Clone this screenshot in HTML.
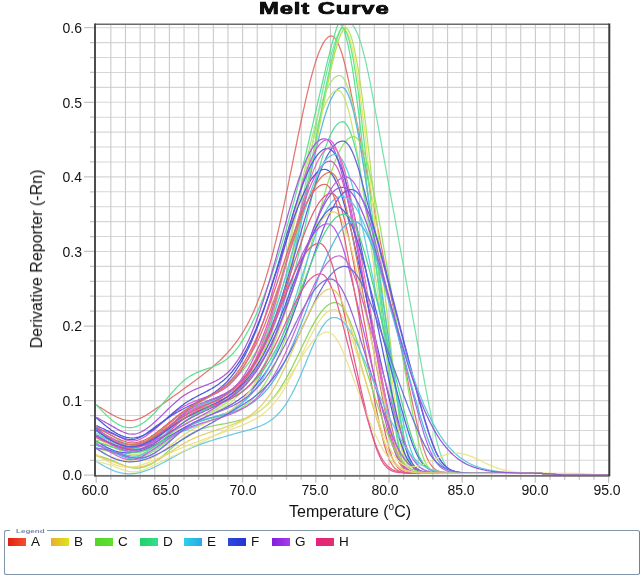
<!DOCTYPE html>
<html><head><meta charset="utf-8"><style>
html,body{margin:0;padding:0;background:#fff;}
body{width:644px;height:578px;position:relative;overflow:hidden;-webkit-font-smoothing:antialiased;font-family:"Liberation Sans",sans-serif;color:#111;}
.title{will-change:transform;position:absolute;left:259.2px;top:-0.6px;font-size:16.5px;font-weight:bold;letter-spacing:0.6px;-webkit-text-stroke:0.7px #000;transform:scaleX(1.445);transform-origin:0 0;white-space:nowrap;}
.ylab{will-change:transform;position:absolute;left:37.2px;top:259px;font-size:16px;white-space:nowrap;transform:translate(-50%,-50%) rotate(-90deg);}
.yl{will-change:transform;position:absolute;left:40px;width:42px;text-align:right;font-size:14px;line-height:17px;}
.xl{will-change:transform;position:absolute;top:482px;width:60px;text-align:center;font-size:14px;line-height:17px;}
.xlab{will-change:transform;position:absolute;left:288.6px;top:503px;font-size:16px;white-space:nowrap;}
.xlab sup{font-size:10px;vertical-align:0;position:relative;top:-7px;}
.legend{position:absolute;left:4.2px;top:530.1px;width:633.4px;height:42.6px;border:1.8px solid #8194a9;border-right-color:#6f8398;border-radius:2.5px;}
.legt{position:absolute;left:10px;top:526px;width:37px;height:9px;background:#fff;}
.legt span{will-change:transform;position:absolute;left:6px;top:0.6px;font-size:6.2px;font-weight:bold;line-height:7px;color:#7489a8;transform:scaleX(1.3);transform-origin:0 0;white-space:nowrap;}
.sw{position:absolute;top:538px;width:18px;height:8px;}
.lt{will-change:transform;position:absolute;top:534px;font-size:13.5px;line-height:15px;}
</style></head><body>
<svg width="644" height="578" viewBox="0 0 644 578" style="position:absolute;left:0;top:0"><defs><filter id="bl" x="-5%" y="-5%" width="110%" height="110%"><feGaussianBlur stdDeviation="0.0"/></filter><clipPath id="pc"><rect x="95.0" y="25.1" width="514.3" height="450.09999999999997"/></clipPath></defs><path d="M95.0,475.20H609.3 M95.0,460.28H609.3 M95.0,445.37H609.3 M95.0,430.45H609.3 M95.0,415.54H609.3 M95.0,400.62H609.3 M95.0,385.70H609.3 M95.0,370.79H609.3 M95.0,355.87H609.3 M95.0,340.96H609.3 M95.0,326.04H609.3 M95.0,311.12H609.3 M95.0,296.21H609.3 M95.0,281.29H609.3 M95.0,266.38H609.3 M95.0,251.46H609.3 M95.0,236.54H609.3 M95.0,221.63H609.3 M95.0,206.71H609.3 M95.0,191.80H609.3 M95.0,176.88H609.3 M95.0,161.96H609.3 M95.0,147.05H609.3 M95.0,132.13H609.3 M95.0,117.22H609.3 M95.0,102.30H609.3 M95.0,87.38H609.3 M95.0,72.47H609.3 M95.0,57.55H609.3 M95.0,42.64H609.3 M95.0,27.72H609.3" stroke="#d6d6d6" stroke-width="1.05" fill="none"/><path d="M110.84,24.3V475.2 M125.48,24.3V475.2 M140.12,24.3V475.2 M154.76,24.3V475.2 M169.40,24.3V475.2 M184.04,24.3V475.2 M198.68,24.3V475.2 M213.32,24.3V475.2 M227.96,24.3V475.2 M242.60,24.3V475.2 M257.24,24.3V475.2 M271.88,24.3V475.2 M286.52,24.3V475.2 M301.16,24.3V475.2 M315.80,24.3V475.2 M330.44,24.3V475.2 M345.08,24.3V475.2 M359.72,24.3V475.2 M374.36,24.3V475.2 M389.00,24.3V475.2 M403.64,24.3V475.2 M418.28,24.3V475.2 M432.92,24.3V475.2 M447.56,24.3V475.2 M462.20,24.3V475.2 M476.84,24.3V475.2 M491.48,24.3V475.2 M506.12,24.3V475.2 M520.76,24.3V475.2 M535.40,24.3V475.2 M550.04,24.3V475.2 M564.68,24.3V475.2 M579.32,24.3V475.2 M593.96,24.3V475.2" stroke="#cacaca" stroke-width="1.1" fill="none"/><path d="M96.20,476.2v6.5 M110.84,476.2v3.5 M125.48,476.2v3.5 M140.12,476.2v3.5 M154.76,476.2v3.5 M169.40,476.2v6.5 M184.04,476.2v3.5 M198.68,476.2v3.5 M213.32,476.2v3.5 M227.96,476.2v3.5 M242.60,476.2v6.5 M257.24,476.2v3.5 M271.88,476.2v3.5 M286.52,476.2v3.5 M301.16,476.2v3.5 M315.80,476.2v6.5 M330.44,476.2v3.5 M345.08,476.2v3.5 M359.72,476.2v3.5 M374.36,476.2v3.5 M389.00,476.2v6.5 M403.64,476.2v3.5 M418.28,476.2v3.5 M432.92,476.2v3.5 M447.56,476.2v3.5 M462.20,476.2v6.5 M476.84,476.2v3.5 M491.48,476.2v3.5 M506.12,476.2v3.5 M520.76,476.2v3.5 M535.40,476.2v6.5 M550.04,476.2v3.5 M564.68,476.2v3.5 M579.32,476.2v3.5 M593.96,476.2v3.5 M608.60,476.2v6.5 M95.0,475.20h-11 M95.0,460.28h-5 M95.0,445.37h-5 M95.0,430.45h-5 M95.0,415.54h-5 M95.0,400.62h-11 M95.0,385.70h-5 M95.0,370.79h-5 M95.0,355.87h-5 M95.0,340.96h-5 M95.0,326.04h-11 M95.0,311.12h-5 M95.0,296.21h-5 M95.0,281.29h-5 M95.0,266.38h-5 M95.0,251.46h-11 M95.0,236.54h-5 M95.0,221.63h-5 M95.0,206.71h-5 M95.0,191.80h-5 M95.0,176.88h-11 M95.0,161.96h-5 M95.0,147.05h-5 M95.0,132.13h-5 M95.0,117.22h-5 M95.0,102.30h-11 M95.0,87.38h-5 M95.0,72.47h-5 M95.0,57.55h-5 M95.0,42.64h-5 M95.0,27.72h-11" stroke="#c4c4c4" stroke-width="1.3" fill="none"/></svg><svg width="644" height="578" viewBox="0 0 644 578" style="position:absolute;left:0;top:0"><defs><clipPath id="pc2"><rect x="95.0" y="25.1" width="514.3" height="450.09999999999997"/></clipPath></defs><g clip-path="url(#pc2)"><g fill="none" stroke-width="1.25" stroke-linejoin="round" opacity="0.85"><path d="M96.2,404.7 L97.7,405.7 L99.1,406.7 L100.6,407.6 L102.1,408.6 L103.5,409.5 L105.0,410.4 L106.4,411.4 L107.9,412.2 L109.4,413.1 L110.8,413.9 L112.3,414.8 L113.8,415.5 L115.2,416.3 L116.7,417.0 L118.2,417.6 L119.6,418.2 L121.1,418.8 L122.6,419.3 L124.0,419.7 L125.5,420.0 L126.9,420.3 L128.4,420.4 L129.9,420.5 L131.3,420.5 L132.8,420.4 L134.3,420.2 L135.7,419.8 L137.2,419.4 L138.7,418.9 L140.1,418.3 L141.6,417.7 L143.0,416.9 L144.5,416.2 L146.0,415.3 L147.4,414.4 L148.9,413.5 L150.4,412.6 L151.8,411.6 L153.3,410.6 L154.8,409.6 L156.2,408.6 L157.7,407.5 L159.2,406.5 L160.6,405.5 L162.1,404.5 L163.5,403.4 L165.0,402.4 L166.5,401.3 L167.9,400.3 L169.4,399.2 L170.9,398.2 L172.3,397.1 L173.8,396.1 L175.3,395.0 L176.7,394.0 L178.2,392.9 L179.6,391.9 L181.1,390.8 L182.6,389.7 L184.0,388.7 L185.5,387.6 L187.0,386.6 L188.4,385.5 L189.9,384.4 L191.4,383.3 L192.8,382.3 L194.3,381.2 L195.8,380.1 L197.2,379.0 L198.7,377.9 L200.1,376.8 L201.6,375.7 L203.1,374.6 L204.5,373.4 L206.0,372.3 L207.5,371.1 L208.9,370.0 L210.4,368.8 L211.9,367.6 L213.3,366.3 L214.8,365.1 L216.2,363.8 L217.7,362.5 L219.2,361.1 L220.6,359.7 L222.1,358.3 L223.6,356.8 L225.0,355.3 L226.5,353.8 L228.0,352.1 L229.4,350.5 L230.9,348.8 L232.4,347.0 L233.8,345.2 L235.3,343.3 L236.7,341.3 L238.2,339.3 L239.7,337.2 L241.1,335.0 L242.6,332.7 L244.1,330.3 L245.5,327.8 L247.0,325.2 L248.5,322.4 L249.9,319.5 L251.4,316.5 L252.8,313.4 L254.3,310.0 L255.8,306.6 L257.2,302.9 L258.7,299.1 L260.2,295.2 L261.6,291.0 L263.1,286.7 L264.6,282.1 L266.0,277.4 L267.5,272.5 L269.0,267.5 L270.4,262.2 L271.9,256.7 L273.3,251.1 L274.8,245.2 L276.3,239.2 L277.7,233.0 L279.2,226.7 L280.7,220.2 L282.1,213.6 L283.6,206.8 L285.1,199.9 L286.5,192.9 L288.0,185.8 L289.4,178.6 L290.9,171.4 L292.4,164.1 L293.8,156.9 L295.3,149.6 L296.8,142.3 L298.2,135.1 L299.7,128.0 L301.2,121.0 L302.6,114.1 L304.1,107.3 L305.6,100.7 L307.0,94.3 L308.5,88.1 L309.9,82.2 L311.4,76.5 L312.9,71.2 L314.3,66.1 L315.8,61.4 L317.3,57.0 L318.7,53.0 L320.2,49.4 L321.7,46.2 L323.1,43.4 L324.6,41.0 L326.0,39.1 L327.5,37.6 L329.0,36.6 L330.4,36.0 L331.9,36.0 L333.4,36.8 L334.8,38.1 L336.3,40.2 L337.8,42.8 L339.2,46.1 L340.7,50.0 L342.2,54.5 L343.6,59.5 L345.1,65.1 L346.5,71.2 L348.0,77.9 L349.5,84.9 L350.9,92.3 L352.4,99.7 L353.9,107.2 L355.3,114.6 L356.8,122.0 L358.3,129.4 L359.7,136.8 L361.2,144.2 L362.6,151.7 L364.1,159.1 L365.6,166.5 L367.0,173.9 L368.5,181.4 L370.0,188.8 L371.4,196.2 L372.9,203.7 L374.4,211.1 L375.8,218.5 L377.3,226.0 L378.8,233.4 L380.2,240.9 L381.7,248.3 L383.1,255.7 L384.6,263.2 L386.1,270.6 L387.5,278.1 L389.0,285.5 L390.5,293.0 L391.9,300.4 L393.4,307.8 L394.9,315.3 L396.3,322.7 L397.8,330.1 L399.2,337.5 L400.7,344.9 L402.2,352.3 L403.6,359.7 L405.1,367.0 L406.6,374.3 L408.0,381.6 L409.5,388.8 L411.0,395.9 L412.4,402.9 L413.9,409.8 L415.4,416.5 L416.8,423.0 L418.3,429.2 L419.7,435.1 L421.2,440.6 L422.7,445.7 L424.1,450.3 L425.6,454.4 L427.1,458.0 L428.5,461.0 L430.0,463.6 L431.5,465.7 L432.9,467.4 L434.4,468.7 L435.8,469.8 L437.3,470.6 L438.8,471.2 L440.2,471.7 L441.7,472.1 L443.2,472.4 L444.6,472.6 L446.1,472.8 L447.6,472.9 L449.0,473.0 L450.5,473.1 L452.0,473.1 L453.4,473.1 L454.9,473.2 L456.3,473.2 L457.8,473.2 L459.3,473.2 L460.7,473.2 L462.2,473.2 L463.7,473.2 L465.1,473.3 L466.6,473.3 L468.1,473.3 L469.5,473.3 L471.0,473.3 L472.4,473.3 L473.9,473.3 L475.4,473.3 L476.8,473.3 L478.3,473.3 L479.8,473.3 L481.2,473.3 L482.7,473.3 L484.2,473.3 L485.6,473.3 L487.1,473.3 L488.6,473.3 L490.0,473.3 L491.5,473.3 L492.9,473.3 L494.4,473.3 L495.9,473.3 L497.3,473.3 L498.8,473.3 L500.3,473.3 L501.7,473.3 L503.2,473.3 L504.7,473.3 L506.1,473.3 L507.6,473.3 L509.0,473.3 L510.5,473.3 L512.0,473.3 L513.4,473.3 L514.9,473.3 L516.4,473.3 L517.8,473.3 L519.3,473.3 L520.8,473.3 L522.2,473.3 L523.7,473.3 L525.2,473.3 L526.6,473.3 L528.1,473.3 L529.5,473.3 L531.0,473.3 L532.5,473.3 L533.9,473.3 L535.4,473.3 L536.9,473.4 L538.3,473.4 L539.8,473.4 L541.3,473.4 L542.7,473.5 L544.2,473.5 L545.6,473.6 L547.1,473.7 L548.6,473.8 L550.0,473.9 L551.5,474.0 L553.0,474.1 L554.4,474.2 L555.9,474.4 L557.4,474.5 L558.8,474.6 L560.3,474.7 L561.8,474.8 L563.2,474.8 L564.7,474.9 L566.1,475.0 L567.6,475.0 L569.1,475.1 L570.5,475.1 L572.0,475.1 L573.5,475.1 L574.9,475.1 L576.4,475.2 L577.9,475.2 L579.3,475.2 L580.8,475.2 L582.2,475.2 L583.7,475.2 L585.2,475.2 L586.6,475.2 L588.1,475.2 L589.6,475.2 L591.0,475.2 L592.5,475.2 L594.0,475.2 L595.4,475.2 L596.9,475.2 L598.4,475.2 L599.8,475.2 L601.3,475.2 L602.7,475.2 L604.2,475.2 L605.7,475.2 L607.1,475.2 L608.6,475.2" stroke="#e05e58"/><path d="M96.2,404.7 L97.7,406.3 L99.1,407.8 L100.6,409.4 L102.1,410.9 L103.5,412.4 L105.0,413.8 L106.4,415.3 L107.9,416.6 L109.4,417.9 L110.8,419.2 L112.3,420.4 L113.8,421.5 L115.2,422.5 L116.7,423.5 L118.2,424.4 L119.6,425.1 L121.1,425.8 L122.6,426.4 L124.0,426.9 L125.5,427.2 L126.9,427.5 L128.4,427.7 L129.9,427.7 L131.3,427.7 L132.8,427.5 L134.3,427.2 L135.7,426.7 L137.2,426.2 L138.7,425.5 L140.1,424.8 L141.6,423.9 L143.0,423.0 L144.5,421.9 L146.0,420.8 L147.4,419.6 L148.9,418.3 L150.4,417.0 L151.8,415.6 L153.3,414.1 L154.8,412.6 L156.2,411.0 L157.7,409.4 L159.2,407.7 L160.6,406.0 L162.1,404.3 L163.5,402.6 L165.0,400.8 L166.5,399.1 L167.9,397.4 L169.4,395.6 L170.9,393.9 L172.3,392.2 L173.8,390.6 L175.3,389.0 L176.7,387.4 L178.2,385.9 L179.6,384.4 L181.1,383.1 L182.6,381.7 L184.0,380.5 L185.5,379.3 L187.0,378.2 L188.4,377.2 L189.9,376.3 L191.4,375.4 L192.8,374.6 L194.3,373.8 L195.8,373.1 L197.2,372.4 L198.7,371.8 L200.1,371.2 L201.6,370.7 L203.1,370.1 L204.5,369.6 L206.0,369.1 L207.5,368.6 L208.9,368.1 L210.4,367.6 L211.9,367.0 L213.3,366.5 L214.8,365.9 L216.2,365.3 L217.7,364.6 L219.2,363.9 L220.6,363.1 L222.1,362.3 L223.6,361.4 L225.0,360.4 L226.5,359.3 L228.0,358.1 L229.4,356.8 L230.9,355.4 L232.4,354.0 L233.8,352.3 L235.3,350.6 L236.7,348.8 L238.2,346.9 L239.7,344.8 L241.1,342.7 L242.6,340.4 L244.1,338.0 L245.5,335.5 L247.0,332.9 L248.5,330.3 L249.9,327.5 L251.4,324.6 L252.8,321.6 L254.3,318.5 L255.8,315.3 L257.2,312.1 L258.7,308.7 L260.2,305.3 L261.6,301.7 L263.1,298.1 L264.6,294.4 L266.0,290.6 L267.5,286.7 L269.0,282.7 L270.4,278.7 L271.9,274.5 L273.3,270.3 L274.8,266.0 L276.3,261.6 L277.7,257.1 L279.2,252.5 L280.7,247.8 L282.1,243.1 L283.6,238.2 L285.1,233.3 L286.5,228.2 L288.0,223.1 L289.4,217.9 L290.9,212.6 L292.4,207.2 L293.8,201.8 L295.3,196.2 L296.8,190.6 L298.2,184.8 L299.7,179.0 L301.2,173.2 L302.6,167.2 L304.1,161.2 L305.6,155.1 L307.0,148.9 L308.5,142.7 L309.9,136.5 L311.4,130.2 L312.9,123.9 L314.3,117.5 L315.8,111.1 L317.3,104.8 L318.7,98.4 L320.2,92.1 L321.7,85.8 L323.1,79.5 L324.6,73.3 L326.0,67.2 L327.5,61.2 L329.0,55.3 L330.4,49.6 L331.9,44.1 L333.4,38.8 L334.8,33.8 L336.3,29.1 L337.8,25.0 L339.2,23.3 L340.7,24.3 L342.2,26.3 L343.6,29.4 L345.1,33.5 L346.5,38.6 L348.0,44.7 L349.5,51.7 L350.9,59.6 L352.4,68.4 L353.9,77.8 L355.3,88.0 L356.8,98.8 L358.3,110.2 L359.7,122.1 L361.2,134.4 L362.6,147.0 L364.1,159.8 L365.6,172.5 L367.0,185.3 L368.5,198.1 L370.0,210.9 L371.4,223.6 L372.9,236.4 L374.4,249.2 L375.8,262.0 L377.3,274.7 L378.8,287.5 L380.2,300.3 L381.7,313.1 L383.1,325.8 L384.6,338.6 L386.1,351.3 L387.5,363.9 L389.0,376.4 L390.5,388.8 L391.9,401.0 L393.4,412.8 L394.9,424.0 L396.3,434.4 L397.8,443.7 L399.2,451.7 L400.7,458.1 L402.2,463.0 L403.6,466.6 L405.1,469.0 L406.6,470.6 L408.0,471.6 L409.5,472.3 L411.0,472.7 L412.4,472.9 L413.9,473.1 L415.4,473.2 L416.8,473.2 L418.3,473.3 L419.7,473.3 L421.2,473.3 L422.7,473.3 L424.1,473.3 L425.6,473.3 L427.1,473.3 L428.5,473.3 L430.0,473.3 L431.5,473.3 L432.9,473.3 L434.4,473.3 L435.8,473.3 L437.3,473.3 L438.8,473.3 L440.2,473.3 L441.7,473.3 L443.2,473.3 L444.6,473.3 L446.1,473.3 L447.6,473.3 L449.0,473.3 L450.5,473.3 L452.0,473.3 L453.4,473.3 L454.9,473.3 L456.3,473.3 L457.8,473.3 L459.3,473.3 L460.7,473.3 L462.2,473.3 L463.7,473.3 L465.1,473.3 L466.6,473.3 L468.1,473.3 L469.5,473.3 L471.0,473.3 L472.4,473.3 L473.9,473.3 L475.4,473.3 L476.8,473.3 L478.3,473.3 L479.8,473.3 L481.2,473.3 L482.7,473.3 L484.2,473.3 L485.6,473.3 L487.1,473.3 L488.6,473.3 L490.0,473.3 L491.5,473.3 L492.9,473.3 L494.4,473.3 L495.9,473.3 L497.3,473.3 L498.8,473.3 L500.3,473.3 L501.7,473.3 L503.2,473.3 L504.7,473.3 L506.1,473.3 L507.6,473.3 L509.0,473.3 L510.5,473.3 L512.0,473.3 L513.4,473.3 L514.9,473.3 L516.4,473.3 L517.8,473.3 L519.3,473.3 L520.8,473.3 L522.2,473.3 L523.7,473.3 L525.2,473.3 L526.6,473.3 L528.1,473.3 L529.5,473.3 L531.0,473.3 L532.5,473.3 L533.9,473.3 L535.4,473.3 L536.9,473.4 L538.3,473.4 L539.8,473.4 L541.3,473.4 L542.7,473.5 L544.2,473.5 L545.6,473.6 L547.1,473.7 L548.6,473.8 L550.0,473.9 L551.5,474.0 L553.0,474.1 L554.4,474.2 L555.9,474.4 L557.4,474.5 L558.8,474.6 L560.3,474.7 L561.8,474.8 L563.2,474.8 L564.7,474.9 L566.1,475.0 L567.6,475.0 L569.1,475.1 L570.5,475.1 L572.0,475.1 L573.5,475.1 L574.9,475.1 L576.4,475.2 L577.9,475.2 L579.3,475.2 L580.8,475.2 L582.2,475.2 L583.7,475.2 L585.2,475.2 L586.6,475.2 L588.1,475.2 L589.6,475.2 L591.0,475.2 L592.5,475.2 L594.0,475.2 L595.4,475.2 L596.9,475.2 L598.4,475.2 L599.8,475.2 L601.3,475.2 L602.7,475.2 L604.2,475.2 L605.7,475.2 L607.1,475.2 L608.6,475.2" stroke="#3ede80"/><path d="M96.2,432.8 L97.7,433.7 L99.1,434.5 L100.6,435.4 L102.1,436.2 L103.5,437.0 L105.0,437.9 L106.4,438.6 L107.9,439.4 L109.4,440.1 L110.8,440.8 L112.3,441.5 L113.8,442.1 L115.2,442.7 L116.7,443.2 L118.2,443.7 L119.6,444.1 L121.1,444.5 L122.6,444.8 L124.0,445.1 L125.5,445.4 L126.9,445.6 L128.4,445.8 L129.9,445.9 L131.3,446.0 L132.8,446.0 L134.3,446.0 L135.7,446.0 L137.2,445.9 L138.7,445.7 L140.1,445.5 L141.6,445.2 L143.0,444.9 L144.5,444.5 L146.0,444.1 L147.4,443.6 L148.9,443.0 L150.4,442.4 L151.8,441.7 L153.3,440.9 L154.8,440.0 L156.2,439.1 L157.7,438.1 L159.2,437.0 L160.6,435.8 L162.1,434.6 L163.5,433.4 L165.0,432.1 L166.5,430.8 L167.9,429.5 L169.4,428.1 L170.9,426.8 L172.3,425.4 L173.8,424.0 L175.3,422.6 L176.7,421.3 L178.2,420.0 L179.6,418.7 L181.1,417.4 L182.6,416.2 L184.0,415.0 L185.5,413.8 L187.0,412.8 L188.4,411.7 L189.9,410.7 L191.4,409.8 L192.8,408.9 L194.3,408.0 L195.8,407.2 L197.2,406.4 L198.7,405.7 L200.1,405.0 L201.6,404.3 L203.1,403.6 L204.5,403.0 L206.0,402.3 L207.5,401.7 L208.9,401.1 L210.4,400.6 L211.9,400.0 L213.3,399.4 L214.8,398.9 L216.2,398.3 L217.7,397.8 L219.2,397.2 L220.6,396.6 L222.1,396.0 L223.6,395.4 L225.0,394.7 L226.5,394.0 L228.0,393.3 L229.4,392.6 L230.9,391.8 L232.4,390.9 L233.8,390.1 L235.3,389.1 L236.7,388.2 L238.2,387.1 L239.7,386.0 L241.1,384.8 L242.6,383.6 L244.1,382.3 L245.5,380.8 L247.0,379.3 L248.5,377.7 L249.9,376.0 L251.4,374.2 L252.8,372.2 L254.3,370.1 L255.8,367.9 L257.2,365.6 L258.7,363.1 L260.2,360.4 L261.6,357.6 L263.1,354.6 L264.6,351.5 L266.0,348.2 L267.5,344.6 L269.0,340.9 L270.4,337.0 L271.9,332.9 L273.3,328.6 L274.8,324.1 L276.3,319.3 L277.7,314.4 L279.2,309.2 L280.7,303.8 L282.1,298.2 L283.6,292.4 L285.1,286.3 L286.5,280.1 L288.0,273.6 L289.4,267.0 L290.9,260.1 L292.4,253.1 L293.8,245.9 L295.3,238.5 L296.8,231.0 L298.2,223.3 L299.7,215.5 L301.2,207.6 L302.6,199.5 L304.1,191.4 L305.6,183.3 L307.0,175.1 L308.5,166.9 L309.9,158.6 L311.4,150.5 L312.9,142.3 L314.3,134.2 L315.8,126.3 L317.3,118.4 L318.7,110.7 L320.2,103.2 L321.7,95.8 L323.1,88.7 L324.6,81.9 L326.0,75.3 L327.5,69.0 L329.0,63.0 L330.4,57.3 L331.9,52.0 L333.4,47.1 L334.8,42.6 L336.3,38.6 L337.8,34.9 L339.2,31.7 L340.7,29.0 L342.2,26.7 L343.6,24.9 L345.1,23.6 L346.5,22.8 L348.0,22.5 L349.5,22.7 L350.9,23.4 L352.4,24.7 L353.9,26.6 L355.3,29.1 L356.8,32.1 L358.3,35.7 L359.7,39.8 L361.2,44.4 L362.6,49.5 L364.1,55.1 L365.6,61.2 L367.0,67.6 L368.5,74.5 L370.0,81.8 L371.4,89.4 L372.9,97.4 L374.4,105.4 L375.8,113.5 L377.3,121.6 L378.8,129.6 L380.2,137.7 L381.7,145.8 L383.1,153.9 L384.6,161.9 L386.1,170.0 L387.5,178.1 L389.0,186.2 L390.5,194.3 L391.9,202.4 L393.4,210.4 L394.9,218.5 L396.3,226.6 L397.8,234.7 L399.2,242.8 L400.7,250.9 L402.2,259.0 L403.6,267.1 L405.1,275.1 L406.6,283.2 L408.0,291.3 L409.5,299.4 L411.0,307.5 L412.4,315.6 L413.9,323.6 L415.4,331.7 L416.8,339.8 L418.3,347.8 L419.7,355.8 L421.2,363.8 L422.7,371.8 L424.1,379.7 L425.6,387.5 L427.1,395.3 L428.5,402.9 L430.0,410.4 L431.5,417.6 L432.9,424.6 L434.4,431.3 L435.8,437.5 L437.3,443.3 L438.8,448.6 L440.2,453.2 L441.7,457.3 L443.2,460.7 L444.6,463.5 L446.1,465.8 L447.6,467.6 L449.0,469.0 L450.5,470.1 L452.0,470.9 L453.4,471.5 L454.9,472.0 L456.3,472.3 L457.8,472.6 L459.3,472.7 L460.7,472.9 L462.2,473.0 L463.7,473.1 L465.1,473.1 L466.6,473.2 L468.1,473.2 L469.5,473.2 L471.0,473.2 L472.4,473.2 L473.9,473.2 L475.4,473.2 L476.8,473.3 L478.3,473.3 L479.8,473.3 L481.2,473.3 L482.7,473.3 L484.2,473.3 L485.6,473.3 L487.1,473.3 L488.6,473.3 L490.0,473.3 L491.5,473.3 L492.9,473.3 L494.4,473.3 L495.9,473.3 L497.3,473.3 L498.8,473.3 L500.3,473.3 L501.7,473.3 L503.2,473.3 L504.7,473.3 L506.1,473.3 L507.6,473.3 L509.0,473.3 L510.5,473.3 L512.0,473.3 L513.4,473.3 L514.9,473.3 L516.4,473.3 L517.8,473.3 L519.3,473.3 L520.8,473.3 L522.2,473.3 L523.7,473.3 L525.2,473.3 L526.6,473.3 L528.1,473.3 L529.5,473.3 L531.0,473.3 L532.5,473.3 L533.9,473.3 L535.4,473.3 L536.9,473.4 L538.3,473.4 L539.8,473.4 L541.3,473.4 L542.7,473.5 L544.2,473.5 L545.6,473.6 L547.1,473.7 L548.6,473.8 L550.0,473.9 L551.5,474.0 L553.0,474.1 L554.4,474.2 L555.9,474.4 L557.4,474.5 L558.8,474.6 L560.3,474.7 L561.8,474.8 L563.2,474.8 L564.7,474.9 L566.1,475.0 L567.6,475.0 L569.1,475.1 L570.5,475.1 L572.0,475.1 L573.5,475.1 L574.9,475.1 L576.4,475.2 L577.9,475.2 L579.3,475.2 L580.8,475.2 L582.2,475.2 L583.7,475.2 L585.2,475.2 L586.6,475.2 L588.1,475.2 L589.6,475.2 L591.0,475.2 L592.5,475.2 L594.0,475.2 L595.4,475.2 L596.9,475.2 L598.4,475.2 L599.8,475.2 L601.3,475.2 L602.7,475.2 L604.2,475.2 L605.7,475.2 L607.1,475.2 L608.6,475.2" stroke="#5ede9e"/><path d="M96.2,437.3 L97.7,438.3 L99.1,439.3 L100.6,440.2 L102.1,441.2 L103.5,442.1 L105.0,443.0 L106.4,443.9 L107.9,444.8 L109.4,445.6 L110.8,446.4 L112.3,447.1 L113.8,447.8 L115.2,448.5 L116.7,449.0 L118.2,449.6 L119.6,450.1 L121.1,450.5 L122.6,450.9 L124.0,451.2 L125.5,451.5 L126.9,451.7 L128.4,451.8 L129.9,451.9 L131.3,452.0 L132.8,452.0 L134.3,451.9 L135.7,451.8 L137.2,451.6 L138.7,451.4 L140.1,451.1 L141.6,450.8 L143.0,450.4 L144.5,449.9 L146.0,449.4 L147.4,448.9 L148.9,448.3 L150.4,447.6 L151.8,446.9 L153.3,446.2 L154.8,445.4 L156.2,444.6 L157.7,443.7 L159.2,442.7 L160.6,441.8 L162.1,440.8 L163.5,439.7 L165.0,438.7 L166.5,437.6 L167.9,436.5 L169.4,435.4 L170.9,434.3 L172.3,433.2 L173.8,432.1 L175.3,431.1 L176.7,430.0 L178.2,428.9 L179.6,427.9 L181.1,426.8 L182.6,425.8 L184.0,424.9 L185.5,423.9 L187.0,423.0 L188.4,422.1 L189.9,421.3 L191.4,420.5 L192.8,419.7 L194.3,418.9 L195.8,418.1 L197.2,417.4 L198.7,416.7 L200.1,415.9 L201.6,415.2 L203.1,414.5 L204.5,413.9 L206.0,413.2 L207.5,412.5 L208.9,411.8 L210.4,411.1 L211.9,410.3 L213.3,409.6 L214.8,408.9 L216.2,408.1 L217.7,407.3 L219.2,406.5 L220.6,405.7 L222.1,404.8 L223.6,403.9 L225.0,402.9 L226.5,401.9 L228.0,400.8 L229.4,399.7 L230.9,398.6 L232.4,397.4 L233.8,396.1 L235.3,394.8 L236.7,393.4 L238.2,392.0 L239.7,390.4 L241.1,388.8 L242.6,387.2 L244.1,385.4 L245.5,383.6 L247.0,381.6 L248.5,379.6 L249.9,377.5 L251.4,375.3 L252.8,373.0 L254.3,370.6 L255.8,368.0 L257.2,365.4 L258.7,362.6 L260.2,359.7 L261.6,356.7 L263.1,353.5 L264.6,350.3 L266.0,346.8 L267.5,343.3 L269.0,339.6 L270.4,335.7 L271.9,331.7 L273.3,327.6 L274.8,323.3 L276.3,318.8 L277.7,314.2 L279.2,309.4 L280.7,304.4 L282.1,299.3 L283.6,294.1 L285.1,288.6 L286.5,283.0 L288.0,277.2 L289.4,271.3 L290.9,265.2 L292.4,259.0 L293.8,252.6 L295.3,246.0 L296.8,239.3 L298.2,232.5 L299.7,225.5 L301.2,218.4 L302.6,211.2 L304.1,203.8 L305.6,196.4 L307.0,188.9 L308.5,181.3 L309.9,173.6 L311.4,165.9 L312.9,158.1 L314.3,150.3 L315.8,142.6 L317.3,134.8 L318.7,127.1 L320.2,119.4 L321.7,111.8 L323.1,104.3 L324.6,96.9 L326.0,89.7 L327.5,82.7 L329.0,75.9 L330.4,69.4 L331.9,63.1 L333.4,57.2 L334.8,51.7 L336.3,46.6 L337.8,41.9 L339.2,37.9 L340.7,34.4 L342.2,31.8 L343.6,30.1 L345.1,30.2 L346.5,31.4 L348.0,33.9 L349.5,37.5 L350.9,42.2 L352.4,48.0 L353.9,54.8 L355.3,62.6 L356.8,71.3 L358.3,80.8 L359.7,91.2 L361.2,102.3 L362.6,113.9 L364.1,126.2 L365.6,138.9 L367.0,152.0 L368.5,165.2 L370.0,178.4 L371.4,191.6 L372.9,204.9 L374.4,218.1 L375.8,231.3 L377.3,244.5 L378.8,257.8 L380.2,271.0 L381.7,284.2 L383.1,297.5 L384.6,310.7 L386.1,323.9 L387.5,337.1 L389.0,350.3 L390.5,363.3 L391.9,376.3 L393.4,389.2 L394.9,401.8 L396.3,413.9 L397.8,425.5 L399.2,436.1 L400.7,445.5 L402.2,453.4 L403.6,459.7 L405.1,464.3 L406.6,467.5 L408.0,469.7 L409.5,471.1 L411.0,472.0 L412.4,472.5 L413.9,472.8 L415.4,473.0 L416.8,473.1 L418.3,473.2 L419.7,473.3 L421.2,473.3 L422.7,473.3 L424.1,473.3 L425.6,473.3 L427.1,473.3 L428.5,473.3 L430.0,473.3 L431.5,473.3 L432.9,473.3 L434.4,473.3 L435.8,473.3 L437.3,473.3 L438.8,473.3 L440.2,473.3 L441.7,473.3 L443.2,473.3 L444.6,473.3 L446.1,473.3 L447.6,473.3 L449.0,473.3 L450.5,473.3 L452.0,473.3 L453.4,473.3 L454.9,473.3 L456.3,473.3 L457.8,473.3 L459.3,473.3 L460.7,473.3 L462.2,473.3 L463.7,473.3 L465.1,473.3 L466.6,473.3 L468.1,473.3 L469.5,473.3 L471.0,473.3 L472.4,473.3 L473.9,473.3 L475.4,473.3 L476.8,473.3 L478.3,473.3 L479.8,473.3 L481.2,473.3 L482.7,473.3 L484.2,473.3 L485.6,473.3 L487.1,473.3 L488.6,473.3 L490.0,473.3 L491.5,473.3 L492.9,473.3 L494.4,473.3 L495.9,473.3 L497.3,473.3 L498.8,473.3 L500.3,473.3 L501.7,473.3 L503.2,473.3 L504.7,473.3 L506.1,473.3 L507.6,473.3 L509.0,473.3 L510.5,473.3 L512.0,473.3 L513.4,473.3 L514.9,473.3 L516.4,473.3 L517.8,473.3 L519.3,473.3 L520.8,473.3 L522.2,473.3 L523.7,473.3 L525.2,473.3 L526.6,473.3 L528.1,473.3 L529.5,473.3 L531.0,473.3 L532.5,473.3 L533.9,473.3 L535.4,473.3 L536.9,473.4 L538.3,473.4 L539.8,473.4 L541.3,473.4 L542.7,473.5 L544.2,473.5 L545.6,473.6 L547.1,473.7 L548.6,473.8 L550.0,473.9 L551.5,474.0 L553.0,474.1 L554.4,474.2 L555.9,474.4 L557.4,474.5 L558.8,474.6 L560.3,474.7 L561.8,474.8 L563.2,474.8 L564.7,474.9 L566.1,475.0 L567.6,475.0 L569.1,475.1 L570.5,475.1 L572.0,475.1 L573.5,475.1 L574.9,475.1 L576.4,475.2 L577.9,475.2 L579.3,475.2 L580.8,475.2 L582.2,475.2 L583.7,475.2 L585.2,475.2 L586.6,475.2 L588.1,475.2 L589.6,475.2 L591.0,475.2 L592.5,475.2 L594.0,475.2 L595.4,475.2 L596.9,475.2 L598.4,475.2 L599.8,475.2 L601.3,475.2 L602.7,475.2 L604.2,475.2 L605.7,475.2 L607.1,475.2 L608.6,475.2" stroke="#ece064"/><path d="M96.2,436.8 L97.7,437.4 L99.1,438.1 L100.6,438.7 L102.1,439.4 L103.5,440.0 L105.0,440.7 L106.4,441.3 L107.9,441.9 L109.4,442.5 L110.8,443.2 L112.3,443.8 L113.8,444.4 L115.2,445.0 L116.7,445.5 L118.2,446.1 L119.6,446.6 L121.1,447.1 L122.6,447.6 L124.0,447.9 L125.5,448.3 L126.9,448.5 L128.4,448.7 L129.9,448.8 L131.3,448.7 L132.8,448.6 L134.3,448.4 L135.7,448.1 L137.2,447.6 L138.7,447.1 L140.1,446.5 L141.6,445.8 L143.0,445.1 L144.5,444.3 L146.0,443.4 L147.4,442.5 L148.9,441.5 L150.4,440.6 L151.8,439.5 L153.3,438.5 L154.8,437.5 L156.2,436.4 L157.7,435.4 L159.2,434.3 L160.6,433.3 L162.1,432.2 L163.5,431.2 L165.0,430.1 L166.5,429.1 L167.9,428.1 L169.4,427.1 L170.9,426.1 L172.3,425.1 L173.8,424.1 L175.3,423.2 L176.7,422.3 L178.2,421.3 L179.6,420.5 L181.1,419.6 L182.6,418.8 L184.0,417.9 L185.5,417.2 L187.0,416.4 L188.4,415.7 L189.9,415.0 L191.4,414.3 L192.8,413.6 L194.3,412.9 L195.8,412.3 L197.2,411.7 L198.7,411.1 L200.1,410.5 L201.6,409.9 L203.1,409.3 L204.5,408.7 L206.0,408.1 L207.5,407.5 L208.9,406.9 L210.4,406.2 L211.9,405.6 L213.3,405.0 L214.8,404.3 L216.2,403.6 L217.7,402.9 L219.2,402.2 L220.6,401.4 L222.1,400.6 L223.6,399.8 L225.0,398.9 L226.5,398.0 L228.0,397.1 L229.4,396.1 L230.9,395.0 L232.4,393.9 L233.8,392.7 L235.3,391.5 L236.7,390.2 L238.2,388.8 L239.7,387.4 L241.1,385.9 L242.6,384.3 L244.1,382.7 L245.5,381.0 L247.0,379.1 L248.5,377.2 L249.9,375.2 L251.4,373.1 L252.8,370.9 L254.3,368.6 L255.8,366.2 L257.2,363.7 L258.7,361.0 L260.2,358.3 L261.6,355.4 L263.1,352.3 L264.6,349.2 L266.0,345.9 L267.5,342.5 L269.0,338.9 L270.4,335.2 L271.9,331.3 L273.3,327.3 L274.8,323.2 L276.3,318.8 L277.7,314.3 L279.2,309.7 L280.7,304.9 L282.1,299.9 L283.6,294.8 L285.1,289.5 L286.5,284.0 L288.0,278.4 L289.4,272.6 L290.9,266.6 L292.4,260.5 L293.8,254.2 L295.3,247.8 L296.8,241.2 L298.2,234.5 L299.7,227.7 L301.2,220.7 L302.6,213.5 L304.1,206.3 L305.6,199.0 L307.0,191.5 L308.5,184.0 L309.9,176.4 L311.4,168.7 L312.9,161.0 L314.3,153.2 L315.8,145.5 L317.3,137.7 L318.7,130.0 L320.2,122.3 L321.7,114.6 L323.1,107.1 L324.6,99.7 L326.0,92.4 L327.5,85.2 L329.0,78.3 L330.4,71.6 L331.9,65.1 L333.4,59.0 L334.8,53.2 L336.3,47.8 L337.8,42.8 L339.2,38.4 L340.7,34.5 L342.2,31.3 L343.6,28.9 L345.1,27.7 L346.5,28.2 L348.0,29.7 L349.5,32.4 L350.9,36.1 L352.4,40.9 L353.9,46.8 L355.3,53.6 L356.8,61.3 L358.3,69.9 L359.7,79.4 L361.2,89.5 L362.6,100.4 L364.1,111.8 L365.6,123.8 L367.0,136.2 L368.5,149.0 L370.0,161.9 L371.4,174.9 L372.9,187.9 L374.4,200.8 L375.8,213.8 L377.3,226.8 L378.8,239.7 L380.2,252.7 L381.7,265.7 L383.1,278.6 L384.6,291.6 L386.1,304.6 L387.5,317.5 L389.0,330.4 L390.5,343.4 L391.9,356.2 L393.4,369.0 L394.9,381.7 L396.3,394.2 L397.8,406.4 L399.2,418.1 L400.7,429.1 L402.2,439.2 L403.6,448.0 L405.1,455.3 L406.6,461.0 L408.0,465.2 L409.5,468.1 L411.0,470.0 L412.4,471.3 L413.9,472.1 L415.4,472.6 L416.8,472.9 L418.3,473.0 L419.7,473.1 L421.2,473.2 L422.7,473.3 L424.1,473.3 L425.6,473.3 L427.1,473.3 L428.5,473.3 L430.0,473.3 L431.5,473.3 L432.9,473.3 L434.4,473.3 L435.8,473.3 L437.3,473.3 L438.8,473.3 L440.2,473.3 L441.7,473.3 L443.2,473.3 L444.6,473.3 L446.1,473.3 L447.6,473.3 L449.0,473.3 L450.5,473.3 L452.0,473.3 L453.4,473.3 L454.9,473.3 L456.3,473.3 L457.8,473.3 L459.3,473.3 L460.7,473.3 L462.2,473.3 L463.7,473.3 L465.1,473.3 L466.6,473.3 L468.1,473.3 L469.5,473.3 L471.0,473.3 L472.4,473.3 L473.9,473.3 L475.4,473.3 L476.8,473.3 L478.3,473.3 L479.8,473.3 L481.2,473.3 L482.7,473.3 L484.2,473.3 L485.6,473.3 L487.1,473.3 L488.6,473.3 L490.0,473.3 L491.5,473.3 L492.9,473.3 L494.4,473.3 L495.9,473.3 L497.3,473.3 L498.8,473.3 L500.3,473.3 L501.7,473.3 L503.2,473.3 L504.7,473.3 L506.1,473.3 L507.6,473.3 L509.0,473.3 L510.5,473.3 L512.0,473.3 L513.4,473.3 L514.9,473.3 L516.4,473.3 L517.8,473.3 L519.3,473.3 L520.8,473.3 L522.2,473.3 L523.7,473.3 L525.2,473.3 L526.6,473.3 L528.1,473.3 L529.5,473.3 L531.0,473.3 L532.5,473.3 L533.9,473.3 L535.4,473.3 L536.9,473.4 L538.3,473.4 L539.8,473.4 L541.3,473.4 L542.7,473.5 L544.2,473.5 L545.6,473.6 L547.1,473.7 L548.6,473.8 L550.0,473.9 L551.5,474.0 L553.0,474.1 L554.4,474.2 L555.9,474.4 L557.4,474.5 L558.8,474.6 L560.3,474.7 L561.8,474.8 L563.2,474.8 L564.7,474.9 L566.1,475.0 L567.6,475.0 L569.1,475.1 L570.5,475.1 L572.0,475.1 L573.5,475.1 L574.9,475.1 L576.4,475.2 L577.9,475.2 L579.3,475.2 L580.8,475.2 L582.2,475.2 L583.7,475.2 L585.2,475.2 L586.6,475.2 L588.1,475.2 L589.6,475.2 L591.0,475.2 L592.5,475.2 L594.0,475.2 L595.4,475.2 L596.9,475.2 L598.4,475.2 L599.8,475.2 L601.3,475.2 L602.7,475.2 L604.2,475.2 L605.7,475.2 L607.1,475.2 L608.6,475.2" stroke="#a8e040"/><path d="M96.2,440.1 L97.7,440.3 L99.1,440.5 L100.6,440.7 L102.1,440.9 L103.5,441.2 L105.0,441.4 L106.4,441.8 L107.9,442.1 L109.4,442.5 L110.8,443.0 L112.3,443.5 L113.8,444.1 L115.2,444.8 L116.7,445.5 L118.2,446.3 L119.6,447.1 L121.1,447.9 L122.6,448.7 L124.0,449.4 L125.5,450.1 L126.9,450.8 L128.4,451.4 L129.9,451.9 L131.3,452.3 L132.8,452.6 L134.3,452.8 L135.7,452.8 L137.2,452.7 L138.7,452.5 L140.1,452.2 L141.6,451.8 L143.0,451.3 L144.5,450.7 L146.0,450.1 L147.4,449.3 L148.9,448.6 L150.4,447.7 L151.8,446.8 L153.3,445.9 L154.8,445.0 L156.2,444.0 L157.7,443.0 L159.2,441.9 L160.6,440.9 L162.1,439.9 L163.5,438.8 L165.0,437.7 L166.5,436.7 L167.9,435.6 L169.4,434.5 L170.9,433.5 L172.3,432.4 L173.8,431.4 L175.3,430.3 L176.7,429.3 L178.2,428.4 L179.6,427.4 L181.1,426.4 L182.6,425.5 L184.0,424.7 L185.5,423.8 L187.0,423.0 L188.4,422.2 L189.9,421.4 L191.4,420.7 L192.8,420.0 L194.3,419.3 L195.8,418.6 L197.2,418.0 L198.7,417.3 L200.1,416.7 L201.6,416.0 L203.1,415.4 L204.5,414.8 L206.0,414.2 L207.5,413.5 L208.9,412.9 L210.4,412.2 L211.9,411.6 L213.3,410.9 L214.8,410.2 L216.2,409.4 L217.7,408.6 L219.2,407.8 L220.6,407.0 L222.1,406.1 L223.6,405.1 L225.0,404.1 L226.5,403.0 L228.0,401.9 L229.4,400.7 L230.9,399.4 L232.4,398.0 L233.8,396.6 L235.3,395.0 L236.7,393.4 L238.2,391.7 L239.7,389.8 L241.1,387.9 L242.6,385.8 L244.1,383.6 L245.5,381.3 L247.0,378.9 L248.5,376.4 L249.9,373.7 L251.4,370.8 L252.8,367.8 L254.3,364.7 L255.8,361.4 L257.2,357.9 L258.7,354.3 L260.2,350.5 L261.6,346.6 L263.1,342.4 L264.6,338.2 L266.0,333.7 L267.5,329.1 L269.0,324.3 L270.4,319.3 L271.9,314.1 L273.3,308.8 L274.8,303.4 L276.3,297.7 L277.7,291.9 L279.2,286.0 L280.7,279.9 L282.1,273.7 L283.6,267.4 L285.1,261.0 L286.5,254.4 L288.0,247.8 L289.4,241.0 L290.9,234.2 L292.4,227.4 L293.8,220.4 L295.3,213.5 L296.8,206.6 L298.2,199.6 L299.7,192.7 L301.2,185.8 L302.6,178.9 L304.1,172.2 L305.6,165.5 L307.0,158.9 L308.5,152.4 L309.9,146.1 L311.4,140.0 L312.9,134.0 L314.3,128.3 L315.8,122.7 L317.3,117.4 L318.7,112.4 L320.2,107.6 L321.7,103.1 L323.1,98.8 L324.6,94.9 L326.0,91.4 L327.5,88.1 L329.0,85.2 L330.4,82.7 L331.9,80.6 L333.4,78.8 L334.8,77.4 L336.3,76.3 L337.8,75.7 L339.2,75.5 L340.7,75.7 L342.2,76.7 L343.6,78.5 L345.1,81.0 L346.5,84.2 L348.0,88.2 L349.5,92.8 L350.9,98.1 L352.4,104.0 L353.9,110.6 L355.3,117.6 L356.8,125.3 L358.3,133.3 L359.7,141.9 L361.2,150.8 L362.6,160.1 L364.1,169.7 L365.6,179.5 L367.0,189.6 L368.5,199.6 L370.0,209.7 L371.4,219.8 L372.9,229.8 L374.4,239.9 L375.8,250.0 L377.3,260.1 L378.8,270.1 L380.2,280.2 L381.7,290.3 L383.1,300.3 L384.6,310.4 L386.1,320.5 L387.5,330.5 L389.0,340.5 L390.5,350.5 L391.9,360.5 L393.4,370.4 L394.9,380.3 L396.3,390.0 L397.8,399.6 L399.2,409.0 L400.7,418.0 L402.2,426.7 L403.6,434.8 L405.1,442.2 L406.6,448.8 L408.0,454.5 L409.5,459.2 L411.0,462.9 L412.4,465.8 L413.9,468.0 L415.4,469.6 L416.8,470.7 L418.3,471.5 L419.7,472.1 L421.2,472.5 L422.7,472.7 L424.1,472.9 L425.6,473.0 L427.1,473.1 L428.5,473.2 L430.0,473.2 L431.5,473.2 L432.9,473.2 L434.4,473.3 L435.8,473.3 L437.3,473.3 L438.8,473.3 L440.2,473.3 L441.7,473.3 L443.2,473.3 L444.6,473.3 L446.1,473.3 L447.6,473.3 L449.0,473.3 L450.5,473.3 L452.0,473.3 L453.4,473.3 L454.9,473.3 L456.3,473.3 L457.8,473.3 L459.3,473.3 L460.7,473.3 L462.2,473.3 L463.7,473.3 L465.1,473.3 L466.6,473.3 L468.1,473.3 L469.5,473.3 L471.0,473.3 L472.4,473.3 L473.9,473.3 L475.4,473.3 L476.8,473.3 L478.3,473.3 L479.8,473.3 L481.2,473.3 L482.7,473.3 L484.2,473.3 L485.6,473.3 L487.1,473.3 L488.6,473.3 L490.0,473.3 L491.5,473.3 L492.9,473.3 L494.4,473.3 L495.9,473.3 L497.3,473.3 L498.8,473.3 L500.3,473.3 L501.7,473.3 L503.2,473.3 L504.7,473.3 L506.1,473.3 L507.6,473.3 L509.0,473.3 L510.5,473.3 L512.0,473.3 L513.4,473.3 L514.9,473.3 L516.4,473.3 L517.8,473.3 L519.3,473.3 L520.8,473.3 L522.2,473.3 L523.7,473.3 L525.2,473.3 L526.6,473.3 L528.1,473.3 L529.5,473.3 L531.0,473.3 L532.5,473.3 L533.9,473.3 L535.4,473.3 L536.9,473.4 L538.3,473.4 L539.8,473.4 L541.3,473.4 L542.7,473.5 L544.2,473.5 L545.6,473.6 L547.1,473.7 L548.6,473.8 L550.0,473.9 L551.5,474.0 L553.0,474.1 L554.4,474.2 L555.9,474.4 L557.4,474.5 L558.8,474.6 L560.3,474.7 L561.8,474.8 L563.2,474.8 L564.7,474.9 L566.1,475.0 L567.6,475.0 L569.1,475.1 L570.5,475.1 L572.0,475.1 L573.5,475.1 L574.9,475.1 L576.4,475.2 L577.9,475.2 L579.3,475.2 L580.8,475.2 L582.2,475.2 L583.7,475.2 L585.2,475.2 L586.6,475.2 L588.1,475.2 L589.6,475.2 L591.0,475.2 L592.5,475.2 L594.0,475.2 L595.4,475.2 L596.9,475.2 L598.4,475.2 L599.8,475.2 L601.3,475.2 L602.7,475.2 L604.2,475.2 L605.7,475.2 L607.1,475.2 L608.6,475.2" stroke="#a0e070"/><path d="M96.2,444.8 L97.7,445.3 L99.1,445.7 L100.6,446.2 L102.1,446.7 L103.5,447.1 L105.0,447.6 L106.4,448.1 L107.9,448.5 L109.4,449.0 L110.8,449.5 L112.3,450.1 L113.8,450.6 L115.2,451.1 L116.7,451.7 L118.2,452.2 L119.6,452.8 L121.1,453.3 L122.6,453.8 L124.0,454.3 L125.5,454.7 L126.9,455.1 L128.4,455.4 L129.9,455.7 L131.3,455.9 L132.8,456.0 L134.3,456.0 L135.7,456.0 L137.2,455.8 L138.7,455.6 L140.1,455.3 L141.6,455.0 L143.0,454.6 L144.5,454.1 L146.0,453.5 L147.4,452.9 L148.9,452.2 L150.4,451.5 L151.8,450.7 L153.3,449.8 L154.8,449.0 L156.2,448.0 L157.7,447.1 L159.2,446.1 L160.6,445.0 L162.1,444.0 L163.5,442.9 L165.0,441.8 L166.5,440.6 L167.9,439.5 L169.4,438.4 L170.9,437.3 L172.3,436.2 L173.8,435.1 L175.3,434.0 L176.7,432.9 L178.2,431.8 L179.6,430.8 L181.1,429.8 L182.6,428.9 L184.0,428.0 L185.5,427.2 L187.0,426.3 L188.4,425.6 L189.9,424.9 L191.4,424.2 L192.8,423.5 L194.3,422.9 L195.8,422.3 L197.2,421.8 L198.7,421.3 L200.1,420.8 L201.6,420.3 L203.1,419.9 L204.5,419.4 L206.0,419.0 L207.5,418.6 L208.9,418.2 L210.4,417.8 L211.9,417.4 L213.3,417.0 L214.8,416.6 L216.2,416.2 L217.7,415.8 L219.2,415.4 L220.6,414.9 L222.1,414.4 L223.6,413.9 L225.0,413.4 L226.5,412.8 L228.0,412.1 L229.4,411.5 L230.9,410.7 L232.4,409.9 L233.8,409.0 L235.3,408.1 L236.7,407.1 L238.2,406.0 L239.7,404.9 L241.1,403.6 L242.6,402.3 L244.1,400.8 L245.5,399.3 L247.0,397.6 L248.5,395.8 L249.9,393.9 L251.4,391.9 L252.8,389.7 L254.3,387.4 L255.8,384.9 L257.2,382.3 L258.7,379.5 L260.2,376.6 L261.6,373.5 L263.1,370.2 L264.6,366.7 L266.0,363.0 L267.5,359.2 L269.0,355.1 L270.4,350.9 L271.9,346.5 L273.3,341.8 L274.8,337.0 L276.3,332.0 L277.7,326.7 L279.2,321.3 L280.7,315.7 L282.1,309.9 L283.6,303.9 L285.1,297.8 L286.5,291.5 L288.0,285.0 L289.4,278.3 L290.9,271.6 L292.4,264.7 L293.8,257.7 L295.3,250.6 L296.8,243.4 L298.2,236.1 L299.7,228.8 L301.2,221.5 L302.6,214.1 L304.1,206.8 L305.6,199.5 L307.0,192.2 L308.5,185.0 L309.9,177.9 L311.4,170.9 L312.9,164.0 L314.3,157.3 L315.8,150.8 L317.3,144.5 L318.7,138.5 L320.2,132.6 L321.7,127.1 L323.1,121.8 L324.6,116.9 L326.0,112.3 L327.5,108.0 L329.0,104.1 L330.4,100.6 L331.9,97.4 L333.4,94.7 L334.8,92.4 L336.3,90.5 L337.8,89.1 L339.2,88.1 L340.7,87.5 L342.2,87.4 L343.6,87.9 L345.1,89.2 L346.5,91.3 L348.0,94.2 L349.5,97.9 L350.9,102.3 L352.4,107.4 L353.9,113.2 L355.3,119.6 L356.8,126.7 L358.3,134.3 L359.7,142.4 L361.2,151.0 L362.6,160.0 L364.1,169.5 L365.6,179.2 L367.0,189.2 L368.5,199.4 L370.0,209.6 L371.4,219.8 L372.9,230.0 L374.4,240.2 L375.8,250.4 L377.3,260.6 L378.8,270.8 L380.2,281.1 L381.7,291.3 L383.1,301.5 L384.6,311.7 L386.1,321.9 L387.5,332.1 L389.0,342.2 L390.5,352.4 L391.9,362.5 L393.4,372.5 L394.9,382.5 L396.3,392.4 L397.8,402.0 L399.2,411.5 L400.7,420.5 L402.2,429.2 L403.6,437.2 L405.1,444.5 L406.6,450.9 L408.0,456.3 L409.5,460.7 L411.0,464.2 L412.4,466.8 L413.9,468.7 L415.4,470.1 L416.8,471.1 L418.3,471.8 L419.7,472.3 L421.2,472.6 L422.7,472.8 L424.1,473.0 L425.6,473.1 L427.1,473.2 L428.5,473.2 L430.0,473.2 L431.5,473.2 L432.9,473.3 L434.4,473.3 L435.8,473.3 L437.3,473.3 L438.8,473.3 L440.2,473.3 L441.7,473.3 L443.2,473.3 L444.6,473.3 L446.1,473.3 L447.6,473.3 L449.0,473.3 L450.5,473.3 L452.0,473.3 L453.4,473.3 L454.9,473.3 L456.3,473.3 L457.8,473.3 L459.3,473.3 L460.7,473.3 L462.2,473.3 L463.7,473.3 L465.1,473.3 L466.6,473.3 L468.1,473.3 L469.5,473.3 L471.0,473.3 L472.4,473.3 L473.9,473.3 L475.4,473.3 L476.8,473.3 L478.3,473.3 L479.8,473.3 L481.2,473.3 L482.7,473.3 L484.2,473.3 L485.6,473.3 L487.1,473.3 L488.6,473.3 L490.0,473.3 L491.5,473.3 L492.9,473.3 L494.4,473.3 L495.9,473.3 L497.3,473.3 L498.8,473.3 L500.3,473.3 L501.7,473.3 L503.2,473.3 L504.7,473.3 L506.1,473.3 L507.6,473.3 L509.0,473.3 L510.5,473.3 L512.0,473.3 L513.4,473.3 L514.9,473.3 L516.4,473.3 L517.8,473.3 L519.3,473.3 L520.8,473.3 L522.2,473.3 L523.7,473.3 L525.2,473.3 L526.6,473.3 L528.1,473.3 L529.5,473.3 L531.0,473.3 L532.5,473.3 L533.9,473.3 L535.4,473.3 L536.9,473.4 L538.3,473.4 L539.8,473.4 L541.3,473.4 L542.7,473.5 L544.2,473.5 L545.6,473.6 L547.1,473.7 L548.6,473.8 L550.0,473.9 L551.5,474.0 L553.0,474.1 L554.4,474.2 L555.9,474.4 L557.4,474.5 L558.8,474.6 L560.3,474.7 L561.8,474.8 L563.2,474.8 L564.7,474.9 L566.1,475.0 L567.6,475.0 L569.1,475.1 L570.5,475.1 L572.0,475.1 L573.5,475.1 L574.9,475.1 L576.4,475.2 L577.9,475.2 L579.3,475.2 L580.8,475.2 L582.2,475.2 L583.7,475.2 L585.2,475.2 L586.6,475.2 L588.1,475.2 L589.6,475.2 L591.0,475.2 L592.5,475.2 L594.0,475.2 L595.4,475.2 L596.9,475.2 L598.4,475.2 L599.8,475.2 L601.3,475.2 L602.7,475.2 L604.2,475.2 L605.7,475.2 L607.1,475.2 L608.6,475.2" stroke="#3cace0"/><path d="M96.2,441.9 L97.7,442.3 L99.1,442.7 L100.6,443.1 L102.1,443.5 L103.5,444.0 L105.0,444.4 L106.4,444.9 L107.9,445.3 L109.4,445.8 L110.8,446.4 L112.3,446.9 L113.8,447.5 L115.2,448.2 L116.7,448.8 L118.2,449.5 L119.6,450.2 L121.1,450.8 L122.6,451.5 L124.0,452.1 L125.5,452.7 L126.9,453.2 L128.4,453.6 L129.9,454.0 L131.3,454.3 L132.8,454.5 L134.3,454.6 L135.7,454.5 L137.2,454.4 L138.7,454.2 L140.1,453.9 L141.6,453.5 L143.0,453.0 L144.5,452.4 L146.0,451.8 L147.4,451.0 L148.9,450.3 L150.4,449.4 L151.8,448.5 L153.3,447.6 L154.8,446.6 L156.2,445.6 L157.7,444.5 L159.2,443.4 L160.6,442.3 L162.1,441.2 L163.5,440.0 L165.0,438.8 L166.5,437.7 L167.9,436.5 L169.4,435.3 L170.9,434.1 L172.3,432.9 L173.8,431.8 L175.3,430.6 L176.7,429.5 L178.2,428.4 L179.6,427.4 L181.1,426.4 L182.6,425.4 L184.0,424.4 L185.5,423.6 L187.0,422.7 L188.4,421.9 L189.9,421.2 L191.4,420.5 L192.8,419.8 L194.3,419.1 L195.8,418.5 L197.2,417.9 L198.7,417.4 L200.1,416.8 L201.6,416.3 L203.1,415.7 L204.5,415.2 L206.0,414.7 L207.5,414.2 L208.9,413.7 L210.4,413.2 L211.9,412.7 L213.3,412.1 L214.8,411.6 L216.2,411.0 L217.7,410.3 L219.2,409.7 L220.6,409.0 L222.1,408.2 L223.6,407.4 L225.0,406.5 L226.5,405.6 L228.0,404.6 L229.4,403.5 L230.9,402.4 L232.4,401.1 L233.8,399.8 L235.3,398.4 L236.7,396.8 L238.2,395.2 L239.7,393.4 L241.1,391.6 L242.6,389.6 L244.1,387.5 L245.5,385.2 L247.0,382.8 L248.5,380.3 L249.9,377.7 L251.4,374.8 L252.8,371.9 L254.3,368.7 L255.8,365.5 L257.2,362.0 L258.7,358.4 L260.2,354.6 L261.6,350.7 L263.1,346.5 L264.6,342.2 L266.0,337.8 L267.5,333.1 L269.0,328.3 L270.4,323.4 L271.9,318.2 L273.3,312.9 L274.8,307.4 L276.3,301.8 L277.7,296.0 L279.2,290.1 L280.7,284.1 L282.1,277.9 L283.6,271.6 L285.1,265.2 L286.5,258.7 L288.0,252.1 L289.4,245.5 L290.9,238.8 L292.4,232.0 L293.8,225.2 L295.3,218.4 L296.8,211.6 L298.2,204.8 L299.7,198.1 L301.2,191.4 L302.6,184.8 L304.1,178.2 L305.6,171.8 L307.0,165.4 L308.5,159.3 L309.9,153.2 L311.4,147.4 L312.9,141.8 L314.3,136.3 L315.8,131.1 L317.3,126.2 L318.7,121.5 L320.2,117.1 L321.7,113.0 L323.1,109.2 L324.6,105.7 L326.0,102.5 L327.5,99.7 L329.0,97.3 L330.4,95.2 L331.9,93.5 L333.4,92.1 L334.8,91.1 L336.3,90.6 L337.8,90.4 L339.2,90.6 L340.7,91.7 L342.2,93.6 L343.6,96.2 L345.1,99.6 L346.5,103.8 L348.0,108.6 L349.5,114.2 L350.9,120.4 L352.4,127.2 L353.9,134.6 L355.3,142.5 L356.8,150.9 L358.3,159.7 L359.7,169.0 L361.2,178.5 L362.6,188.4 L364.1,198.5 L365.6,208.6 L367.0,218.7 L368.5,228.8 L370.0,239.0 L371.4,249.1 L372.9,259.2 L374.4,269.4 L375.8,279.5 L377.3,289.6 L378.8,299.8 L380.2,309.9 L381.7,320.0 L383.1,330.1 L384.6,340.2 L386.1,350.3 L387.5,360.3 L389.0,370.3 L390.5,380.2 L391.9,390.0 L393.4,399.7 L394.9,409.1 L396.3,418.2 L397.8,426.9 L399.2,435.0 L400.7,442.5 L402.2,449.1 L403.6,454.8 L405.1,459.4 L406.6,463.2 L408.0,466.0 L409.5,468.2 L411.0,469.7 L412.4,470.8 L413.9,471.6 L415.4,472.1 L416.8,472.5 L418.3,472.8 L419.7,472.9 L421.2,473.1 L422.7,473.1 L424.1,473.2 L425.6,473.2 L427.1,473.2 L428.5,473.3 L430.0,473.3 L431.5,473.3 L432.9,473.3 L434.4,473.3 L435.8,473.3 L437.3,473.3 L438.8,473.3 L440.2,473.3 L441.7,473.3 L443.2,473.3 L444.6,473.3 L446.1,473.3 L447.6,473.3 L449.0,473.3 L450.5,473.3 L452.0,473.3 L453.4,473.3 L454.9,473.3 L456.3,473.3 L457.8,473.3 L459.3,473.3 L460.7,473.3 L462.2,473.3 L463.7,473.3 L465.1,473.3 L466.6,473.3 L468.1,473.3 L469.5,473.3 L471.0,473.3 L472.4,473.3 L473.9,473.3 L475.4,473.3 L476.8,473.3 L478.3,473.3 L479.8,473.3 L481.2,473.3 L482.7,473.3 L484.2,473.3 L485.6,473.3 L487.1,473.3 L488.6,473.3 L490.0,473.3 L491.5,473.3 L492.9,473.3 L494.4,473.3 L495.9,473.3 L497.3,473.3 L498.8,473.3 L500.3,473.3 L501.7,473.3 L503.2,473.3 L504.7,473.3 L506.1,473.3 L507.6,473.3 L509.0,473.3 L510.5,473.3 L512.0,473.3 L513.4,473.3 L514.9,473.3 L516.4,473.3 L517.8,473.3 L519.3,473.3 L520.8,473.3 L522.2,473.3 L523.7,473.3 L525.2,473.3 L526.6,473.3 L528.1,473.3 L529.5,473.3 L531.0,473.3 L532.5,473.3 L533.9,473.3 L535.4,473.3 L536.9,473.4 L538.3,473.4 L539.8,473.4 L541.3,473.4 L542.7,473.5 L544.2,473.5 L545.6,473.6 L547.1,473.7 L548.6,473.8 L550.0,473.9 L551.5,474.0 L553.0,474.1 L554.4,474.2 L555.9,474.4 L557.4,474.5 L558.8,474.6 L560.3,474.7 L561.8,474.8 L563.2,474.8 L564.7,474.9 L566.1,475.0 L567.6,475.0 L569.1,475.1 L570.5,475.1 L572.0,475.1 L573.5,475.1 L574.9,475.1 L576.4,475.2 L577.9,475.2 L579.3,475.2 L580.8,475.2 L582.2,475.2 L583.7,475.2 L585.2,475.2 L586.6,475.2 L588.1,475.2 L589.6,475.2 L591.0,475.2 L592.5,475.2 L594.0,475.2 L595.4,475.2 L596.9,475.2 L598.4,475.2 L599.8,475.2 L601.3,475.2 L602.7,475.2 L604.2,475.2 L605.7,475.2 L607.1,475.2 L608.6,475.2" stroke="#c0e060"/><path d="M96.2,427.2 L97.7,428.0 L99.1,428.8 L100.6,429.6 L102.1,430.4 L103.5,431.2 L105.0,432.0 L106.4,432.8 L107.9,433.6 L109.4,434.4 L110.8,435.3 L112.3,436.1 L113.8,437.0 L115.2,437.9 L116.7,438.8 L118.2,439.7 L119.6,440.6 L121.1,441.4 L122.6,442.2 L124.0,442.9 L125.5,443.6 L126.9,444.1 L128.4,444.6 L129.9,445.0 L131.3,445.2 L132.8,445.3 L134.3,445.3 L135.7,445.1 L137.2,444.8 L138.7,444.4 L140.1,443.8 L141.6,443.2 L143.0,442.4 L144.5,441.6 L146.0,440.7 L147.4,439.8 L148.9,438.8 L150.4,437.7 L151.8,436.6 L153.3,435.5 L154.8,434.3 L156.2,433.2 L157.7,432.0 L159.2,430.8 L160.6,429.7 L162.1,428.5 L163.5,427.3 L165.0,426.1 L166.5,425.0 L167.9,423.8 L169.4,422.6 L170.9,421.5 L172.3,420.3 L173.8,419.2 L175.3,418.1 L176.7,417.0 L178.2,415.9 L179.6,414.8 L181.1,413.8 L182.6,412.8 L184.0,411.8 L185.5,410.8 L187.0,409.8 L188.4,408.9 L189.9,408.0 L191.4,407.1 L192.8,406.3 L194.3,405.4 L195.8,404.5 L197.2,403.7 L198.7,402.9 L200.1,402.1 L201.6,401.3 L203.1,400.5 L204.5,399.6 L206.0,398.8 L207.5,398.0 L208.9,397.2 L210.4,396.4 L211.9,395.5 L213.3,394.7 L214.8,393.8 L216.2,392.9 L217.7,392.0 L219.2,391.1 L220.6,390.1 L222.1,389.1 L223.6,388.1 L225.0,387.0 L226.5,385.9 L228.0,384.7 L229.4,383.5 L230.9,382.3 L232.4,381.0 L233.8,379.7 L235.3,378.3 L236.7,376.9 L238.2,375.4 L239.7,373.9 L241.1,372.3 L242.6,370.6 L244.1,368.8 L245.5,367.0 L247.0,365.1 L248.5,363.2 L249.9,361.1 L251.4,359.0 L252.8,356.8 L254.3,354.5 L255.8,352.1 L257.2,349.6 L258.7,347.0 L260.2,344.2 L261.6,341.4 L263.1,338.5 L264.6,335.4 L266.0,332.2 L267.5,328.9 L269.0,325.5 L270.4,321.9 L271.9,318.2 L273.3,314.4 L274.8,310.4 L276.3,306.3 L277.7,302.0 L279.2,297.6 L280.7,293.0 L282.1,288.3 L283.6,283.4 L285.1,278.4 L286.5,273.1 L288.0,267.8 L289.4,262.3 L290.9,256.6 L292.4,250.8 L293.8,244.8 L295.3,238.6 L296.8,232.3 L298.2,225.9 L299.7,219.3 L301.2,212.6 L302.6,205.7 L304.1,198.7 L305.6,191.6 L307.0,184.4 L308.5,177.0 L309.9,169.6 L311.4,162.1 L312.9,154.5 L314.3,146.9 L315.8,139.3 L317.3,131.6 L318.7,123.9 L320.2,116.2 L321.7,108.6 L323.1,101.0 L324.6,93.6 L326.0,86.2 L327.5,79.0 L329.0,72.0 L330.4,65.3 L331.9,58.8 L333.4,52.6 L334.8,46.9 L336.3,41.5 L337.8,36.8 L339.2,32.7 L340.7,29.5 L342.2,27.7 L343.6,28.2 L345.1,29.8 L346.5,32.6 L348.0,36.6 L349.5,41.6 L350.9,47.8 L352.4,54.9 L353.9,63.0 L355.3,72.1 L356.8,81.9 L358.3,92.5 L359.7,103.8 L361.2,115.8 L362.6,128.2 L364.1,141.1 L365.6,154.3 L367.0,167.6 L368.5,180.9 L370.0,194.2 L371.4,207.5 L372.9,220.8 L374.4,234.1 L375.8,247.4 L377.3,260.7 L378.8,274.0 L380.2,287.3 L381.7,300.6 L383.1,313.9 L384.6,327.1 L386.1,340.4 L387.5,353.6 L389.0,366.7 L390.5,379.8 L391.9,392.6 L393.4,405.1 L394.9,417.2 L396.3,428.6 L397.8,439.0 L399.2,448.0 L400.7,455.5 L402.2,461.2 L403.6,465.4 L405.1,468.3 L406.6,470.2 L408.0,471.4 L409.5,472.2 L411.0,472.6 L412.4,472.9 L413.9,473.1 L415.4,473.2 L416.8,473.2 L418.3,473.3 L419.7,473.3 L421.2,473.3 L422.7,473.3 L424.1,473.3 L425.6,473.3 L427.1,473.3 L428.5,473.3 L430.0,473.3 L431.5,473.3 L432.9,473.3 L434.4,473.3 L435.8,473.3 L437.3,473.3 L438.8,473.3 L440.2,473.3 L441.7,473.3 L443.2,473.3 L444.6,473.3 L446.1,473.3 L447.6,473.3 L449.0,473.3 L450.5,473.3 L452.0,473.3 L453.4,473.3 L454.9,473.3 L456.3,473.3 L457.8,473.3 L459.3,473.3 L460.7,473.3 L462.2,473.3 L463.7,473.3 L465.1,473.3 L466.6,473.3 L468.1,473.3 L469.5,473.3 L471.0,473.3 L472.4,473.3 L473.9,473.3 L475.4,473.3 L476.8,473.3 L478.3,473.3 L479.8,473.3 L481.2,473.3 L482.7,473.3 L484.2,473.3 L485.6,473.3 L487.1,473.3 L488.6,473.3 L490.0,473.3 L491.5,473.3 L492.9,473.3 L494.4,473.3 L495.9,473.3 L497.3,473.3 L498.8,473.3 L500.3,473.3 L501.7,473.3 L503.2,473.3 L504.7,473.3 L506.1,473.3 L507.6,473.3 L509.0,473.3 L510.5,473.3 L512.0,473.3 L513.4,473.3 L514.9,473.3 L516.4,473.3 L517.8,473.3 L519.3,473.3 L520.8,473.3 L522.2,473.3 L523.7,473.3 L525.2,473.3 L526.6,473.3 L528.1,473.3 L529.5,473.3 L531.0,473.3 L532.5,473.3 L533.9,473.3 L535.4,473.3 L536.9,473.4 L538.3,473.4 L539.8,473.4 L541.3,473.4 L542.7,473.5 L544.2,473.5 L545.6,473.6 L547.1,473.7 L548.6,473.8 L550.0,473.9 L551.5,474.0 L553.0,474.1 L554.4,474.2 L555.9,474.4 L557.4,474.5 L558.8,474.6 L560.3,474.7 L561.8,474.8 L563.2,474.8 L564.7,474.9 L566.1,475.0 L567.6,475.0 L569.1,475.1 L570.5,475.1 L572.0,475.1 L573.5,475.1 L574.9,475.1 L576.4,475.2 L577.9,475.2 L579.3,475.2 L580.8,475.2 L582.2,475.2 L583.7,475.2 L585.2,475.2 L586.6,475.2 L588.1,475.2 L589.6,475.2 L591.0,475.2 L592.5,475.2 L594.0,475.2 L595.4,475.2 L596.9,475.2 L598.4,475.2 L599.8,475.2 L601.3,475.2 L602.7,475.2 L604.2,475.2 L605.7,475.2 L607.1,475.2 L608.6,475.2" stroke="#50e070"/><path d="M96.2,435.8 L97.7,436.1 L99.1,436.4 L100.6,436.6 L102.1,436.9 L103.5,437.3 L105.0,437.6 L106.4,438.1 L107.9,438.5 L109.4,439.0 L110.8,439.6 L112.3,440.3 L113.8,441.0 L115.2,441.8 L116.7,442.7 L118.2,443.6 L119.6,444.5 L121.1,445.5 L122.6,446.4 L124.0,447.3 L125.5,448.1 L126.9,448.9 L128.4,449.6 L129.9,450.2 L131.3,450.6 L132.8,450.9 L134.3,451.0 L135.7,451.0 L137.2,450.8 L138.7,450.5 L140.1,450.1 L141.6,449.5 L143.0,448.8 L144.5,448.0 L146.0,447.2 L147.4,446.2 L148.9,445.2 L150.4,444.1 L151.8,443.0 L153.3,441.8 L154.8,440.6 L156.2,439.4 L157.7,438.2 L159.2,436.9 L160.6,435.6 L162.1,434.4 L163.5,433.1 L165.0,431.8 L166.5,430.5 L167.9,429.3 L169.4,428.0 L170.9,426.7 L172.3,425.5 L173.8,424.3 L175.3,423.1 L176.7,421.9 L178.2,420.8 L179.6,419.7 L181.1,418.6 L182.6,417.6 L184.0,416.6 L185.5,415.7 L187.0,414.8 L188.4,413.9 L189.9,413.1 L191.4,412.3 L192.8,411.6 L194.3,410.9 L195.8,410.2 L197.2,409.6 L198.7,409.0 L200.1,408.4 L201.6,407.9 L203.1,407.3 L204.5,406.8 L206.0,406.3 L207.5,405.9 L208.9,405.4 L210.4,404.9 L211.9,404.5 L213.3,404.1 L214.8,403.6 L216.2,403.2 L217.7,402.7 L219.2,402.3 L220.6,401.8 L222.1,401.4 L223.6,400.9 L225.0,400.4 L226.5,399.8 L228.0,399.3 L229.4,398.7 L230.9,398.0 L232.4,397.3 L233.8,396.6 L235.3,395.9 L236.7,395.1 L238.2,394.2 L239.7,393.3 L241.1,392.3 L242.6,391.3 L244.1,390.1 L245.5,388.9 L247.0,387.7 L248.5,386.3 L249.9,384.8 L251.4,383.3 L252.8,381.6 L254.3,379.8 L255.8,377.9 L257.2,375.9 L258.7,373.8 L260.2,371.5 L261.6,369.1 L263.1,366.5 L264.6,363.8 L266.0,360.9 L267.5,357.9 L269.0,354.7 L270.4,351.3 L271.9,347.8 L273.3,344.1 L274.8,340.2 L276.3,336.2 L277.7,331.9 L279.2,327.5 L280.7,323.0 L282.1,318.2 L283.6,313.3 L285.1,308.2 L286.5,302.9 L288.0,297.5 L289.4,292.0 L290.9,286.3 L292.4,280.5 L293.8,274.5 L295.3,268.5 L296.8,262.3 L298.2,256.1 L299.7,249.8 L301.2,243.5 L302.6,237.1 L304.1,230.7 L305.6,224.3 L307.0,217.9 L308.5,211.5 L309.9,205.3 L311.4,199.0 L312.9,192.9 L314.3,187.0 L315.8,181.1 L317.3,175.4 L318.7,169.9 L320.2,164.6 L321.7,159.6 L323.1,154.8 L324.6,150.2 L326.0,145.9 L327.5,142.0 L329.0,138.3 L330.4,135.0 L331.9,132.0 L333.4,129.4 L334.8,127.1 L336.3,125.3 L337.8,123.8 L339.2,122.7 L340.7,122.0 L342.2,121.7 L343.6,121.9 L345.1,122.8 L346.5,124.4 L348.0,126.8 L349.5,129.8 L350.9,133.5 L352.4,137.9 L353.9,143.0 L355.3,148.6 L356.8,154.8 L358.3,161.5 L359.7,168.7 L361.2,176.4 L362.6,184.5 L364.1,192.9 L365.6,201.7 L367.0,210.7 L368.5,219.9 L370.0,229.2 L371.4,238.5 L372.9,247.8 L374.4,257.1 L375.8,266.4 L377.3,275.7 L378.8,285.1 L380.2,294.4 L381.7,303.7 L383.1,313.0 L384.6,322.2 L386.1,331.5 L387.5,340.8 L389.0,350.0 L390.5,359.3 L391.9,368.4 L393.4,377.6 L394.9,386.6 L396.3,395.5 L397.8,404.3 L399.2,412.8 L400.7,421.1 L402.2,428.9 L403.6,436.3 L405.1,443.0 L406.6,449.1 L408.0,454.3 L409.5,458.7 L411.0,462.3 L412.4,465.2 L413.9,467.4 L415.4,469.0 L416.8,470.2 L418.3,471.1 L419.7,471.8 L421.2,472.2 L422.7,472.5 L424.1,472.8 L425.6,472.9 L427.1,473.0 L428.5,473.1 L430.0,473.2 L431.5,473.2 L432.9,473.2 L434.4,473.2 L435.8,473.3 L437.3,473.3 L438.8,473.3 L440.2,473.3 L441.7,473.3 L443.2,473.3 L444.6,473.3 L446.1,473.3 L447.6,473.3 L449.0,473.3 L450.5,473.3 L452.0,473.3 L453.4,473.3 L454.9,473.3 L456.3,473.3 L457.8,473.3 L459.3,473.3 L460.7,473.3 L462.2,473.3 L463.7,473.3 L465.1,473.3 L466.6,473.3 L468.1,473.3 L469.5,473.3 L471.0,473.3 L472.4,473.3 L473.9,473.3 L475.4,473.3 L476.8,473.3 L478.3,473.3 L479.8,473.3 L481.2,473.3 L482.7,473.3 L484.2,473.3 L485.6,473.3 L487.1,473.3 L488.6,473.3 L490.0,473.3 L491.5,473.3 L492.9,473.3 L494.4,473.3 L495.9,473.3 L497.3,473.3 L498.8,473.3 L500.3,473.3 L501.7,473.3 L503.2,473.3 L504.7,473.3 L506.1,473.3 L507.6,473.3 L509.0,473.3 L510.5,473.3 L512.0,473.3 L513.4,473.3 L514.9,473.3 L516.4,473.3 L517.8,473.3 L519.3,473.3 L520.8,473.3 L522.2,473.3 L523.7,473.3 L525.2,473.3 L526.6,473.3 L528.1,473.3 L529.5,473.3 L531.0,473.3 L532.5,473.3 L533.9,473.3 L535.4,473.3 L536.9,473.4 L538.3,473.4 L539.8,473.4 L541.3,473.4 L542.7,473.5 L544.2,473.5 L545.6,473.6 L547.1,473.7 L548.6,473.8 L550.0,473.9 L551.5,474.0 L553.0,474.1 L554.4,474.2 L555.9,474.4 L557.4,474.5 L558.8,474.6 L560.3,474.7 L561.8,474.8 L563.2,474.8 L564.7,474.9 L566.1,475.0 L567.6,475.0 L569.1,475.1 L570.5,475.1 L572.0,475.1 L573.5,475.1 L574.9,475.1 L576.4,475.2 L577.9,475.2 L579.3,475.2 L580.8,475.2 L582.2,475.2 L583.7,475.2 L585.2,475.2 L586.6,475.2 L588.1,475.2 L589.6,475.2 L591.0,475.2 L592.5,475.2 L594.0,475.2 L595.4,475.2 L596.9,475.2 L598.4,475.2 L599.8,475.2 L601.3,475.2 L602.7,475.2 L604.2,475.2 L605.7,475.2 L607.1,475.2 L608.6,475.2" stroke="#40d890"/><path d="M96.2,448.5 L97.7,448.8 L99.1,449.1 L100.6,449.4 L102.1,449.7 L103.5,450.1 L105.0,450.4 L106.4,450.8 L107.9,451.1 L109.4,451.5 L110.8,451.9 L112.3,452.4 L113.8,452.8 L115.2,453.3 L116.7,453.8 L118.2,454.3 L119.6,454.8 L121.1,455.3 L122.6,455.8 L124.0,456.2 L125.5,456.6 L126.9,457.0 L128.4,457.3 L129.9,457.6 L131.3,457.8 L132.8,457.9 L134.3,457.9 L135.7,457.8 L137.2,457.7 L138.7,457.4 L140.1,457.1 L141.6,456.8 L143.0,456.3 L144.5,455.8 L146.0,455.2 L147.4,454.5 L148.9,453.8 L150.4,453.1 L151.8,452.2 L153.3,451.4 L154.8,450.5 L156.2,449.5 L157.7,448.5 L159.2,447.4 L160.6,446.4 L162.1,445.3 L163.5,444.1 L165.0,443.0 L166.5,441.9 L167.9,440.7 L169.4,439.5 L170.9,438.4 L172.3,437.2 L173.8,436.1 L175.3,435.0 L176.7,433.9 L178.2,432.8 L179.6,431.8 L181.1,430.7 L182.6,429.8 L184.0,428.8 L185.5,428.0 L187.0,427.1 L188.4,426.3 L189.9,425.6 L191.4,424.9 L192.8,424.2 L194.3,423.6 L195.8,423.0 L197.2,422.5 L198.7,421.9 L200.1,421.4 L201.6,421.0 L203.1,420.5 L204.5,420.1 L206.0,419.7 L207.5,419.3 L208.9,418.9 L210.4,418.5 L211.9,418.2 L213.3,417.8 L214.8,417.5 L216.2,417.1 L217.7,416.8 L219.2,416.4 L220.6,416.0 L222.1,415.7 L223.6,415.3 L225.0,414.8 L226.5,414.4 L228.0,413.9 L229.4,413.4 L230.9,412.9 L232.4,412.3 L233.8,411.7 L235.3,411.1 L236.7,410.4 L238.2,409.6 L239.7,408.8 L241.1,408.0 L242.6,407.1 L244.1,406.1 L245.5,405.1 L247.0,404.0 L248.5,402.9 L249.9,401.6 L251.4,400.3 L252.8,398.9 L254.3,397.4 L255.8,395.8 L257.2,394.1 L258.7,392.3 L260.2,390.4 L261.6,388.4 L263.1,386.3 L264.6,384.0 L266.0,381.7 L267.5,379.2 L269.0,376.5 L270.4,373.8 L271.9,370.9 L273.3,367.9 L274.8,364.7 L276.3,361.4 L277.7,358.0 L279.2,354.4 L280.7,350.6 L282.1,346.7 L283.6,342.7 L285.1,338.5 L286.5,334.2 L288.0,329.8 L289.4,325.2 L290.9,320.5 L292.4,315.6 L293.8,310.6 L295.3,305.6 L296.8,300.4 L298.2,295.1 L299.7,289.7 L301.2,284.2 L302.6,278.6 L304.1,273.0 L305.6,267.3 L307.0,261.5 L308.5,255.8 L309.9,250.0 L311.4,244.2 L312.9,238.4 L314.3,232.6 L315.8,226.8 L317.3,221.2 L318.7,215.5 L320.2,210.0 L321.7,204.5 L323.1,199.2 L324.6,193.9 L326.0,188.8 L327.5,183.9 L329.0,179.2 L330.4,174.6 L331.9,170.2 L333.4,166.1 L334.8,162.1 L336.3,158.4 L337.8,155.0 L339.2,151.8 L340.7,149.0 L342.2,146.3 L343.6,144.0 L345.1,142.0 L346.5,140.3 L348.0,138.9 L349.5,137.9 L350.9,137.1 L352.4,136.7 L353.9,136.6 L355.3,137.0 L356.8,138.0 L358.3,139.7 L359.7,142.0 L361.2,144.9 L362.6,148.4 L364.1,152.5 L365.6,157.1 L367.0,162.3 L368.5,167.9 L370.0,174.1 L371.4,180.6 L372.9,187.6 L374.4,194.9 L375.8,202.6 L377.3,210.5 L378.8,218.7 L380.2,227.1 L381.7,235.6 L383.1,244.1 L384.6,252.7 L386.1,261.2 L387.5,269.7 L389.0,278.2 L390.5,286.7 L391.9,295.3 L393.4,303.8 L394.9,312.3 L396.3,320.8 L397.8,329.3 L399.2,337.8 L400.7,346.3 L402.2,354.7 L403.6,363.2 L405.1,371.6 L406.6,379.9 L408.0,388.2 L409.5,396.3 L411.0,404.3 L412.4,412.2 L413.9,419.8 L415.4,427.1 L416.8,433.9 L418.3,440.3 L419.7,446.2 L421.2,451.4 L422.7,455.9 L424.1,459.7 L425.6,462.8 L427.1,465.4 L428.5,467.4 L430.0,468.9 L431.5,470.0 L432.9,470.9 L434.4,471.6 L435.8,472.0 L437.3,472.4 L438.8,472.6 L440.2,472.8 L441.7,472.9 L443.2,473.0 L444.6,473.1 L446.1,473.2 L447.6,473.2 L449.0,473.2 L450.5,473.2 L452.0,473.2 L453.4,473.3 L454.9,473.3 L456.3,473.3 L457.8,473.3 L459.3,473.3 L460.7,473.3 L462.2,473.3 L463.7,473.3 L465.1,473.3 L466.6,473.3 L468.1,473.3 L469.5,473.3 L471.0,473.3 L472.4,473.3 L473.9,473.3 L475.4,473.3 L476.8,473.3 L478.3,473.3 L479.8,473.3 L481.2,473.3 L482.7,473.3 L484.2,473.3 L485.6,473.3 L487.1,473.3 L488.6,473.3 L490.0,473.3 L491.5,473.3 L492.9,473.3 L494.4,473.3 L495.9,473.3 L497.3,473.3 L498.8,473.3 L500.3,473.3 L501.7,473.3 L503.2,473.3 L504.7,473.3 L506.1,473.3 L507.6,473.3 L509.0,473.3 L510.5,473.3 L512.0,473.3 L513.4,473.3 L514.9,473.3 L516.4,473.3 L517.8,473.3 L519.3,473.3 L520.8,473.3 L522.2,473.3 L523.7,473.3 L525.2,473.3 L526.6,473.3 L528.1,473.3 L529.5,473.3 L531.0,473.3 L532.5,473.3 L533.9,473.3 L535.4,473.3 L536.9,473.4 L538.3,473.4 L539.8,473.4 L541.3,473.4 L542.7,473.5 L544.2,473.5 L545.6,473.6 L547.1,473.7 L548.6,473.8 L550.0,473.9 L551.5,474.0 L553.0,474.1 L554.4,474.2 L555.9,474.4 L557.4,474.5 L558.8,474.6 L560.3,474.7 L561.8,474.8 L563.2,474.8 L564.7,474.9 L566.1,475.0 L567.6,475.0 L569.1,475.1 L570.5,475.1 L572.0,475.1 L573.5,475.1 L574.9,475.1 L576.4,475.2 L577.9,475.2 L579.3,475.2 L580.8,475.2 L582.2,475.2 L583.7,475.2 L585.2,475.2 L586.6,475.2 L588.1,475.2 L589.6,475.2 L591.0,475.2 L592.5,475.2 L594.0,475.2 L595.4,475.2 L596.9,475.2 L598.4,475.2 L599.8,475.2 L601.3,475.2 L602.7,475.2 L604.2,475.2 L605.7,475.2 L607.1,475.2 L608.6,475.2" stroke="#80e050"/><path d="M96.2,417.2 L97.7,418.0 L99.1,418.9 L100.6,419.7 L102.1,420.5 L103.5,421.3 L105.0,422.1 L106.4,423.0 L107.9,423.8 L109.4,424.6 L110.8,425.4 L112.3,426.3 L113.8,427.1 L115.2,427.9 L116.7,428.8 L118.2,429.6 L119.6,430.4 L121.1,431.1 L122.6,431.8 L124.0,432.4 L125.5,432.9 L126.9,433.4 L128.4,433.8 L129.9,434.0 L131.3,434.2 L132.8,434.2 L134.3,434.1 L135.7,433.9 L137.2,433.5 L138.7,433.0 L140.1,432.4 L141.6,431.7 L143.0,430.9 L144.5,430.1 L146.0,429.1 L147.4,428.1 L148.9,427.0 L150.4,425.8 L151.8,424.6 L153.3,423.3 L154.8,422.0 L156.2,420.7 L157.7,419.3 L159.2,417.9 L160.6,416.5 L162.1,415.1 L163.5,413.6 L165.0,412.2 L166.5,410.8 L167.9,409.3 L169.4,407.9 L170.9,406.5 L172.3,405.1 L173.8,403.8 L175.3,402.5 L176.7,401.2 L178.2,400.0 L179.6,398.8 L181.1,397.6 L182.6,396.5 L184.0,395.5 L185.5,394.5 L187.0,393.6 L188.4,392.8 L189.9,392.0 L191.4,391.2 L192.8,390.5 L194.3,389.8 L195.8,389.2 L197.2,388.6 L198.7,388.0 L200.1,387.4 L201.6,386.9 L203.1,386.3 L204.5,385.7 L206.0,385.2 L207.5,384.6 L208.9,384.0 L210.4,383.4 L211.9,382.8 L213.3,382.1 L214.8,381.4 L216.2,380.7 L217.7,379.9 L219.2,379.0 L220.6,378.1 L222.1,377.1 L223.6,376.0 L225.0,374.8 L226.5,373.6 L228.0,372.2 L229.4,370.8 L230.9,369.2 L232.4,367.5 L233.8,365.7 L235.3,363.7 L236.7,361.7 L238.2,359.5 L239.7,357.2 L241.1,354.7 L242.6,352.1 L244.1,349.4 L245.5,346.5 L247.0,343.5 L248.5,340.4 L249.9,337.1 L251.4,333.6 L252.8,330.1 L254.3,326.4 L255.8,322.5 L257.2,318.5 L258.7,314.4 L260.2,310.2 L261.6,305.8 L263.1,301.4 L264.6,296.8 L266.0,292.1 L267.5,287.3 L269.0,282.4 L270.4,277.4 L271.9,272.4 L273.3,267.3 L274.8,262.1 L276.3,256.9 L277.7,251.6 L279.2,246.3 L280.7,241.0 L282.1,235.7 L283.6,230.4 L285.1,225.1 L286.5,219.9 L288.0,214.7 L289.4,209.6 L290.9,204.5 L292.4,199.6 L293.8,194.7 L295.3,190.0 L296.8,185.4 L298.2,180.9 L299.7,176.7 L301.2,172.5 L302.6,168.6 L304.1,164.9 L305.6,161.3 L307.0,158.0 L308.5,155.0 L309.9,152.1 L311.4,149.5 L312.9,147.2 L314.3,145.2 L315.8,143.4 L317.3,141.9 L318.7,140.7 L320.2,139.8 L321.7,139.2 L323.1,138.9 L324.6,138.8 L326.0,139.0 L327.5,139.8 L329.0,141.1 L330.4,142.9 L331.9,145.2 L333.4,148.1 L334.8,151.4 L336.3,155.2 L337.8,159.5 L339.2,164.3 L340.7,169.4 L342.2,174.9 L343.6,180.9 L345.1,187.1 L346.5,193.7 L348.0,200.6 L349.5,207.7 L350.9,215.0 L352.4,222.6 L353.9,230.3 L355.3,238.1 L356.8,245.9 L358.3,253.7 L359.7,261.4 L361.2,269.2 L362.6,277.0 L364.1,284.8 L365.6,292.6 L367.0,300.4 L368.5,308.2 L370.0,316.0 L371.4,323.7 L372.9,331.5 L374.4,339.3 L375.8,347.0 L377.3,354.7 L378.8,362.5 L380.2,370.1 L381.7,377.8 L383.1,385.3 L384.6,392.8 L386.1,400.2 L387.5,407.5 L389.0,414.6 L390.5,421.4 L391.9,428.0 L393.4,434.3 L394.9,440.1 L396.3,445.5 L397.8,450.4 L399.2,454.6 L400.7,458.3 L402.2,461.5 L403.6,464.1 L405.1,466.1 L406.6,467.8 L408.0,469.1 L409.5,470.1 L411.0,470.9 L412.4,471.5 L413.9,472.0 L415.4,472.3 L416.8,472.5 L418.3,472.7 L419.7,472.9 L421.2,473.0 L422.7,473.1 L424.1,473.1 L425.6,473.2 L427.1,473.2 L428.5,473.2 L430.0,473.2 L431.5,473.2 L432.9,473.2 L434.4,473.3 L435.8,473.3 L437.3,473.3 L438.8,473.3 L440.2,473.3 L441.7,473.3 L443.2,473.3 L444.6,473.3 L446.1,473.3 L447.6,473.3 L449.0,473.3 L450.5,473.3 L452.0,473.3 L453.4,473.3 L454.9,473.3 L456.3,473.3 L457.8,473.3 L459.3,473.3 L460.7,473.3 L462.2,473.3 L463.7,473.3 L465.1,473.3 L466.6,473.3 L468.1,473.3 L469.5,473.3 L471.0,473.3 L472.4,473.3 L473.9,473.3 L475.4,473.3 L476.8,473.3 L478.3,473.3 L479.8,473.3 L481.2,473.3 L482.7,473.3 L484.2,473.3 L485.6,473.3 L487.1,473.3 L488.6,473.3 L490.0,473.3 L491.5,473.3 L492.9,473.3 L494.4,473.3 L495.9,473.3 L497.3,473.3 L498.8,473.3 L500.3,473.3 L501.7,473.3 L503.2,473.3 L504.7,473.3 L506.1,473.3 L507.6,473.3 L509.0,473.3 L510.5,473.3 L512.0,473.3 L513.4,473.3 L514.9,473.3 L516.4,473.3 L517.8,473.3 L519.3,473.3 L520.8,473.3 L522.2,473.3 L523.7,473.3 L525.2,473.3 L526.6,473.3 L528.1,473.3 L529.5,473.3 L531.0,473.3 L532.5,473.3 L533.9,473.3 L535.4,473.3 L536.9,473.4 L538.3,473.4 L539.8,473.4 L541.3,473.4 L542.7,473.5 L544.2,473.5 L545.6,473.6 L547.1,473.7 L548.6,473.8 L550.0,473.9 L551.5,474.0 L553.0,474.1 L554.4,474.2 L555.9,474.4 L557.4,474.5 L558.8,474.6 L560.3,474.7 L561.8,474.8 L563.2,474.8 L564.7,474.9 L566.1,475.0 L567.6,475.0 L569.1,475.1 L570.5,475.1 L572.0,475.1 L573.5,475.1 L574.9,475.1 L576.4,475.2 L577.9,475.2 L579.3,475.2 L580.8,475.2 L582.2,475.2 L583.7,475.2 L585.2,475.2 L586.6,475.2 L588.1,475.2 L589.6,475.2 L591.0,475.2 L592.5,475.2 L594.0,475.2 L595.4,475.2 L596.9,475.2 L598.4,475.2 L599.8,475.2 L601.3,475.2 L602.7,475.2 L604.2,475.2 L605.7,475.2 L607.1,475.2 L608.6,475.2" stroke="#9c3cd0"/><path d="M96.2,428.8 L97.7,429.2 L99.1,429.6 L100.6,429.9 L102.1,430.4 L103.5,430.8 L105.0,431.2 L106.4,431.7 L107.9,432.2 L109.4,432.7 L110.8,433.2 L112.3,433.8 L113.8,434.4 L115.2,435.1 L116.7,435.7 L118.2,436.4 L119.6,437.1 L121.1,437.8 L122.6,438.5 L124.0,439.1 L125.5,439.6 L126.9,440.1 L128.4,440.5 L129.9,440.8 L131.3,441.0 L132.8,441.0 L134.3,440.9 L135.7,440.7 L137.2,440.3 L138.7,439.8 L140.1,439.2 L141.6,438.5 L143.0,437.7 L144.5,436.9 L146.0,435.9 L147.4,434.9 L148.9,433.8 L150.4,432.7 L151.8,431.6 L153.3,430.4 L154.8,429.2 L156.2,427.9 L157.7,426.7 L159.2,425.4 L160.6,424.2 L162.1,422.9 L163.5,421.7 L165.0,420.4 L166.5,419.2 L167.9,418.0 L169.4,416.8 L170.9,415.6 L172.3,414.4 L173.8,413.3 L175.3,412.2 L176.7,411.1 L178.2,410.0 L179.6,409.0 L181.1,408.1 L182.6,407.1 L184.0,406.3 L185.5,405.5 L187.0,404.7 L188.4,403.9 L189.9,403.2 L191.4,402.6 L192.8,402.0 L194.3,401.4 L195.8,400.8 L197.2,400.3 L198.7,399.7 L200.1,399.2 L201.6,398.7 L203.1,398.2 L204.5,397.7 L206.0,397.2 L207.5,396.7 L208.9,396.2 L210.4,395.7 L211.9,395.1 L213.3,394.5 L214.8,393.9 L216.2,393.3 L217.7,392.6 L219.2,391.8 L220.6,391.0 L222.1,390.2 L223.6,389.2 L225.0,388.2 L226.5,387.2 L228.0,386.0 L229.4,384.7 L230.9,383.4 L232.4,381.9 L233.8,380.4 L235.3,378.7 L236.7,376.9 L238.2,375.0 L239.7,373.0 L241.1,370.8 L242.6,368.5 L244.1,366.1 L245.5,363.6 L247.0,360.9 L248.5,358.1 L249.9,355.1 L251.4,352.0 L252.8,348.8 L254.3,345.4 L255.8,341.8 L257.2,338.2 L258.7,334.3 L260.2,330.4 L261.6,326.3 L263.1,322.0 L264.6,317.6 L266.0,313.1 L267.5,308.5 L269.0,303.7 L270.4,298.8 L271.9,293.8 L273.3,288.8 L274.8,283.6 L276.3,278.3 L277.7,273.0 L279.2,267.6 L280.7,262.1 L282.1,256.6 L283.6,251.1 L285.1,245.5 L286.5,240.0 L288.0,234.4 L289.4,228.9 L290.9,223.4 L292.4,218.0 L293.8,212.6 L295.3,207.3 L296.8,202.1 L298.2,197.0 L299.7,192.1 L301.2,187.3 L302.6,182.6 L304.1,178.1 L305.6,173.8 L307.0,169.7 L308.5,165.8 L309.9,162.2 L311.4,158.8 L312.9,155.6 L314.3,152.7 L315.8,150.0 L317.3,147.7 L318.7,145.6 L320.2,143.8 L321.7,142.4 L323.1,141.2 L324.6,140.3 L326.0,139.8 L327.5,139.6 L329.0,139.7 L330.4,140.3 L331.9,141.6 L333.4,143.5 L334.8,146.0 L336.3,149.1 L337.8,152.8 L339.2,157.1 L340.7,161.9 L342.2,167.2 L343.6,173.0 L345.1,179.3 L346.5,185.9 L348.0,193.0 L349.5,200.4 L350.9,208.1 L352.4,216.1 L353.9,224.3 L355.3,232.7 L356.8,241.1 L358.3,249.5 L359.7,258.0 L361.2,266.4 L362.6,274.9 L364.1,283.3 L365.6,291.8 L367.0,300.2 L368.5,308.6 L370.0,317.1 L371.4,325.5 L372.9,333.9 L374.4,342.4 L375.8,350.8 L377.3,359.1 L378.8,367.5 L380.2,375.8 L381.7,384.0 L383.1,392.1 L384.6,400.2 L386.1,408.0 L387.5,415.7 L389.0,423.1 L390.5,430.1 L391.9,436.8 L393.4,442.9 L394.9,448.4 L396.3,453.3 L397.8,457.5 L399.2,461.0 L400.7,463.9 L402.2,466.2 L403.6,468.0 L405.1,469.3 L406.6,470.4 L408.0,471.2 L409.5,471.7 L411.0,472.2 L412.4,472.5 L413.9,472.7 L415.4,472.9 L416.8,473.0 L418.3,473.1 L419.7,473.1 L421.2,473.2 L422.7,473.2 L424.1,473.2 L425.6,473.2 L427.1,473.2 L428.5,473.3 L430.0,473.3 L431.5,473.3 L432.9,473.3 L434.4,473.3 L435.8,473.3 L437.3,473.3 L438.8,473.3 L440.2,473.3 L441.7,473.3 L443.2,473.3 L444.6,473.3 L446.1,473.3 L447.6,473.3 L449.0,473.3 L450.5,473.3 L452.0,473.3 L453.4,473.3 L454.9,473.3 L456.3,473.3 L457.8,473.3 L459.3,473.3 L460.7,473.3 L462.2,473.3 L463.7,473.3 L465.1,473.3 L466.6,473.3 L468.1,473.3 L469.5,473.3 L471.0,473.3 L472.4,473.3 L473.9,473.3 L475.4,473.3 L476.8,473.3 L478.3,473.3 L479.8,473.3 L481.2,473.3 L482.7,473.3 L484.2,473.3 L485.6,473.3 L487.1,473.3 L488.6,473.3 L490.0,473.3 L491.5,473.3 L492.9,473.3 L494.4,473.3 L495.9,473.3 L497.3,473.3 L498.8,473.3 L500.3,473.3 L501.7,473.3 L503.2,473.3 L504.7,473.3 L506.1,473.3 L507.6,473.3 L509.0,473.3 L510.5,473.3 L512.0,473.3 L513.4,473.3 L514.9,473.3 L516.4,473.3 L517.8,473.3 L519.3,473.3 L520.8,473.3 L522.2,473.3 L523.7,473.3 L525.2,473.3 L526.6,473.3 L528.1,473.3 L529.5,473.3 L531.0,473.3 L532.5,473.3 L533.9,473.3 L535.4,473.3 L536.9,473.4 L538.3,473.4 L539.8,473.4 L541.3,473.4 L542.7,473.5 L544.2,473.5 L545.6,473.6 L547.1,473.7 L548.6,473.8 L550.0,473.9 L551.5,474.0 L553.0,474.1 L554.4,474.2 L555.9,474.4 L557.4,474.5 L558.8,474.6 L560.3,474.7 L561.8,474.8 L563.2,474.8 L564.7,474.9 L566.1,475.0 L567.6,475.0 L569.1,475.1 L570.5,475.1 L572.0,475.1 L573.5,475.1 L574.9,475.1 L576.4,475.2 L577.9,475.2 L579.3,475.2 L580.8,475.2 L582.2,475.2 L583.7,475.2 L585.2,475.2 L586.6,475.2 L588.1,475.2 L589.6,475.2 L591.0,475.2 L592.5,475.2 L594.0,475.2 L595.4,475.2 L596.9,475.2 L598.4,475.2 L599.8,475.2 L601.3,475.2 L602.7,475.2 L604.2,475.2 L605.7,475.2 L607.1,475.2 L608.6,475.2" stroke="#d040d0"/><path d="M96.2,428.0 L97.7,429.1 L99.1,430.2 L100.6,431.3 L102.1,432.4 L103.5,433.5 L105.0,434.6 L106.4,435.6 L107.9,436.6 L109.4,437.5 L110.8,438.4 L112.3,439.3 L113.8,440.0 L115.2,440.8 L116.7,441.4 L118.2,442.0 L119.6,442.5 L121.1,443.0 L122.6,443.4 L124.0,443.7 L125.5,444.0 L126.9,444.2 L128.4,444.3 L129.9,444.4 L131.3,444.4 L132.8,444.3 L134.3,444.2 L135.7,444.1 L137.2,443.8 L138.7,443.6 L140.1,443.2 L141.6,442.8 L143.0,442.4 L144.5,441.8 L146.0,441.3 L147.4,440.7 L148.9,440.0 L150.4,439.3 L151.8,438.5 L153.3,437.6 L154.8,436.8 L156.2,435.8 L157.7,434.9 L159.2,433.8 L160.6,432.8 L162.1,431.7 L163.5,430.6 L165.0,429.5 L166.5,428.3 L167.9,427.2 L169.4,426.0 L170.9,424.8 L172.3,423.6 L173.8,422.5 L175.3,421.3 L176.7,420.2 L178.2,419.0 L179.6,417.9 L181.1,416.9 L182.6,415.8 L184.0,414.8 L185.5,413.8 L187.0,412.9 L188.4,412.0 L189.9,411.2 L191.4,410.3 L192.8,409.5 L194.3,408.8 L195.8,408.0 L197.2,407.3 L198.7,406.6 L200.1,405.9 L201.6,405.2 L203.1,404.6 L204.5,403.9 L206.0,403.3 L207.5,402.6 L208.9,402.0 L210.4,401.3 L211.9,400.7 L213.3,400.0 L214.8,399.3 L216.2,398.6 L217.7,397.9 L219.2,397.2 L220.6,396.4 L222.1,395.6 L223.6,394.8 L225.0,393.9 L226.5,393.0 L228.0,392.0 L229.4,391.0 L230.9,389.9 L232.4,388.8 L233.8,387.6 L235.3,386.4 L236.7,385.1 L238.2,383.7 L239.7,382.2 L241.1,380.7 L242.6,379.1 L244.1,377.4 L245.5,375.6 L247.0,373.8 L248.5,371.8 L249.9,369.7 L251.4,367.6 L252.8,365.3 L254.3,363.0 L255.8,360.5 L257.2,357.9 L258.7,355.2 L260.2,352.4 L261.6,349.5 L263.1,346.4 L264.6,343.2 L266.0,340.0 L267.5,336.6 L269.0,333.0 L270.4,329.4 L271.9,325.6 L273.3,321.7 L274.8,317.7 L276.3,313.6 L277.7,309.4 L279.2,305.1 L280.7,300.6 L282.1,296.1 L283.6,291.5 L285.1,286.8 L286.5,282.0 L288.0,277.2 L289.4,272.2 L290.9,267.3 L292.4,262.2 L293.8,257.2 L295.3,252.1 L296.8,246.9 L298.2,241.8 L299.7,236.7 L301.2,231.6 L302.6,226.5 L304.1,221.4 L305.6,216.4 L307.0,211.4 L308.5,206.6 L309.9,201.8 L311.4,197.1 L312.9,192.5 L314.3,188.0 L315.8,183.7 L317.3,179.5 L318.7,175.5 L320.2,171.7 L321.7,168.0 L323.1,164.5 L324.6,161.3 L326.0,158.2 L327.5,155.4 L329.0,152.8 L330.4,150.5 L331.9,148.4 L333.4,146.5 L334.8,145.0 L336.3,143.6 L337.8,142.6 L339.2,141.8 L340.7,141.3 L342.2,141.1 L343.6,141.2 L345.1,141.7 L346.5,142.8 L348.0,144.4 L349.5,146.4 L350.9,148.9 L352.4,151.9 L353.9,155.4 L355.3,159.2 L356.8,163.5 L358.3,168.2 L359.7,173.2 L361.2,178.7 L362.6,184.3 L364.1,189.9 L365.6,195.5 L367.0,201.1 L368.5,206.8 L370.0,212.4 L371.4,218.0 L372.9,223.7 L374.4,229.3 L375.8,235.0 L377.3,240.6 L378.8,246.2 L380.2,251.9 L381.7,257.5 L383.1,263.2 L384.6,268.8 L386.1,274.5 L387.5,280.1 L389.0,285.8 L390.5,291.4 L391.9,297.1 L393.4,302.7 L394.9,308.4 L396.3,314.0 L397.8,319.7 L399.2,325.3 L400.7,331.0 L402.2,336.6 L403.6,342.2 L405.1,347.8 L406.6,353.5 L408.0,359.1 L409.5,364.6 L411.0,370.2 L412.4,375.7 L413.9,381.3 L415.4,386.7 L416.8,392.2 L418.3,397.6 L419.7,402.9 L421.2,408.1 L422.7,413.3 L424.1,418.3 L425.6,423.2 L427.1,428.0 L428.5,432.6 L430.0,436.9 L431.5,441.1 L432.9,445.0 L434.4,448.6 L435.8,451.9 L437.3,454.9 L438.8,457.6 L440.2,460.0 L441.7,462.1 L443.2,464.0 L444.6,465.5 L446.1,466.9 L447.6,468.0 L449.0,469.0 L450.5,469.7 L452.0,470.4 L453.4,470.9 L454.9,471.4 L456.3,471.7 L457.8,472.0 L459.3,472.3 L460.7,472.5 L462.2,472.6 L463.7,472.7 L465.1,472.8 L466.6,472.9 L468.1,473.0 L469.5,473.0 L471.0,473.1 L472.4,473.1 L473.9,473.1 L475.4,473.2 L476.8,473.2 L478.3,473.2 L479.8,473.2 L481.2,473.2 L482.7,473.2 L484.2,473.2 L485.6,473.2 L487.1,473.2 L488.6,473.3 L490.0,473.3 L491.5,473.3 L492.9,473.3 L494.4,473.3 L495.9,473.3 L497.3,473.3 L498.8,473.3 L500.3,473.3 L501.7,473.3 L503.2,473.3 L504.7,473.3 L506.1,473.3 L507.6,473.3 L509.0,473.3 L510.5,473.3 L512.0,473.3 L513.4,473.3 L514.9,473.3 L516.4,473.3 L517.8,473.3 L519.3,473.3 L520.8,473.3 L522.2,473.3 L523.7,473.3 L525.2,473.3 L526.6,473.3 L528.1,473.3 L529.5,473.3 L531.0,473.3 L532.5,473.3 L533.9,473.3 L535.4,473.3 L536.9,473.4 L538.3,473.4 L539.8,473.4 L541.3,473.4 L542.7,473.5 L544.2,473.5 L545.6,473.6 L547.1,473.7 L548.6,473.8 L550.0,473.9 L551.5,474.0 L553.0,474.1 L554.4,474.2 L555.9,474.4 L557.4,474.5 L558.8,474.6 L560.3,474.7 L561.8,474.8 L563.2,474.8 L564.7,474.9 L566.1,475.0 L567.6,475.0 L569.1,475.1 L570.5,475.1 L572.0,475.1 L573.5,475.1 L574.9,475.1 L576.4,475.2 L577.9,475.2 L579.3,475.2 L580.8,475.2 L582.2,475.2 L583.7,475.2 L585.2,475.2 L586.6,475.2 L588.1,475.2 L589.6,475.2 L591.0,475.2 L592.5,475.2 L594.0,475.2 L595.4,475.2 L596.9,475.2 L598.4,475.2 L599.8,475.2 L601.3,475.2 L602.7,475.2 L604.2,475.2 L605.7,475.2 L607.1,475.2 L608.6,475.2" stroke="#4c4cd0"/><path d="M96.2,425.6 L97.7,426.2 L99.1,426.9 L100.6,427.6 L102.1,428.3 L103.5,428.9 L105.0,429.6 L106.4,430.3 L107.9,431.0 L109.4,431.7 L110.8,432.4 L112.3,433.1 L113.8,433.8 L115.2,434.5 L116.7,435.3 L118.2,436.0 L119.6,436.6 L121.1,437.3 L122.6,437.9 L124.0,438.4 L125.5,438.8 L126.9,439.2 L128.4,439.5 L129.9,439.6 L131.3,439.7 L132.8,439.6 L134.3,439.4 L135.7,439.0 L137.2,438.5 L138.7,438.0 L140.1,437.3 L141.6,436.5 L143.0,435.6 L144.5,434.7 L146.0,433.7 L147.4,432.7 L148.9,431.6 L150.4,430.5 L151.8,429.4 L153.3,428.3 L154.8,427.2 L156.2,426.1 L157.7,425.0 L159.2,424.0 L160.6,422.9 L162.1,421.9 L163.5,420.9 L165.0,419.9 L166.5,418.9 L167.9,417.9 L169.4,417.0 L170.9,416.1 L172.3,415.1 L173.8,414.3 L175.3,413.4 L176.7,412.5 L178.2,411.7 L179.6,410.9 L181.1,410.1 L182.6,409.3 L184.0,408.5 L185.5,407.8 L187.0,407.0 L188.4,406.3 L189.9,405.6 L191.4,404.9 L192.8,404.2 L194.3,403.5 L195.8,402.8 L197.2,402.0 L198.7,401.3 L200.1,400.6 L201.6,399.9 L203.1,399.1 L204.5,398.4 L206.0,397.6 L207.5,396.7 L208.9,395.9 L210.4,395.0 L211.9,394.1 L213.3,393.1 L214.8,392.2 L216.2,391.1 L217.7,390.0 L219.2,388.8 L220.6,387.6 L222.1,386.4 L223.6,385.0 L225.0,383.6 L226.5,382.1 L228.0,380.5 L229.4,378.8 L230.9,377.1 L232.4,375.2 L233.8,373.3 L235.3,371.3 L236.7,369.1 L238.2,366.9 L239.7,364.6 L241.1,362.1 L242.6,359.6 L244.1,356.9 L245.5,354.1 L247.0,351.2 L248.5,348.2 L249.9,345.1 L251.4,341.9 L252.8,338.5 L254.3,335.0 L255.8,331.4 L257.2,327.7 L258.7,323.9 L260.2,320.0 L261.6,315.9 L263.1,311.8 L264.6,307.5 L266.0,303.1 L267.5,298.7 L269.0,294.2 L270.4,289.5 L271.9,284.8 L273.3,280.1 L274.8,275.2 L276.3,270.4 L277.7,265.4 L279.2,260.5 L280.7,255.5 L282.1,250.5 L283.6,245.5 L285.1,240.4 L286.5,235.4 L288.0,230.5 L289.4,225.5 L290.9,220.7 L292.4,215.8 L293.8,211.1 L295.3,206.4 L296.8,201.9 L298.2,197.4 L299.7,193.1 L301.2,188.9 L302.6,184.9 L304.1,181.0 L305.6,177.3 L307.0,173.8 L308.5,170.5 L309.9,167.3 L311.4,164.4 L312.9,161.7 L314.3,159.3 L315.8,157.1 L317.3,155.1 L318.7,153.4 L320.2,151.9 L321.7,150.7 L323.1,149.7 L324.6,149.1 L326.0,148.7 L327.5,148.5 L329.0,148.7 L330.4,149.4 L331.9,150.5 L333.4,152.0 L334.8,154.0 L336.3,156.4 L337.8,159.2 L339.2,162.4 L340.7,166.1 L342.2,170.1 L343.6,174.4 L345.1,179.2 L346.5,184.2 L348.0,189.5 L349.5,195.2 L350.9,201.1 L352.4,207.2 L353.9,213.6 L355.3,220.1 L356.8,226.8 L358.3,233.7 L359.7,240.7 L361.2,247.7 L362.6,254.7 L364.1,261.7 L365.6,268.7 L367.0,275.7 L368.5,282.7 L370.0,289.7 L371.4,296.7 L372.9,303.7 L374.4,310.7 L375.8,317.7 L377.3,324.7 L378.8,331.7 L380.2,338.7 L381.7,345.7 L383.1,352.6 L384.6,359.6 L386.1,366.5 L387.5,373.4 L389.0,380.2 L390.5,387.0 L391.9,393.7 L393.4,400.4 L394.9,406.9 L396.3,413.3 L397.8,419.5 L399.2,425.5 L400.7,431.3 L402.2,436.8 L403.6,441.9 L405.1,446.6 L406.6,450.9 L408.0,454.7 L409.5,458.0 L411.0,460.9 L412.4,463.3 L413.9,465.4 L415.4,467.0 L416.8,468.4 L418.3,469.5 L419.7,470.3 L421.2,471.0 L422.7,471.5 L424.1,471.9 L425.6,472.2 L427.1,472.5 L428.5,472.7 L430.0,472.8 L431.5,472.9 L432.9,473.0 L434.4,473.1 L435.8,473.1 L437.3,473.1 L438.8,473.2 L440.2,473.2 L441.7,473.2 L443.2,473.2 L444.6,473.2 L446.1,473.2 L447.6,473.3 L449.0,473.3 L450.5,473.3 L452.0,473.3 L453.4,473.3 L454.9,473.3 L456.3,473.3 L457.8,473.3 L459.3,473.3 L460.7,473.3 L462.2,473.3 L463.7,473.3 L465.1,473.3 L466.6,473.3 L468.1,473.3 L469.5,473.3 L471.0,473.3 L472.4,473.3 L473.9,473.3 L475.4,473.3 L476.8,473.3 L478.3,473.3 L479.8,473.3 L481.2,473.3 L482.7,473.3 L484.2,473.3 L485.6,473.3 L487.1,473.3 L488.6,473.3 L490.0,473.3 L491.5,473.3 L492.9,473.3 L494.4,473.3 L495.9,473.3 L497.3,473.3 L498.8,473.3 L500.3,473.3 L501.7,473.3 L503.2,473.3 L504.7,473.3 L506.1,473.3 L507.6,473.3 L509.0,473.3 L510.5,473.3 L512.0,473.3 L513.4,473.3 L514.9,473.3 L516.4,473.3 L517.8,473.3 L519.3,473.3 L520.8,473.3 L522.2,473.3 L523.7,473.3 L525.2,473.3 L526.6,473.3 L528.1,473.3 L529.5,473.3 L531.0,473.3 L532.5,473.3 L533.9,473.3 L535.4,473.3 L536.9,473.4 L538.3,473.4 L539.8,473.4 L541.3,473.4 L542.7,473.5 L544.2,473.5 L545.6,473.6 L547.1,473.7 L548.6,473.8 L550.0,473.9 L551.5,474.0 L553.0,474.1 L554.4,474.2 L555.9,474.4 L557.4,474.5 L558.8,474.6 L560.3,474.7 L561.8,474.8 L563.2,474.8 L564.7,474.9 L566.1,475.0 L567.6,475.0 L569.1,475.1 L570.5,475.1 L572.0,475.1 L573.5,475.1 L574.9,475.1 L576.4,475.2 L577.9,475.2 L579.3,475.2 L580.8,475.2 L582.2,475.2 L583.7,475.2 L585.2,475.2 L586.6,475.2 L588.1,475.2 L589.6,475.2 L591.0,475.2 L592.5,475.2 L594.0,475.2 L595.4,475.2 L596.9,475.2 L598.4,475.2 L599.8,475.2 L601.3,475.2 L602.7,475.2 L604.2,475.2 L605.7,475.2 L607.1,475.2 L608.6,475.2" stroke="#3a3ee0"/><path d="M96.2,429.5 L97.7,430.3 L99.1,431.2 L100.6,432.0 L102.1,432.8 L103.5,433.7 L105.0,434.5 L106.4,435.3 L107.9,436.1 L109.4,436.9 L110.8,437.6 L112.3,438.4 L113.8,439.1 L115.2,439.8 L116.7,440.5 L118.2,441.1 L119.6,441.7 L121.1,442.3 L122.6,442.8 L124.0,443.3 L125.5,443.7 L126.9,444.1 L128.4,444.5 L129.9,444.7 L131.3,444.9 L132.8,445.1 L134.3,445.1 L135.7,445.1 L137.2,445.0 L138.7,444.9 L140.1,444.7 L141.6,444.4 L143.0,444.0 L144.5,443.6 L146.0,443.1 L147.4,442.5 L148.9,441.9 L150.4,441.2 L151.8,440.5 L153.3,439.7 L154.8,438.8 L156.2,437.8 L157.7,436.8 L159.2,435.8 L160.6,434.7 L162.1,433.6 L163.5,432.4 L165.0,431.2 L166.5,430.0 L167.9,428.8 L169.4,427.5 L170.9,426.3 L172.3,425.0 L173.8,423.8 L175.3,422.6 L176.7,421.4 L178.2,420.2 L179.6,419.1 L181.1,418.0 L182.6,416.9 L184.0,415.9 L185.5,414.9 L187.0,414.0 L188.4,413.1 L189.9,412.3 L191.4,411.5 L192.8,410.7 L194.3,410.0 L195.8,409.3 L197.2,408.6 L198.7,408.0 L200.1,407.3 L201.6,406.7 L203.1,406.1 L204.5,405.5 L206.0,405.0 L207.5,404.4 L208.9,403.8 L210.4,403.2 L211.9,402.5 L213.3,401.9 L214.8,401.2 L216.2,400.6 L217.7,399.8 L219.2,399.1 L220.6,398.3 L222.1,397.4 L223.6,396.5 L225.0,395.5 L226.5,394.5 L228.0,393.4 L229.4,392.2 L230.9,390.9 L232.4,389.6 L233.8,388.1 L235.3,386.6 L236.7,385.0 L238.2,383.2 L239.7,381.4 L241.1,379.5 L242.6,377.4 L244.1,375.3 L245.5,373.0 L247.0,370.6 L248.5,368.1 L249.9,365.4 L251.4,362.7 L252.8,359.8 L254.3,356.7 L255.8,353.6 L257.2,350.3 L258.7,346.9 L260.2,343.4 L261.6,339.7 L263.1,335.9 L264.6,332.0 L266.0,327.9 L267.5,323.8 L269.0,319.5 L270.4,315.1 L271.9,310.6 L273.3,306.0 L274.8,301.3 L276.3,296.6 L277.7,291.7 L279.2,286.8 L280.7,281.8 L282.1,276.8 L283.6,271.7 L285.1,266.6 L286.5,261.5 L288.0,256.3 L289.4,251.2 L290.9,246.1 L292.4,241.0 L293.8,235.9 L295.3,231.0 L296.8,226.0 L298.2,221.2 L299.7,216.5 L301.2,211.8 L302.6,207.3 L304.1,203.0 L305.6,198.8 L307.0,194.7 L308.5,190.8 L309.9,187.2 L311.4,183.7 L312.9,180.4 L314.3,177.4 L315.8,174.6 L317.3,172.0 L318.7,169.7 L320.2,167.7 L321.7,165.9 L323.1,164.4 L324.6,163.2 L326.0,162.3 L327.5,161.6 L329.0,161.3 L330.4,161.2 L331.9,161.6 L333.4,162.5 L334.8,164.1 L336.3,166.2 L337.8,168.9 L339.2,172.1 L340.7,175.9 L342.2,180.2 L343.6,185.0 L345.1,190.2 L346.5,195.9 L348.0,202.0 L349.5,208.4 L350.9,215.2 L352.4,222.3 L353.9,229.7 L355.3,237.3 L356.8,245.0 L358.3,252.9 L359.7,260.8 L361.2,268.7 L362.6,276.6 L364.1,284.5 L365.6,292.4 L367.0,300.3 L368.5,308.2 L370.0,316.1 L371.4,324.0 L372.9,331.9 L374.4,339.7 L375.8,347.6 L377.3,355.4 L378.8,363.3 L380.2,371.0 L381.7,378.8 L383.1,386.4 L384.6,394.0 L386.1,401.5 L387.5,408.8 L389.0,416.0 L390.5,422.9 L391.9,429.5 L393.4,435.8 L394.9,441.6 L396.3,446.9 L397.8,451.7 L399.2,455.8 L400.7,459.4 L402.2,462.4 L403.6,464.8 L405.1,466.8 L406.6,468.4 L408.0,469.6 L409.5,470.5 L411.0,471.2 L412.4,471.7 L413.9,472.1 L415.4,472.4 L416.8,472.7 L418.3,472.8 L419.7,472.9 L421.2,473.0 L422.7,473.1 L424.1,473.1 L425.6,473.2 L427.1,473.2 L428.5,473.2 L430.0,473.2 L431.5,473.2 L432.9,473.3 L434.4,473.3 L435.8,473.3 L437.3,473.3 L438.8,473.3 L440.2,473.3 L441.7,473.3 L443.2,473.3 L444.6,473.3 L446.1,473.3 L447.6,473.3 L449.0,473.3 L450.5,473.3 L452.0,473.3 L453.4,473.3 L454.9,473.3 L456.3,473.3 L457.8,473.3 L459.3,473.3 L460.7,473.3 L462.2,473.3 L463.7,473.3 L465.1,473.3 L466.6,473.3 L468.1,473.3 L469.5,473.3 L471.0,473.3 L472.4,473.3 L473.9,473.3 L475.4,473.3 L476.8,473.3 L478.3,473.3 L479.8,473.3 L481.2,473.3 L482.7,473.3 L484.2,473.3 L485.6,473.3 L487.1,473.3 L488.6,473.3 L490.0,473.3 L491.5,473.3 L492.9,473.3 L494.4,473.3 L495.9,473.3 L497.3,473.3 L498.8,473.3 L500.3,473.3 L501.7,473.3 L503.2,473.3 L504.7,473.3 L506.1,473.3 L507.6,473.3 L509.0,473.3 L510.5,473.3 L512.0,473.3 L513.4,473.3 L514.9,473.3 L516.4,473.3 L517.8,473.3 L519.3,473.3 L520.8,473.3 L522.2,473.3 L523.7,473.3 L525.2,473.3 L526.6,473.3 L528.1,473.3 L529.5,473.3 L531.0,473.3 L532.5,473.3 L533.9,473.3 L535.4,473.3 L536.9,473.4 L538.3,473.4 L539.8,473.4 L541.3,473.4 L542.7,473.5 L544.2,473.5 L545.6,473.6 L547.1,473.7 L548.6,473.8 L550.0,473.9 L551.5,474.0 L553.0,474.1 L554.4,474.2 L555.9,474.4 L557.4,474.5 L558.8,474.6 L560.3,474.7 L561.8,474.8 L563.2,474.8 L564.7,474.9 L566.1,475.0 L567.6,475.0 L569.1,475.1 L570.5,475.1 L572.0,475.1 L573.5,475.1 L574.9,475.1 L576.4,475.2 L577.9,475.2 L579.3,475.2 L580.8,475.2 L582.2,475.2 L583.7,475.2 L585.2,475.2 L586.6,475.2 L588.1,475.2 L589.6,475.2 L591.0,475.2 L592.5,475.2 L594.0,475.2 L595.4,475.2 L596.9,475.2 L598.4,475.2 L599.8,475.2 L601.3,475.2 L602.7,475.2 L604.2,475.2 L605.7,475.2 L607.1,475.2 L608.6,475.2" stroke="#d040c0"/><path d="M96.2,417.8 L97.7,419.1 L99.1,420.3 L100.6,421.6 L102.1,422.8 L103.5,424.0 L105.0,425.2 L106.4,426.4 L107.9,427.5 L109.4,428.6 L110.8,429.7 L112.3,430.7 L113.8,431.6 L115.2,432.5 L116.7,433.4 L118.2,434.2 L119.6,434.9 L121.1,435.6 L122.6,436.2 L124.0,436.7 L125.5,437.1 L126.9,437.5 L128.4,437.7 L129.9,437.9 L131.3,438.0 L132.8,438.0 L134.3,437.9 L135.7,437.7 L137.2,437.4 L138.7,437.1 L140.1,436.6 L141.6,436.1 L143.0,435.5 L144.5,434.8 L146.0,434.0 L147.4,433.2 L148.9,432.3 L150.4,431.4 L151.8,430.4 L153.3,429.4 L154.8,428.3 L156.2,427.2 L157.7,426.0 L159.2,424.9 L160.6,423.6 L162.1,422.4 L163.5,421.2 L165.0,419.9 L166.5,418.6 L167.9,417.3 L169.4,416.0 L170.9,414.8 L172.3,413.5 L173.8,412.2 L175.3,411.0 L176.7,409.8 L178.2,408.6 L179.6,407.4 L181.1,406.3 L182.6,405.2 L184.0,404.1 L185.5,403.1 L187.0,402.1 L188.4,401.2 L189.9,400.3 L191.4,399.4 L192.8,398.6 L194.3,397.8 L195.8,397.0 L197.2,396.2 L198.7,395.4 L200.1,394.7 L201.6,393.9 L203.1,393.2 L204.5,392.4 L206.0,391.7 L207.5,390.9 L208.9,390.1 L210.4,389.3 L211.9,388.5 L213.3,387.6 L214.8,386.7 L216.2,385.8 L217.7,384.8 L219.2,383.7 L220.6,382.6 L222.1,381.5 L223.6,380.3 L225.0,379.0 L226.5,377.6 L228.0,376.1 L229.4,374.6 L230.9,373.0 L232.4,371.3 L233.8,369.4 L235.3,367.5 L236.7,365.5 L238.2,363.4 L239.7,361.2 L241.1,358.9 L242.6,356.4 L244.1,353.9 L245.5,351.2 L247.0,348.5 L248.5,345.6 L249.9,342.6 L251.4,339.5 L252.8,336.3 L254.3,333.0 L255.8,329.5 L257.2,326.0 L258.7,322.3 L260.2,318.6 L261.6,314.8 L263.1,310.8 L264.6,306.8 L266.0,302.7 L267.5,298.5 L269.0,294.2 L270.4,289.9 L271.9,285.5 L273.3,281.0 L274.8,276.5 L276.3,272.0 L277.7,267.4 L279.2,262.9 L280.7,258.3 L282.1,253.7 L283.6,249.1 L285.1,244.6 L286.5,240.0 L288.0,235.6 L289.4,231.1 L290.9,226.8 L292.4,222.5 L293.8,218.3 L295.3,214.3 L296.8,210.3 L298.2,206.4 L299.7,202.7 L301.2,199.2 L302.6,195.8 L304.1,192.5 L305.6,189.5 L307.0,186.6 L308.5,183.9 L309.9,181.5 L311.4,179.2 L312.9,177.2 L314.3,175.4 L315.8,173.8 L317.3,172.4 L318.7,171.3 L320.2,170.5 L321.7,169.9 L323.1,169.5 L324.6,169.4 L326.0,169.5 L327.5,170.1 L329.0,171.1 L330.4,172.5 L331.9,174.3 L333.4,176.5 L334.8,179.1 L336.3,182.1 L337.8,185.4 L339.2,189.1 L340.7,193.2 L342.2,197.6 L343.6,202.2 L345.1,207.2 L346.5,212.5 L348.0,218.0 L349.5,223.7 L350.9,229.6 L352.4,235.7 L353.9,242.0 L355.3,248.4 L356.8,254.9 L358.3,261.5 L359.7,268.0 L361.2,274.6 L362.6,281.1 L364.1,287.7 L365.6,294.3 L367.0,300.8 L368.5,307.4 L370.0,313.9 L371.4,320.5 L372.9,327.0 L374.4,333.5 L375.8,340.1 L377.3,346.6 L378.8,353.1 L380.2,359.6 L381.7,366.1 L383.1,372.5 L384.6,378.9 L386.1,385.3 L387.5,391.6 L389.0,397.9 L390.5,404.0 L391.9,410.1 L393.4,416.0 L394.9,421.7 L396.3,427.3 L397.8,432.6 L399.2,437.7 L400.7,442.4 L402.2,446.8 L403.6,450.8 L405.1,454.4 L406.6,457.6 L408.0,460.3 L409.5,462.7 L411.0,464.7 L412.4,466.4 L413.9,467.8 L415.4,468.9 L416.8,469.8 L418.3,470.6 L419.7,471.1 L421.2,471.6 L422.7,472.0 L424.1,472.3 L425.6,472.5 L427.1,472.7 L428.5,472.8 L430.0,472.9 L431.5,473.0 L432.9,473.0 L434.4,473.1 L435.8,473.1 L437.3,473.2 L438.8,473.2 L440.2,473.2 L441.7,473.2 L443.2,473.2 L444.6,473.2 L446.1,473.2 L447.6,473.2 L449.0,473.3 L450.5,473.3 L452.0,473.3 L453.4,473.3 L454.9,473.3 L456.3,473.3 L457.8,473.3 L459.3,473.3 L460.7,473.3 L462.2,473.3 L463.7,473.3 L465.1,473.3 L466.6,473.3 L468.1,473.3 L469.5,473.3 L471.0,473.3 L472.4,473.3 L473.9,473.3 L475.4,473.3 L476.8,473.3 L478.3,473.3 L479.8,473.3 L481.2,473.3 L482.7,473.3 L484.2,473.3 L485.6,473.3 L487.1,473.3 L488.6,473.3 L490.0,473.3 L491.5,473.3 L492.9,473.3 L494.4,473.3 L495.9,473.3 L497.3,473.3 L498.8,473.3 L500.3,473.3 L501.7,473.3 L503.2,473.3 L504.7,473.3 L506.1,473.3 L507.6,473.3 L509.0,473.3 L510.5,473.3 L512.0,473.3 L513.4,473.3 L514.9,473.3 L516.4,473.3 L517.8,473.3 L519.3,473.3 L520.8,473.3 L522.2,473.3 L523.7,473.3 L525.2,473.3 L526.6,473.3 L528.1,473.3 L529.5,473.3 L531.0,473.3 L532.5,473.3 L533.9,473.3 L535.4,473.3 L536.9,473.4 L538.3,473.4 L539.8,473.4 L541.3,473.4 L542.7,473.5 L544.2,473.5 L545.6,473.6 L547.1,473.7 L548.6,473.8 L550.0,473.9 L551.5,474.0 L553.0,474.1 L554.4,474.2 L555.9,474.4 L557.4,474.5 L558.8,474.6 L560.3,474.7 L561.8,474.8 L563.2,474.8 L564.7,474.9 L566.1,475.0 L567.6,475.0 L569.1,475.1 L570.5,475.1 L572.0,475.1 L573.5,475.1 L574.9,475.1 L576.4,475.2 L577.9,475.2 L579.3,475.2 L580.8,475.2 L582.2,475.2 L583.7,475.2 L585.2,475.2 L586.6,475.2 L588.1,475.2 L589.6,475.2 L591.0,475.2 L592.5,475.2 L594.0,475.2 L595.4,475.2 L596.9,475.2 L598.4,475.2 L599.8,475.2 L601.3,475.2 L602.7,475.2 L604.2,475.2 L605.7,475.2 L607.1,475.2 L608.6,475.2" stroke="#2c3cd0"/><path d="M96.2,430.4 L97.7,431.3 L99.1,432.1 L100.6,433.0 L102.1,433.9 L103.5,434.7 L105.0,435.6 L106.4,436.4 L107.9,437.2 L109.4,438.0 L110.8,438.7 L112.3,439.4 L113.8,440.1 L115.2,440.8 L116.7,441.4 L118.2,442.0 L119.6,442.5 L121.1,442.9 L122.6,443.4 L124.0,443.7 L125.5,444.0 L126.9,444.3 L128.4,444.4 L129.9,444.5 L131.3,444.6 L132.8,444.5 L134.3,444.4 L135.7,444.2 L137.2,443.9 L138.7,443.6 L140.1,443.2 L141.6,442.7 L143.0,442.1 L144.5,441.5 L146.0,440.8 L147.4,440.1 L148.9,439.3 L150.4,438.4 L151.8,437.5 L153.3,436.6 L154.8,435.6 L156.2,434.5 L157.7,433.4 L159.2,432.3 L160.6,431.1 L162.1,429.9 L163.5,428.7 L165.0,427.4 L166.5,426.2 L167.9,424.9 L169.4,423.6 L170.9,422.3 L172.3,421.1 L173.8,419.8 L175.3,418.5 L176.7,417.3 L178.2,416.1 L179.6,414.9 L181.1,413.7 L182.6,412.6 L184.0,411.5 L185.5,410.4 L187.0,409.4 L188.4,408.4 L189.9,407.4 L191.4,406.5 L192.8,405.6 L194.3,404.7 L195.8,403.9 L197.2,403.0 L198.7,402.2 L200.1,401.4 L201.6,400.6 L203.1,399.8 L204.5,399.1 L206.0,398.3 L207.5,397.5 L208.9,396.7 L210.4,395.9 L211.9,395.1 L213.3,394.3 L214.8,393.4 L216.2,392.5 L217.7,391.6 L219.2,390.7 L220.6,389.7 L222.1,388.7 L223.6,387.6 L225.0,386.5 L226.5,385.3 L228.0,384.0 L229.4,382.7 L230.9,381.3 L232.4,379.9 L233.8,378.4 L235.3,376.8 L236.7,375.1 L238.2,373.4 L239.7,371.6 L241.1,369.6 L242.6,367.6 L244.1,365.5 L245.5,363.3 L247.0,361.0 L248.5,358.6 L249.9,356.1 L251.4,353.5 L252.8,350.8 L254.3,348.0 L255.8,345.1 L257.2,342.0 L258.7,338.9 L260.2,335.6 L261.6,332.3 L263.1,328.8 L264.6,325.2 L266.0,321.6 L267.5,317.8 L269.0,313.9 L270.4,310.0 L271.9,305.9 L273.3,301.8 L274.8,297.6 L276.3,293.3 L277.7,289.0 L279.2,284.6 L280.7,280.1 L282.1,275.6 L283.6,271.1 L285.1,266.6 L286.5,262.0 L288.0,257.4 L289.4,252.9 L290.9,248.3 L292.4,243.8 L293.8,239.3 L295.3,234.9 L296.8,230.5 L298.2,226.2 L299.7,222.0 L301.2,217.9 L302.6,213.9 L304.1,210.0 L305.6,206.3 L307.0,202.7 L308.5,199.3 L309.9,196.0 L311.4,192.9 L312.9,190.0 L314.3,187.3 L315.8,184.7 L317.3,182.4 L318.7,180.4 L320.2,178.5 L321.7,176.9 L323.1,175.5 L324.6,174.4 L326.0,173.5 L327.5,172.9 L329.0,172.5 L330.4,172.4 L331.9,172.8 L333.4,173.8 L334.8,175.4 L336.3,177.7 L337.8,180.5 L339.2,183.9 L340.7,187.9 L342.2,192.4 L343.6,197.4 L345.1,202.9 L346.5,208.8 L348.0,215.1 L349.5,221.8 L350.9,228.9 L352.4,236.2 L353.9,243.8 L355.3,251.6 L356.8,259.5 L358.3,267.5 L359.7,275.5 L361.2,283.4 L362.6,291.4 L364.1,299.3 L365.6,307.3 L367.0,315.2 L368.5,323.2 L370.0,331.1 L371.4,339.1 L372.9,347.0 L374.4,354.9 L375.8,362.8 L377.3,370.6 L378.8,378.4 L380.2,386.2 L381.7,393.8 L383.1,401.4 L384.6,408.8 L386.1,416.0 L387.5,422.9 L389.0,429.6 L390.5,435.9 L391.9,441.8 L393.4,447.1 L394.9,451.9 L396.3,456.0 L397.8,459.6 L399.2,462.6 L400.7,465.0 L402.2,467.0 L403.6,468.5 L405.1,469.7 L406.6,470.6 L408.0,471.3 L409.5,471.8 L411.0,472.2 L412.4,472.5 L413.9,472.7 L415.4,472.8 L416.8,473.0 L418.3,473.0 L419.7,473.1 L421.2,473.2 L422.7,473.2 L424.1,473.2 L425.6,473.2 L427.1,473.2 L428.5,473.3 L430.0,473.3 L431.5,473.3 L432.9,473.3 L434.4,473.3 L435.8,473.3 L437.3,473.3 L438.8,473.3 L440.2,473.3 L441.7,473.3 L443.2,473.3 L444.6,473.3 L446.1,473.3 L447.6,473.3 L449.0,473.3 L450.5,473.3 L452.0,473.3 L453.4,473.3 L454.9,473.3 L456.3,473.3 L457.8,473.3 L459.3,473.3 L460.7,473.3 L462.2,473.3 L463.7,473.3 L465.1,473.3 L466.6,473.3 L468.1,473.3 L469.5,473.3 L471.0,473.3 L472.4,473.3 L473.9,473.3 L475.4,473.3 L476.8,473.3 L478.3,473.3 L479.8,473.3 L481.2,473.3 L482.7,473.3 L484.2,473.3 L485.6,473.3 L487.1,473.3 L488.6,473.3 L490.0,473.3 L491.5,473.3 L492.9,473.3 L494.4,473.3 L495.9,473.3 L497.3,473.3 L498.8,473.3 L500.3,473.3 L501.7,473.3 L503.2,473.3 L504.7,473.3 L506.1,473.3 L507.6,473.3 L509.0,473.3 L510.5,473.3 L512.0,473.3 L513.4,473.3 L514.9,473.3 L516.4,473.3 L517.8,473.3 L519.3,473.3 L520.8,473.3 L522.2,473.3 L523.7,473.3 L525.2,473.3 L526.6,473.3 L528.1,473.3 L529.5,473.3 L531.0,473.3 L532.5,473.3 L533.9,473.3 L535.4,473.3 L536.9,473.4 L538.3,473.4 L539.8,473.4 L541.3,473.4 L542.7,473.5 L544.2,473.5 L545.6,473.6 L547.1,473.7 L548.6,473.8 L550.0,473.9 L551.5,474.0 L553.0,474.1 L554.4,474.2 L555.9,474.4 L557.4,474.5 L558.8,474.6 L560.3,474.7 L561.8,474.8 L563.2,474.8 L564.7,474.9 L566.1,475.0 L567.6,475.0 L569.1,475.1 L570.5,475.1 L572.0,475.1 L573.5,475.1 L574.9,475.1 L576.4,475.2 L577.9,475.2 L579.3,475.2 L580.8,475.2 L582.2,475.2 L583.7,475.2 L585.2,475.2 L586.6,475.2 L588.1,475.2 L589.6,475.2 L591.0,475.2 L592.5,475.2 L594.0,475.2 L595.4,475.2 L596.9,475.2 L598.4,475.2 L599.8,475.2 L601.3,475.2 L602.7,475.2 L604.2,475.2 L605.7,475.2 L607.1,475.2 L608.6,475.2" stroke="#d06848"/><path d="M96.2,434.5 L97.7,435.2 L99.1,435.9 L100.6,436.6 L102.1,437.3 L103.5,438.0 L105.0,438.6 L106.4,439.3 L107.9,440.0 L109.4,440.7 L110.8,441.3 L112.3,442.0 L113.8,442.6 L115.2,443.2 L116.7,443.8 L118.2,444.4 L119.6,445.0 L121.1,445.5 L122.6,446.0 L124.0,446.5 L125.5,446.9 L126.9,447.3 L128.4,447.7 L129.9,448.0 L131.3,448.2 L132.8,448.4 L134.3,448.5 L135.7,448.6 L137.2,448.6 L138.7,448.5 L140.1,448.4 L141.6,448.2 L143.0,447.9 L144.5,447.6 L146.0,447.1 L147.4,446.6 L148.9,446.0 L150.4,445.4 L151.8,444.6 L153.3,443.7 L154.8,442.8 L156.2,441.8 L157.7,440.7 L159.2,439.5 L160.6,438.2 L162.1,436.9 L163.5,435.5 L165.0,434.1 L166.5,432.7 L167.9,431.2 L169.4,429.7 L170.9,428.2 L172.3,426.7 L173.8,425.2 L175.3,423.7 L176.7,422.3 L178.2,420.8 L179.6,419.4 L181.1,418.1 L182.6,416.8 L184.0,415.5 L185.5,414.4 L187.0,413.3 L188.4,412.2 L189.9,411.2 L191.4,410.3 L192.8,409.4 L194.3,408.6 L195.8,407.8 L197.2,407.1 L198.7,406.4 L200.1,405.7 L201.6,405.1 L203.1,404.5 L204.5,403.9 L206.0,403.3 L207.5,402.8 L208.9,402.2 L210.4,401.7 L211.9,401.1 L213.3,400.6 L214.8,400.0 L216.2,399.5 L217.7,398.9 L219.2,398.2 L220.6,397.6 L222.1,396.9 L223.6,396.2 L225.0,395.4 L226.5,394.5 L228.0,393.6 L229.4,392.7 L230.9,391.6 L232.4,390.5 L233.8,389.4 L235.3,388.1 L236.7,386.7 L238.2,385.3 L239.7,383.8 L241.1,382.1 L242.6,380.4 L244.1,378.6 L245.5,376.7 L247.0,374.6 L248.5,372.4 L249.9,370.2 L251.4,367.8 L252.8,365.3 L254.3,362.6 L255.8,359.8 L257.2,356.9 L258.7,353.9 L260.2,350.7 L261.6,347.4 L263.1,344.0 L264.6,340.5 L266.0,336.8 L267.5,333.0 L269.0,329.0 L270.4,325.0 L271.9,320.8 L273.3,316.5 L274.8,312.0 L276.3,307.5 L277.7,302.9 L279.2,298.1 L280.7,293.3 L282.1,288.4 L283.6,283.5 L285.1,278.4 L286.5,273.3 L288.0,268.2 L289.4,263.0 L290.9,257.8 L292.4,252.6 L293.8,247.4 L295.3,242.2 L296.8,237.0 L298.2,231.9 L299.7,226.8 L301.2,221.8 L302.6,216.9 L304.1,212.0 L305.6,207.3 L307.0,202.7 L308.5,198.2 L309.9,193.9 L311.4,189.7 L312.9,185.7 L314.3,182.0 L315.8,178.4 L317.3,175.0 L318.7,171.8 L320.2,168.9 L321.7,166.3 L323.1,163.8 L324.6,161.7 L326.0,159.8 L327.5,158.2 L329.0,156.9 L330.4,155.8 L331.9,155.1 L333.4,154.7 L334.8,154.5 L336.3,154.6 L337.8,155.2 L339.2,156.3 L340.7,157.8 L342.2,159.8 L343.6,162.3 L345.1,165.2 L346.5,168.5 L348.0,172.3 L349.5,176.4 L350.9,181.0 L352.4,185.8 L353.9,191.1 L355.3,196.6 L356.8,202.4 L358.3,208.6 L359.7,214.9 L361.2,221.5 L362.6,228.3 L364.1,235.2 L365.6,242.3 L367.0,249.4 L368.5,256.6 L370.0,263.7 L371.4,270.8 L372.9,278.0 L374.4,285.1 L375.8,292.3 L377.3,299.4 L378.8,306.5 L380.2,313.7 L381.7,320.8 L383.1,327.9 L384.6,335.0 L386.1,342.2 L387.5,349.3 L389.0,356.3 L390.5,363.4 L391.9,370.4 L393.4,377.4 L394.9,384.4 L396.3,391.3 L397.8,398.1 L399.2,404.8 L400.7,411.3 L402.2,417.7 L403.6,423.9 L405.1,429.9 L406.6,435.5 L408.0,440.8 L409.5,445.7 L411.0,450.2 L412.4,454.1 L413.9,457.6 L415.4,460.6 L416.8,463.1 L418.3,465.2 L419.7,467.0 L421.2,468.3 L422.7,469.4 L424.1,470.3 L425.6,471.0 L427.1,471.5 L428.5,471.9 L430.0,472.3 L431.5,472.5 L432.9,472.7 L434.4,472.8 L435.8,472.9 L437.3,473.0 L438.8,473.1 L440.2,473.1 L441.7,473.2 L443.2,473.2 L444.6,473.2 L446.1,473.2 L447.6,473.2 L449.0,473.2 L450.5,473.2 L452.0,473.3 L453.4,473.3 L454.9,473.3 L456.3,473.3 L457.8,473.3 L459.3,473.3 L460.7,473.3 L462.2,473.3 L463.7,473.3 L465.1,473.3 L466.6,473.3 L468.1,473.3 L469.5,473.3 L471.0,473.3 L472.4,473.3 L473.9,473.3 L475.4,473.3 L476.8,473.3 L478.3,473.3 L479.8,473.3 L481.2,473.3 L482.7,473.3 L484.2,473.3 L485.6,473.3 L487.1,473.3 L488.6,473.3 L490.0,473.3 L491.5,473.3 L492.9,473.3 L494.4,473.3 L495.9,473.3 L497.3,473.3 L498.8,473.3 L500.3,473.3 L501.7,473.3 L503.2,473.3 L504.7,473.3 L506.1,473.3 L507.6,473.3 L509.0,473.3 L510.5,473.3 L512.0,473.3 L513.4,473.3 L514.9,473.3 L516.4,473.3 L517.8,473.3 L519.3,473.3 L520.8,473.3 L522.2,473.3 L523.7,473.3 L525.2,473.3 L526.6,473.3 L528.1,473.3 L529.5,473.3 L531.0,473.3 L532.5,473.3 L533.9,473.3 L535.4,473.3 L536.9,473.4 L538.3,473.4 L539.8,473.4 L541.3,473.4 L542.7,473.5 L544.2,473.5 L545.6,473.6 L547.1,473.7 L548.6,473.8 L550.0,473.9 L551.5,474.0 L553.0,474.1 L554.4,474.2 L555.9,474.4 L557.4,474.5 L558.8,474.6 L560.3,474.7 L561.8,474.8 L563.2,474.8 L564.7,474.9 L566.1,475.0 L567.6,475.0 L569.1,475.1 L570.5,475.1 L572.0,475.1 L573.5,475.1 L574.9,475.1 L576.4,475.2 L577.9,475.2 L579.3,475.2 L580.8,475.2 L582.2,475.2 L583.7,475.2 L585.2,475.2 L586.6,475.2 L588.1,475.2 L589.6,475.2 L591.0,475.2 L592.5,475.2 L594.0,475.2 L595.4,475.2 L596.9,475.2 L598.4,475.2 L599.8,475.2 L601.3,475.2 L602.7,475.2 L604.2,475.2 L605.7,475.2 L607.1,475.2 L608.6,475.2" stroke="#40c8d8"/><path d="M96.2,430.0 L97.7,431.0 L99.1,431.9 L100.6,432.9 L102.1,433.9 L103.5,434.9 L105.0,435.8 L106.4,436.7 L107.9,437.6 L109.4,438.5 L110.8,439.4 L112.3,440.2 L113.8,441.0 L115.2,441.8 L116.7,442.5 L118.2,443.2 L119.6,443.8 L121.1,444.4 L122.6,445.0 L124.0,445.5 L125.5,445.9 L126.9,446.3 L128.4,446.6 L129.9,446.8 L131.3,447.0 L132.8,447.1 L134.3,447.2 L135.7,447.1 L137.2,447.0 L138.7,446.8 L140.1,446.6 L141.6,446.2 L143.0,445.8 L144.5,445.3 L146.0,444.7 L147.4,444.1 L148.9,443.4 L150.4,442.6 L151.8,441.8 L153.3,440.8 L154.8,439.8 L156.2,438.8 L157.7,437.6 L159.2,436.4 L160.6,435.2 L162.1,433.9 L163.5,432.5 L165.0,431.2 L166.5,429.8 L167.9,428.4 L169.4,427.0 L170.9,425.6 L172.3,424.2 L173.8,422.9 L175.3,421.5 L176.7,420.2 L178.2,418.9 L179.6,417.6 L181.1,416.4 L182.6,415.3 L184.0,414.2 L185.5,413.2 L187.0,412.3 L188.4,411.4 L189.9,410.6 L191.4,409.8 L192.8,409.1 L194.3,408.5 L195.8,407.9 L197.2,407.3 L198.7,406.7 L200.1,406.2 L201.6,405.8 L203.1,405.3 L204.5,404.9 L206.0,404.4 L207.5,404.0 L208.9,403.6 L210.4,403.2 L211.9,402.8 L213.3,402.3 L214.8,401.9 L216.2,401.4 L217.7,400.9 L219.2,400.4 L220.6,399.8 L222.1,399.2 L223.6,398.5 L225.0,397.7 L226.5,396.9 L228.0,396.0 L229.4,395.1 L230.9,394.0 L232.4,392.9 L233.8,391.6 L235.3,390.3 L236.7,388.8 L238.2,387.3 L239.7,385.6 L241.1,383.8 L242.6,381.9 L244.1,379.9 L245.5,377.7 L247.0,375.4 L248.5,373.0 L249.9,370.4 L251.4,367.7 L252.8,364.9 L254.3,361.9 L255.8,358.7 L257.2,355.5 L258.7,352.0 L260.2,348.5 L261.6,344.7 L263.1,340.9 L264.6,336.9 L266.0,332.7 L267.5,328.4 L269.0,324.0 L270.4,319.5 L271.9,314.8 L273.3,310.0 L274.8,305.1 L276.3,300.1 L277.7,294.9 L279.2,289.7 L280.7,284.4 L282.1,279.1 L283.6,273.6 L285.1,268.2 L286.5,262.6 L288.0,257.1 L289.4,251.5 L290.9,245.9 L292.4,240.4 L293.8,234.9 L295.3,229.4 L296.8,223.9 L298.2,218.6 L299.7,213.3 L301.2,208.1 L302.6,203.1 L304.1,198.1 L305.6,193.3 L307.0,188.7 L308.5,184.3 L309.9,180.0 L311.4,176.0 L312.9,172.1 L314.3,168.6 L315.8,165.2 L317.3,162.1 L318.7,159.3 L320.2,156.7 L321.7,154.4 L323.1,152.4 L324.6,150.8 L326.0,149.4 L327.5,148.3 L329.0,147.6 L330.4,147.2 L331.9,147.0 L333.4,147.3 L334.8,148.2 L336.3,149.7 L337.8,152.0 L339.2,154.9 L340.7,158.4 L342.2,162.5 L343.6,167.2 L345.1,172.5 L346.5,178.3 L348.0,184.6 L349.5,191.3 L350.9,198.5 L352.4,206.0 L353.9,213.9 L355.3,222.0 L356.8,230.4 L358.3,239.0 L359.7,247.6 L361.2,256.3 L362.6,264.9 L364.1,273.5 L365.6,282.2 L367.0,290.8 L368.5,299.4 L370.0,308.1 L371.4,316.7 L372.9,325.3 L374.4,333.9 L375.8,342.5 L377.3,351.1 L378.8,359.6 L380.2,368.2 L381.7,376.6 L383.1,385.0 L384.6,393.3 L386.1,401.5 L387.5,409.5 L389.0,417.3 L390.5,424.8 L391.9,431.9 L393.4,438.5 L394.9,444.6 L396.3,450.1 L397.8,454.8 L399.2,458.9 L400.7,462.2 L402.2,464.9 L403.6,467.0 L405.1,468.6 L406.6,469.9 L408.0,470.8 L409.5,471.5 L411.0,472.0 L412.4,472.4 L413.9,472.6 L415.4,472.8 L416.8,472.9 L418.3,473.0 L419.7,473.1 L421.2,473.2 L422.7,473.2 L424.1,473.2 L425.6,473.2 L427.1,473.3 L428.5,473.3 L430.0,473.3 L431.5,473.3 L432.9,473.3 L434.4,473.3 L435.8,473.3 L437.3,473.3 L438.8,473.3 L440.2,473.3 L441.7,473.3 L443.2,473.3 L444.6,473.3 L446.1,473.3 L447.6,473.3 L449.0,473.3 L450.5,473.3 L452.0,473.3 L453.4,473.3 L454.9,473.3 L456.3,473.3 L457.8,473.3 L459.3,473.3 L460.7,473.3 L462.2,473.3 L463.7,473.3 L465.1,473.3 L466.6,473.3 L468.1,473.3 L469.5,473.3 L471.0,473.3 L472.4,473.3 L473.9,473.3 L475.4,473.3 L476.8,473.3 L478.3,473.3 L479.8,473.3 L481.2,473.3 L482.7,473.3 L484.2,473.3 L485.6,473.3 L487.1,473.3 L488.6,473.3 L490.0,473.3 L491.5,473.3 L492.9,473.3 L494.4,473.3 L495.9,473.3 L497.3,473.3 L498.8,473.3 L500.3,473.3 L501.7,473.3 L503.2,473.3 L504.7,473.3 L506.1,473.3 L507.6,473.3 L509.0,473.3 L510.5,473.3 L512.0,473.3 L513.4,473.3 L514.9,473.3 L516.4,473.3 L517.8,473.3 L519.3,473.3 L520.8,473.3 L522.2,473.3 L523.7,473.3 L525.2,473.3 L526.6,473.3 L528.1,473.3 L529.5,473.3 L531.0,473.3 L532.5,473.3 L533.9,473.3 L535.4,473.3 L536.9,473.4 L538.3,473.4 L539.8,473.4 L541.3,473.4 L542.7,473.5 L544.2,473.5 L545.6,473.6 L547.1,473.7 L548.6,473.8 L550.0,473.9 L551.5,474.0 L553.0,474.1 L554.4,474.2 L555.9,474.4 L557.4,474.5 L558.8,474.6 L560.3,474.7 L561.8,474.8 L563.2,474.8 L564.7,474.9 L566.1,475.0 L567.6,475.0 L569.1,475.1 L570.5,475.1 L572.0,475.1 L573.5,475.1 L574.9,475.1 L576.4,475.2 L577.9,475.2 L579.3,475.2 L580.8,475.2 L582.2,475.2 L583.7,475.2 L585.2,475.2 L586.6,475.2 L588.1,475.2 L589.6,475.2 L591.0,475.2 L592.5,475.2 L594.0,475.2 L595.4,475.2 L596.9,475.2 L598.4,475.2 L599.8,475.2 L601.3,475.2 L602.7,475.2 L604.2,475.2 L605.7,475.2 L607.1,475.2 L608.6,475.2" stroke="#e060a0"/><path d="M96.2,441.0 L97.7,441.9 L99.1,442.8 L100.6,443.7 L102.1,444.6 L103.5,445.5 L105.0,446.3 L106.4,447.1 L107.9,447.9 L109.4,448.6 L110.8,449.3 L112.3,449.9 L113.8,450.5 L115.2,451.0 L116.7,451.4 L118.2,451.8 L119.6,452.1 L121.1,452.4 L122.6,452.6 L124.0,452.7 L125.5,452.8 L126.9,452.9 L128.4,452.8 L129.9,452.8 L131.3,452.7 L132.8,452.5 L134.3,452.3 L135.7,452.0 L137.2,451.7 L138.7,451.3 L140.1,450.9 L141.6,450.4 L143.0,450.0 L144.5,449.4 L146.0,448.9 L147.4,448.3 L148.9,447.6 L150.4,447.0 L151.8,446.3 L153.3,445.6 L154.8,444.8 L156.2,444.1 L157.7,443.3 L159.2,442.5 L160.6,441.6 L162.1,440.8 L163.5,439.9 L165.0,439.1 L166.5,438.2 L167.9,437.3 L169.4,436.4 L170.9,435.5 L172.3,434.6 L173.8,433.7 L175.3,432.8 L176.7,432.0 L178.2,431.1 L179.6,430.2 L181.1,429.4 L182.6,428.5 L184.0,427.7 L185.5,426.9 L187.0,426.1 L188.4,425.3 L189.9,424.6 L191.4,423.8 L192.8,423.1 L194.3,422.4 L195.8,421.7 L197.2,421.0 L198.7,420.3 L200.1,419.6 L201.6,418.9 L203.1,418.3 L204.5,417.6 L206.0,416.9 L207.5,416.3 L208.9,415.6 L210.4,415.0 L211.9,414.3 L213.3,413.7 L214.8,413.0 L216.2,412.3 L217.7,411.6 L219.2,410.9 L220.6,410.2 L222.1,409.5 L223.6,408.8 L225.0,408.0 L226.5,407.2 L228.0,406.4 L229.4,405.6 L230.9,404.7 L232.4,403.9 L233.8,403.0 L235.3,402.1 L236.7,401.1 L238.2,400.2 L239.7,399.1 L241.1,398.1 L242.6,397.0 L244.1,395.9 L245.5,394.7 L247.0,393.5 L248.5,392.2 L249.9,390.9 L251.4,389.5 L252.8,388.1 L254.3,386.5 L255.8,385.0 L257.2,383.3 L258.7,381.6 L260.2,379.8 L261.6,377.9 L263.1,375.9 L264.6,373.9 L266.0,371.8 L267.5,369.5 L269.0,367.2 L270.4,364.8 L271.9,362.3 L273.3,359.7 L274.8,357.0 L276.3,354.2 L277.7,351.2 L279.2,348.2 L280.7,345.1 L282.1,341.9 L283.6,338.6 L285.1,335.2 L286.5,331.7 L288.0,328.1 L289.4,324.4 L290.9,320.7 L292.4,316.8 L293.8,312.9 L295.3,308.9 L296.8,304.8 L298.2,300.7 L299.7,296.5 L301.2,292.3 L302.6,288.1 L304.1,283.8 L305.6,279.5 L307.0,275.1 L308.5,270.8 L309.9,266.5 L311.4,262.1 L312.9,257.9 L314.3,253.6 L315.8,249.4 L317.3,245.3 L318.7,241.2 L320.2,237.2 L321.7,233.3 L323.1,229.5 L324.6,225.8 L326.0,222.2 L327.5,218.8 L329.0,215.5 L330.4,212.4 L331.9,209.4 L333.4,206.7 L334.8,204.1 L336.3,201.6 L337.8,199.4 L339.2,197.4 L340.7,195.7 L342.2,194.1 L343.6,192.8 L345.1,191.6 L346.5,190.8 L348.0,190.1 L349.5,189.7 L350.9,189.5 L352.4,189.7 L353.9,190.1 L355.3,190.9 L356.8,192.1 L358.3,193.5 L359.7,195.4 L361.2,197.5 L362.6,199.9 L364.1,202.7 L365.6,205.7 L367.0,209.1 L368.5,212.7 L370.0,216.5 L371.4,220.6 L372.9,225.0 L374.4,229.5 L375.8,234.3 L377.3,239.3 L378.8,244.4 L380.2,249.7 L381.7,255.1 L383.1,260.6 L384.6,266.3 L386.1,271.9 L387.5,277.6 L389.0,283.3 L390.5,289.0 L391.9,294.7 L393.4,300.4 L394.9,306.1 L396.3,311.8 L397.8,317.5 L399.2,323.2 L400.7,328.9 L402.2,334.6 L403.6,340.2 L405.1,345.9 L406.6,351.6 L408.0,357.2 L409.5,362.9 L411.0,368.5 L412.4,374.1 L413.9,379.7 L415.4,385.2 L416.8,390.7 L418.3,396.1 L419.7,401.5 L421.2,406.8 L422.7,412.1 L424.1,417.2 L425.6,422.2 L427.1,427.0 L428.5,431.6 L430.0,436.1 L431.5,440.3 L432.9,444.3 L434.4,448.0 L435.8,451.4 L437.3,454.5 L438.8,457.3 L440.2,459.7 L441.7,461.9 L443.2,463.8 L444.6,465.4 L446.1,466.8 L447.6,467.9 L449.0,468.9 L450.5,469.7 L452.0,470.4 L453.4,470.9 L454.9,471.4 L456.3,471.7 L457.8,472.0 L459.3,472.3 L460.7,472.5 L462.2,472.6 L463.7,472.7 L465.1,472.8 L466.6,472.9 L468.1,473.0 L469.5,473.0 L471.0,473.1 L472.4,473.1 L473.9,473.2 L475.4,473.2 L476.8,473.2 L478.3,473.2 L479.8,473.2 L481.2,473.2 L482.7,473.2 L484.2,473.2 L485.6,473.2 L487.1,473.2 L488.6,473.3 L490.0,473.3 L491.5,473.3 L492.9,473.3 L494.4,473.3 L495.9,473.3 L497.3,473.3 L498.8,473.3 L500.3,473.3 L501.7,473.3 L503.2,473.3 L504.7,473.3 L506.1,473.3 L507.6,473.3 L509.0,473.3 L510.5,473.3 L512.0,473.3 L513.4,473.3 L514.9,473.3 L516.4,473.3 L517.8,473.3 L519.3,473.3 L520.8,473.3 L522.2,473.3 L523.7,473.3 L525.2,473.3 L526.6,473.3 L528.1,473.3 L529.5,473.3 L531.0,473.3 L532.5,473.3 L533.9,473.3 L535.4,473.3 L536.9,473.4 L538.3,473.4 L539.8,473.4 L541.3,473.4 L542.7,473.5 L544.2,473.5 L545.6,473.6 L547.1,473.7 L548.6,473.8 L550.0,473.9 L551.5,474.0 L553.0,474.1 L554.4,474.2 L555.9,474.4 L557.4,474.5 L558.8,474.6 L560.3,474.7 L561.8,474.8 L563.2,474.8 L564.7,474.9 L566.1,475.0 L567.6,475.0 L569.1,475.1 L570.5,475.1 L572.0,475.1 L573.5,475.1 L574.9,475.1 L576.4,475.2 L577.9,475.2 L579.3,475.2 L580.8,475.2 L582.2,475.2 L583.7,475.2 L585.2,475.2 L586.6,475.2 L588.1,475.2 L589.6,475.2 L591.0,475.2 L592.5,475.2 L594.0,475.2 L595.4,475.2 L596.9,475.2 L598.4,475.2 L599.8,475.2 L601.3,475.2 L602.7,475.2 L604.2,475.2 L605.7,475.2 L607.1,475.2 L608.6,475.2" stroke="#5040e0"/><path d="M96.2,435.4 L97.7,436.2 L99.1,437.1 L100.6,438.0 L102.1,438.8 L103.5,439.7 L105.0,440.5 L106.4,441.3 L107.9,442.1 L109.4,442.8 L110.8,443.5 L112.3,444.2 L113.8,444.8 L115.2,445.4 L116.7,445.9 L118.2,446.4 L119.6,446.8 L121.1,447.2 L122.6,447.5 L124.0,447.7 L125.5,447.9 L126.9,448.0 L128.4,448.0 L129.9,448.0 L131.3,447.8 L132.8,447.6 L134.3,447.3 L135.7,447.0 L137.2,446.5 L138.7,446.0 L140.1,445.4 L141.6,444.8 L143.0,444.1 L144.5,443.3 L146.0,442.6 L147.4,441.7 L148.9,440.9 L150.4,440.0 L151.8,439.1 L153.3,438.1 L154.8,437.2 L156.2,436.3 L157.7,435.3 L159.2,434.3 L160.6,433.4 L162.1,432.4 L163.5,431.4 L165.0,430.5 L166.5,429.5 L167.9,428.5 L169.4,427.6 L170.9,426.7 L172.3,425.7 L173.8,424.8 L175.3,423.9 L176.7,423.0 L178.2,422.1 L179.6,421.2 L181.1,420.4 L182.6,419.6 L184.0,418.8 L185.5,418.0 L187.0,417.2 L188.4,416.5 L189.9,415.8 L191.4,415.0 L192.8,414.4 L194.3,413.7 L195.8,413.0 L197.2,412.3 L198.7,411.7 L200.1,411.0 L201.6,410.4 L203.1,409.7 L204.5,409.1 L206.0,408.4 L207.5,407.8 L208.9,407.1 L210.4,406.4 L211.9,405.8 L213.3,405.0 L214.8,404.3 L216.2,403.6 L217.7,402.8 L219.2,402.0 L220.6,401.1 L222.1,400.3 L223.6,399.3 L225.0,398.4 L226.5,397.4 L228.0,396.3 L229.4,395.2 L230.9,394.0 L232.4,392.8 L233.8,391.5 L235.3,390.1 L236.7,388.7 L238.2,387.2 L239.7,385.7 L241.1,384.0 L242.6,382.3 L244.1,380.5 L245.5,378.6 L247.0,376.7 L248.5,374.6 L249.9,372.4 L251.4,370.2 L252.8,367.8 L254.3,365.3 L255.8,362.8 L257.2,360.1 L258.7,357.3 L260.2,354.4 L261.6,351.4 L263.1,348.3 L264.6,345.1 L266.0,341.7 L267.5,338.3 L269.0,334.8 L270.4,331.2 L271.9,327.4 L273.3,323.6 L274.8,319.7 L276.3,315.7 L277.7,311.6 L279.2,307.5 L280.7,303.3 L282.1,299.0 L283.6,294.7 L285.1,290.3 L286.5,285.9 L288.0,281.5 L289.4,277.1 L290.9,272.6 L292.4,268.2 L293.8,263.8 L295.3,259.4 L296.8,255.1 L298.2,250.8 L299.7,246.6 L301.2,242.4 L302.6,238.4 L304.1,234.4 L305.6,230.6 L307.0,226.9 L308.5,223.3 L309.9,219.9 L311.4,216.7 L312.9,213.6 L314.3,210.7 L315.8,208.0 L317.3,205.5 L318.7,203.2 L320.2,201.1 L321.7,199.3 L323.1,197.7 L324.6,196.4 L326.0,195.2 L327.5,194.4 L329.0,193.7 L330.4,193.4 L331.9,193.3 L333.4,193.8 L334.8,195.0 L336.3,196.9 L337.8,199.5 L339.2,202.8 L340.7,206.7 L342.2,211.2 L343.6,216.3 L345.1,221.9 L346.5,228.0 L348.0,234.5 L349.5,241.5 L350.9,248.8 L352.4,256.5 L353.9,264.4 L355.3,272.5 L356.8,280.6 L358.3,288.7 L359.7,296.9 L361.2,305.0 L362.6,313.2 L364.1,321.3 L365.6,329.4 L367.0,337.6 L368.5,345.7 L370.0,353.8 L371.4,361.8 L372.9,369.9 L374.4,377.9 L375.8,385.8 L377.3,393.6 L378.8,401.4 L380.2,408.9 L381.7,416.3 L383.1,423.4 L384.6,430.2 L386.1,436.6 L387.5,442.6 L389.0,447.9 L390.5,452.7 L391.9,456.9 L393.4,460.4 L394.9,463.3 L396.3,465.6 L397.8,467.5 L399.2,468.9 L400.7,470.1 L402.2,470.9 L403.6,471.5 L405.1,472.0 L406.6,472.3 L408.0,472.6 L409.5,472.8 L411.0,472.9 L412.4,473.0 L413.9,473.1 L415.4,473.2 L416.8,473.2 L418.3,473.2 L419.7,473.2 L421.2,473.2 L422.7,473.3 L424.1,473.3 L425.6,473.3 L427.1,473.3 L428.5,473.3 L430.0,473.3 L431.5,473.3 L432.9,473.3 L434.4,473.3 L435.8,473.3 L437.3,473.3 L438.8,473.3 L440.2,473.3 L441.7,473.3 L443.2,473.3 L444.6,473.3 L446.1,473.3 L447.6,473.3 L449.0,473.3 L450.5,473.3 L452.0,473.3 L453.4,473.3 L454.9,473.3 L456.3,473.3 L457.8,473.3 L459.3,473.3 L460.7,473.3 L462.2,473.3 L463.7,473.3 L465.1,473.3 L466.6,473.3 L468.1,473.3 L469.5,473.3 L471.0,473.3 L472.4,473.3 L473.9,473.3 L475.4,473.3 L476.8,473.3 L478.3,473.3 L479.8,473.3 L481.2,473.3 L482.7,473.3 L484.2,473.3 L485.6,473.3 L487.1,473.3 L488.6,473.3 L490.0,473.3 L491.5,473.3 L492.9,473.3 L494.4,473.3 L495.9,473.3 L497.3,473.3 L498.8,473.3 L500.3,473.3 L501.7,473.3 L503.2,473.3 L504.7,473.3 L506.1,473.3 L507.6,473.3 L509.0,473.3 L510.5,473.3 L512.0,473.3 L513.4,473.3 L514.9,473.3 L516.4,473.3 L517.8,473.3 L519.3,473.3 L520.8,473.3 L522.2,473.3 L523.7,473.3 L525.2,473.3 L526.6,473.3 L528.1,473.3 L529.5,473.3 L531.0,473.3 L532.5,473.3 L533.9,473.3 L535.4,473.3 L536.9,473.4 L538.3,473.4 L539.8,473.4 L541.3,473.4 L542.7,473.5 L544.2,473.5 L545.6,473.6 L547.1,473.7 L548.6,473.8 L550.0,473.9 L551.5,474.0 L553.0,474.1 L554.4,474.2 L555.9,474.4 L557.4,474.5 L558.8,474.6 L560.3,474.7 L561.8,474.8 L563.2,474.8 L564.7,474.9 L566.1,475.0 L567.6,475.0 L569.1,475.1 L570.5,475.1 L572.0,475.1 L573.5,475.1 L574.9,475.1 L576.4,475.2 L577.9,475.2 L579.3,475.2 L580.8,475.2 L582.2,475.2 L583.7,475.2 L585.2,475.2 L586.6,475.2 L588.1,475.2 L589.6,475.2 L591.0,475.2 L592.5,475.2 L594.0,475.2 L595.4,475.2 L596.9,475.2 L598.4,475.2 L599.8,475.2 L601.3,475.2 L602.7,475.2 L604.2,475.2 L605.7,475.2 L607.1,475.2 L608.6,475.2" stroke="#e04060"/><path d="M96.2,445.3 L97.7,445.8 L99.1,446.3 L100.6,446.7 L102.1,447.2 L103.5,447.7 L105.0,448.2 L106.4,448.7 L107.9,449.3 L109.4,449.8 L110.8,450.4 L112.3,451.0 L113.8,451.7 L115.2,452.3 L116.7,453.0 L118.2,453.7 L119.6,454.4 L121.1,455.0 L122.6,455.6 L124.0,456.2 L125.5,456.7 L126.9,457.1 L128.4,457.4 L129.9,457.6 L131.3,457.7 L132.8,457.7 L134.3,457.5 L135.7,457.2 L137.2,456.8 L138.7,456.2 L140.1,455.6 L141.6,454.8 L143.0,454.0 L144.5,453.2 L146.0,452.2 L147.4,451.3 L148.9,450.3 L150.4,449.3 L151.8,448.3 L153.3,447.2 L154.8,446.2 L156.2,445.3 L157.7,444.3 L159.2,443.4 L160.6,442.5 L162.1,441.6 L163.5,440.8 L165.0,440.0 L166.5,439.2 L167.9,438.4 L169.4,437.6 L170.9,436.9 L172.3,436.2 L173.8,435.5 L175.3,434.8 L176.7,434.1 L178.2,433.4 L179.6,432.8 L181.1,432.1 L182.6,431.5 L184.0,430.9 L185.5,430.3 L187.0,429.7 L188.4,429.1 L189.9,428.5 L191.4,427.9 L192.8,427.3 L194.3,426.8 L195.8,426.2 L197.2,425.6 L198.7,425.1 L200.1,424.5 L201.6,424.0 L203.1,423.4 L204.5,422.8 L206.0,422.3 L207.5,421.7 L208.9,421.1 L210.4,420.6 L211.9,420.0 L213.3,419.4 L214.8,418.8 L216.2,418.2 L217.7,417.5 L219.2,416.9 L220.6,416.2 L222.1,415.5 L223.6,414.8 L225.0,414.1 L226.5,413.3 L228.0,412.5 L229.4,411.7 L230.9,410.8 L232.4,409.9 L233.8,409.0 L235.3,408.0 L236.7,407.1 L238.2,406.0 L239.7,404.9 L241.1,403.8 L242.6,402.6 L244.1,401.3 L245.5,400.0 L247.0,398.6 L248.5,397.2 L249.9,395.7 L251.4,394.1 L252.8,392.4 L254.3,390.6 L255.8,388.7 L257.2,386.8 L258.7,384.7 L260.2,382.6 L261.6,380.3 L263.1,378.0 L264.6,375.5 L266.0,372.9 L267.5,370.2 L269.0,367.4 L270.4,364.5 L271.9,361.4 L273.3,358.2 L274.8,355.0 L276.3,351.6 L277.7,348.0 L279.2,344.4 L280.7,340.6 L282.1,336.8 L283.6,332.8 L285.1,328.7 L286.5,324.6 L288.0,320.3 L289.4,316.0 L290.9,311.6 L292.4,307.1 L293.8,302.5 L295.3,297.9 L296.8,293.3 L298.2,288.6 L299.7,283.9 L301.2,279.2 L302.6,274.5 L304.1,269.8 L305.6,265.2 L307.0,260.6 L308.5,256.0 L309.9,251.5 L311.4,247.1 L312.9,242.8 L314.3,238.6 L315.8,234.5 L317.3,230.6 L318.7,226.8 L320.2,223.2 L321.7,219.8 L323.1,216.6 L324.6,213.5 L326.0,210.7 L327.5,208.1 L329.0,205.8 L330.4,203.7 L331.9,201.8 L333.4,200.2 L334.8,198.9 L336.3,197.8 L337.8,197.0 L339.2,196.5 L340.7,196.3 L342.2,196.3 L343.6,196.5 L345.1,197.0 L346.5,197.7 L348.0,198.7 L349.5,199.9 L350.9,201.4 L352.4,203.1 L353.9,205.0 L355.3,207.1 L356.8,209.5 L358.3,212.0 L359.7,214.8 L361.2,217.8 L362.6,220.9 L364.1,224.2 L365.6,227.7 L367.0,231.4 L368.5,235.2 L370.0,239.2 L371.4,243.2 L372.9,247.5 L374.4,251.8 L375.8,256.2 L377.3,260.8 L378.8,265.4 L380.2,270.1 L381.7,274.8 L383.1,279.7 L384.6,284.5 L386.1,289.4 L387.5,294.4 L389.0,299.3 L390.5,304.3 L391.9,309.2 L393.4,314.2 L394.9,319.1 L396.3,324.1 L397.8,328.9 L399.2,333.8 L400.7,338.6 L402.2,343.3 L403.6,348.0 L405.1,352.6 L406.6,357.2 L408.0,361.7 L409.5,366.1 L411.0,370.4 L412.4,374.6 L413.9,378.7 L415.4,382.8 L416.8,386.7 L418.3,390.6 L419.7,394.3 L421.2,397.9 L422.7,401.5 L424.1,404.9 L425.6,408.2 L427.1,411.4 L428.5,414.5 L430.0,417.5 L431.5,420.4 L432.9,423.2 L434.4,425.9 L435.8,428.4 L437.3,430.9 L438.8,433.3 L440.2,435.5 L441.7,437.7 L443.2,439.8 L444.6,441.8 L446.1,443.6 L447.6,445.4 L449.0,447.2 L450.5,448.8 L452.0,450.3 L453.4,451.8 L454.9,453.2 L456.3,454.5 L457.8,455.8 L459.3,456.9 L460.7,458.0 L462.2,459.1 L463.7,460.1 L465.1,461.0 L466.6,461.9 L468.1,462.7 L469.5,463.5 L471.0,464.2 L472.4,464.9 L473.9,465.5 L475.4,466.1 L476.8,466.6 L478.3,467.2 L479.8,467.6 L481.2,468.1 L482.7,468.5 L484.2,468.9 L485.6,469.2 L487.1,469.6 L488.6,469.9 L490.0,470.2 L491.5,470.4 L492.9,470.7 L494.4,470.9 L495.9,471.1 L497.3,471.3 L498.8,471.5 L500.3,471.6 L501.7,471.8 L503.2,471.9 L504.7,472.0 L506.1,472.1 L507.6,472.3 L509.0,472.3 L510.5,472.4 L512.0,472.5 L513.4,472.6 L514.9,472.7 L516.4,472.7 L517.8,472.8 L519.3,472.8 L520.8,472.9 L522.2,472.9 L523.7,472.9 L525.2,473.0 L526.6,473.0 L528.1,473.0 L529.5,473.1 L531.0,473.1 L532.5,473.1 L533.9,473.2 L535.4,473.2 L536.9,473.2 L538.3,473.3 L539.8,473.3 L541.3,473.4 L542.7,473.4 L544.2,473.5 L545.6,473.6 L547.1,473.6 L548.6,473.7 L550.0,473.8 L551.5,474.0 L553.0,474.1 L554.4,474.2 L555.9,474.3 L557.4,474.4 L558.8,474.6 L560.3,474.7 L561.8,474.8 L563.2,474.8 L564.7,474.9 L566.1,475.0 L567.6,475.0 L569.1,475.0 L570.5,475.1 L572.0,475.1 L573.5,475.1 L574.9,475.1 L576.4,475.2 L577.9,475.2 L579.3,475.2 L580.8,475.2 L582.2,475.2 L583.7,475.2 L585.2,475.2 L586.6,475.2 L588.1,475.2 L589.6,475.2 L591.0,475.2 L592.5,475.2 L594.0,475.2 L595.4,475.2 L596.9,475.2 L598.4,475.2 L599.8,475.2 L601.3,475.2 L602.7,475.2 L604.2,475.2 L605.7,475.2 L607.1,475.2 L608.6,475.2" stroke="#40c0e0"/><path d="M96.2,448.4 L97.7,449.3 L99.1,450.1 L100.6,451.0 L102.1,451.9 L103.5,452.7 L105.0,453.5 L106.4,454.3 L107.9,455.1 L109.4,455.8 L110.8,456.5 L112.3,457.2 L113.8,457.8 L115.2,458.3 L116.7,458.8 L118.2,459.2 L119.6,459.6 L121.1,460.0 L122.6,460.3 L124.0,460.6 L125.5,460.8 L126.9,461.0 L128.4,461.1 L129.9,461.2 L131.3,461.3 L132.8,461.3 L134.3,461.3 L135.7,461.2 L137.2,461.2 L138.7,461.1 L140.1,460.9 L141.6,460.7 L143.0,460.4 L144.5,460.1 L146.0,459.8 L147.4,459.4 L148.9,458.9 L150.4,458.4 L151.8,457.8 L153.3,457.1 L154.8,456.4 L156.2,455.6 L157.7,454.7 L159.2,453.8 L160.6,452.8 L162.1,451.8 L163.5,450.8 L165.0,449.7 L166.5,448.5 L167.9,447.4 L169.4,446.2 L170.9,445.0 L172.3,443.8 L173.8,442.6 L175.3,441.5 L176.7,440.3 L178.2,439.1 L179.6,438.0 L181.1,436.9 L182.6,435.8 L184.0,434.7 L185.5,433.7 L187.0,432.7 L188.4,431.8 L189.9,430.9 L191.4,430.1 L192.8,429.2 L194.3,428.5 L195.8,427.7 L197.2,426.9 L198.7,426.2 L200.1,425.5 L201.6,424.8 L203.1,424.2 L204.5,423.5 L206.0,422.9 L207.5,422.2 L208.9,421.6 L210.4,421.0 L211.9,420.3 L213.3,419.7 L214.8,419.0 L216.2,418.3 L217.7,417.7 L219.2,416.9 L220.6,416.2 L222.1,415.4 L223.6,414.6 L225.0,413.8 L226.5,412.9 L228.0,412.0 L229.4,411.0 L230.9,410.0 L232.4,408.9 L233.8,407.8 L235.3,406.6 L236.7,405.3 L238.2,404.0 L239.7,402.6 L241.1,401.2 L242.6,399.6 L244.1,398.0 L245.5,396.3 L247.0,394.5 L248.5,392.7 L249.9,390.7 L251.4,388.6 L252.8,386.5 L254.3,384.2 L255.8,381.9 L257.2,379.4 L258.7,376.8 L260.2,374.2 L261.6,371.4 L263.1,368.5 L264.6,365.5 L266.0,362.4 L267.5,359.2 L269.0,355.9 L270.4,352.5 L271.9,348.9 L273.3,345.3 L274.8,341.6 L276.3,337.8 L277.7,333.9 L279.2,329.9 L280.7,325.9 L282.1,321.8 L283.6,317.6 L285.1,313.4 L286.5,309.1 L288.0,304.8 L289.4,300.4 L290.9,296.1 L292.4,291.7 L293.8,287.3 L295.3,283.0 L296.8,278.6 L298.2,274.4 L299.7,270.1 L301.2,265.9 L302.6,261.8 L304.1,257.8 L305.6,253.9 L307.0,250.0 L308.5,246.3 L309.9,242.8 L311.4,239.4 L312.9,236.1 L314.3,233.0 L315.8,230.1 L317.3,227.3 L318.7,224.8 L320.2,222.5 L321.7,220.4 L323.1,218.5 L324.6,216.8 L326.0,215.4 L327.5,214.2 L329.0,213.3 L330.4,212.6 L331.9,212.1 L333.4,211.9 L334.8,212.1 L336.3,212.8 L337.8,214.0 L339.2,215.8 L340.7,218.1 L342.2,220.9 L343.6,224.2 L345.1,228.0 L346.5,232.2 L348.0,236.8 L349.5,241.9 L350.9,247.3 L352.4,253.0 L353.9,259.0 L355.3,265.3 L356.8,271.8 L358.3,278.6 L359.7,285.4 L361.2,292.3 L362.6,299.3 L364.1,306.2 L365.6,313.1 L367.0,320.0 L368.5,326.9 L370.0,333.8 L371.4,340.7 L372.9,347.5 L374.4,354.4 L375.8,361.3 L377.3,368.1 L378.8,374.9 L380.2,381.6 L381.7,388.3 L383.1,395.0 L384.6,401.5 L386.1,408.0 L387.5,414.3 L389.0,420.4 L390.5,426.3 L391.9,432.0 L393.4,437.3 L394.9,442.3 L396.3,447.0 L397.8,451.2 L399.2,454.9 L400.7,458.2 L402.2,461.0 L403.6,463.4 L405.1,465.4 L406.6,467.1 L408.0,468.4 L409.5,469.5 L411.0,470.3 L412.4,471.0 L413.9,471.5 L415.4,471.9 L416.8,472.2 L418.3,472.5 L419.7,472.7 L421.2,472.8 L422.7,472.9 L424.1,473.0 L425.6,473.1 L427.1,473.1 L428.5,473.2 L430.0,473.2 L431.5,473.2 L432.9,473.2 L434.4,473.2 L435.8,473.2 L437.3,473.3 L438.8,473.3 L440.2,473.3 L441.7,473.3 L443.2,473.3 L444.6,473.3 L446.1,473.3 L447.6,473.3 L449.0,473.3 L450.5,473.3 L452.0,473.3 L453.4,473.3 L454.9,473.3 L456.3,473.3 L457.8,473.3 L459.3,473.3 L460.7,473.3 L462.2,473.3 L463.7,473.3 L465.1,473.3 L466.6,473.3 L468.1,473.3 L469.5,473.3 L471.0,473.3 L472.4,473.3 L473.9,473.3 L475.4,473.3 L476.8,473.3 L478.3,473.3 L479.8,473.3 L481.2,473.3 L482.7,473.3 L484.2,473.3 L485.6,473.3 L487.1,473.3 L488.6,473.3 L490.0,473.3 L491.5,473.3 L492.9,473.3 L494.4,473.3 L495.9,473.3 L497.3,473.3 L498.8,473.3 L500.3,473.3 L501.7,473.3 L503.2,473.3 L504.7,473.3 L506.1,473.3 L507.6,473.3 L509.0,473.3 L510.5,473.3 L512.0,473.3 L513.4,473.3 L514.9,473.3 L516.4,473.3 L517.8,473.3 L519.3,473.3 L520.8,473.3 L522.2,473.3 L523.7,473.3 L525.2,473.3 L526.6,473.3 L528.1,473.3 L529.5,473.3 L531.0,473.3 L532.5,473.3 L533.9,473.3 L535.4,473.3 L536.9,473.4 L538.3,473.4 L539.8,473.4 L541.3,473.4 L542.7,473.5 L544.2,473.5 L545.6,473.6 L547.1,473.7 L548.6,473.8 L550.0,473.9 L551.5,474.0 L553.0,474.1 L554.4,474.2 L555.9,474.4 L557.4,474.5 L558.8,474.6 L560.3,474.7 L561.8,474.8 L563.2,474.8 L564.7,474.9 L566.1,475.0 L567.6,475.0 L569.1,475.1 L570.5,475.1 L572.0,475.1 L573.5,475.1 L574.9,475.1 L576.4,475.2 L577.9,475.2 L579.3,475.2 L580.8,475.2 L582.2,475.2 L583.7,475.2 L585.2,475.2 L586.6,475.2 L588.1,475.2 L589.6,475.2 L591.0,475.2 L592.5,475.2 L594.0,475.2 L595.4,475.2 L596.9,475.2 L598.4,475.2 L599.8,475.2 L601.3,475.2 L602.7,475.2 L604.2,475.2 L605.7,475.2 L607.1,475.2 L608.6,475.2" stroke="#e0d060"/><path d="M96.2,430.6 L97.7,431.6 L99.1,432.6 L100.6,433.5 L102.1,434.5 L103.5,435.5 L105.0,436.4 L106.4,437.4 L107.9,438.3 L109.4,439.1 L110.8,440.0 L112.3,440.8 L113.8,441.6 L115.2,442.3 L116.7,443.0 L118.2,443.7 L119.6,444.3 L121.1,444.9 L122.6,445.4 L124.0,445.9 L125.5,446.3 L126.9,446.6 L128.4,446.9 L129.9,447.1 L131.3,447.2 L132.8,447.3 L134.3,447.3 L135.7,447.2 L137.2,447.0 L138.7,446.8 L140.1,446.5 L141.6,446.1 L143.0,445.7 L144.5,445.1 L146.0,444.5 L147.4,443.9 L148.9,443.1 L150.4,442.3 L151.8,441.4 L153.3,440.5 L154.8,439.4 L156.2,438.4 L157.7,437.2 L159.2,436.0 L160.6,434.7 L162.1,433.4 L163.5,432.1 L165.0,430.7 L166.5,429.3 L167.9,427.9 L169.4,426.5 L170.9,425.1 L172.3,423.7 L173.8,422.3 L175.3,420.9 L176.7,419.5 L178.2,418.2 L179.6,416.8 L181.1,415.6 L182.6,414.4 L184.0,413.2 L185.5,412.1 L187.0,411.1 L188.4,410.1 L189.9,409.1 L191.4,408.3 L192.8,407.4 L194.3,406.6 L195.8,405.9 L197.2,405.1 L198.7,404.5 L200.1,403.8 L201.6,403.2 L203.1,402.6 L204.5,402.0 L206.0,401.4 L207.5,400.8 L208.9,400.3 L210.4,399.7 L211.9,399.2 L213.3,398.6 L214.8,398.1 L216.2,397.5 L217.7,396.9 L219.2,396.3 L220.6,395.6 L222.1,394.9 L223.6,394.2 L225.0,393.5 L226.5,392.7 L228.0,391.8 L229.4,390.9 L230.9,390.0 L232.4,388.9 L233.8,387.8 L235.3,386.7 L236.7,385.4 L238.2,384.1 L239.7,382.8 L241.1,381.3 L242.6,379.8 L244.1,378.2 L245.5,376.4 L247.0,374.7 L248.5,372.8 L249.9,370.8 L251.4,368.7 L252.8,366.5 L254.3,364.3 L255.8,361.9 L257.2,359.5 L258.7,356.9 L260.2,354.3 L261.6,351.5 L263.1,348.7 L264.6,345.7 L266.0,342.7 L267.5,339.6 L269.0,336.4 L270.4,333.1 L271.9,329.7 L273.3,326.3 L274.8,322.8 L276.3,319.2 L277.7,315.6 L279.2,311.9 L280.7,308.2 L282.1,304.4 L283.6,300.7 L285.1,296.9 L286.5,293.1 L288.0,289.3 L289.4,285.5 L290.9,281.7 L292.4,278.0 L293.8,274.3 L295.3,270.6 L296.8,267.1 L298.2,263.5 L299.7,260.1 L301.2,256.8 L302.6,253.6 L304.1,250.5 L305.6,247.5 L307.0,244.7 L308.5,242.0 L309.9,239.4 L311.4,237.1 L312.9,234.9 L314.3,232.8 L315.8,231.0 L317.3,229.4 L318.7,228.0 L320.2,226.7 L321.7,225.7 L323.1,224.9 L324.6,224.4 L326.0,224.0 L327.5,223.9 L329.0,224.0 L330.4,224.6 L331.9,225.6 L333.4,227.2 L334.8,229.2 L336.3,231.6 L337.8,234.5 L339.2,237.8 L340.7,241.5 L342.2,245.6 L343.6,250.0 L345.1,254.8 L346.5,259.8 L348.0,265.2 L349.5,270.8 L350.9,276.6 L352.4,282.6 L353.9,288.8 L355.3,295.1 L356.8,301.4 L358.3,307.7 L359.7,314.0 L361.2,320.3 L362.6,326.6 L364.1,332.9 L365.6,339.2 L367.0,345.5 L368.5,351.7 L370.0,358.0 L371.4,364.3 L372.9,370.5 L374.4,376.7 L375.8,382.8 L377.3,388.9 L378.8,395.0 L380.2,401.0 L381.7,406.9 L383.1,412.7 L384.6,418.3 L386.1,423.8 L387.5,429.1 L389.0,434.1 L390.5,438.9 L391.9,443.4 L393.4,447.6 L394.9,451.4 L396.3,454.8 L397.8,457.8 L399.2,460.5 L400.7,462.7 L402.2,464.7 L403.6,466.3 L405.1,467.7 L406.6,468.8 L408.0,469.7 L409.5,470.4 L411.0,471.0 L412.4,471.5 L413.9,471.9 L415.4,472.2 L416.8,472.4 L418.3,472.6 L419.7,472.7 L421.2,472.9 L422.7,472.9 L424.1,473.0 L425.6,473.1 L427.1,473.1 L428.5,473.2 L430.0,473.2 L431.5,473.2 L432.9,473.2 L434.4,473.2 L435.8,473.2 L437.3,473.2 L438.8,473.2 L440.2,473.3 L441.7,473.3 L443.2,473.3 L444.6,473.3 L446.1,473.3 L447.6,473.3 L449.0,473.3 L450.5,473.3 L452.0,473.3 L453.4,473.3 L454.9,473.3 L456.3,473.3 L457.8,473.3 L459.3,473.3 L460.7,473.3 L462.2,473.3 L463.7,473.3 L465.1,473.3 L466.6,473.3 L468.1,473.3 L469.5,473.3 L471.0,473.3 L472.4,473.3 L473.9,473.3 L475.4,473.3 L476.8,473.3 L478.3,473.3 L479.8,473.3 L481.2,473.3 L482.7,473.3 L484.2,473.3 L485.6,473.3 L487.1,473.3 L488.6,473.3 L490.0,473.3 L491.5,473.3 L492.9,473.3 L494.4,473.3 L495.9,473.3 L497.3,473.3 L498.8,473.3 L500.3,473.3 L501.7,473.3 L503.2,473.3 L504.7,473.3 L506.1,473.3 L507.6,473.3 L509.0,473.3 L510.5,473.3 L512.0,473.3 L513.4,473.3 L514.9,473.3 L516.4,473.3 L517.8,473.3 L519.3,473.3 L520.8,473.3 L522.2,473.3 L523.7,473.3 L525.2,473.3 L526.6,473.3 L528.1,473.3 L529.5,473.3 L531.0,473.3 L532.5,473.3 L533.9,473.3 L535.4,473.3 L536.9,473.4 L538.3,473.4 L539.8,473.4 L541.3,473.4 L542.7,473.5 L544.2,473.5 L545.6,473.6 L547.1,473.7 L548.6,473.8 L550.0,473.9 L551.5,474.0 L553.0,474.1 L554.4,474.2 L555.9,474.4 L557.4,474.5 L558.8,474.6 L560.3,474.7 L561.8,474.8 L563.2,474.8 L564.7,474.9 L566.1,475.0 L567.6,475.0 L569.1,475.1 L570.5,475.1 L572.0,475.1 L573.5,475.1 L574.9,475.1 L576.4,475.2 L577.9,475.2 L579.3,475.2 L580.8,475.2 L582.2,475.2 L583.7,475.2 L585.2,475.2 L586.6,475.2 L588.1,475.2 L589.6,475.2 L591.0,475.2 L592.5,475.2 L594.0,475.2 L595.4,475.2 L596.9,475.2 L598.4,475.2 L599.8,475.2 L601.3,475.2 L602.7,475.2 L604.2,475.2 L605.7,475.2 L607.1,475.2 L608.6,475.2" stroke="#b040e0"/><path d="M96.2,435.6 L97.7,436.4 L99.1,437.2 L100.6,438.0 L102.1,438.7 L103.5,439.5 L105.0,440.3 L106.4,441.0 L107.9,441.7 L109.4,442.4 L110.8,443.1 L112.3,443.8 L113.8,444.4 L115.2,445.0 L116.7,445.5 L118.2,446.0 L119.6,446.5 L121.1,446.9 L122.6,447.2 L124.0,447.5 L125.5,447.8 L126.9,447.9 L128.4,448.0 L129.9,448.0 L131.3,447.9 L132.8,447.8 L134.3,447.6 L135.7,447.2 L137.2,446.8 L138.7,446.3 L140.1,445.8 L141.6,445.2 L143.0,444.5 L144.5,443.7 L146.0,442.9 L147.4,442.1 L148.9,441.2 L150.4,440.3 L151.8,439.3 L153.3,438.3 L154.8,437.3 L156.2,436.2 L157.7,435.1 L159.2,434.0 L160.6,432.9 L162.1,431.8 L163.5,430.7 L165.0,429.6 L166.5,428.5 L167.9,427.3 L169.4,426.2 L170.9,425.1 L172.3,424.0 L173.8,422.9 L175.3,421.8 L176.7,420.8 L178.2,419.8 L179.6,418.7 L181.1,417.8 L182.6,416.8 L184.0,415.9 L185.5,415.0 L187.0,414.1 L188.4,413.3 L189.9,412.5 L191.4,411.8 L192.8,411.0 L194.3,410.3 L195.8,409.6 L197.2,408.9 L198.7,408.2 L200.1,407.6 L201.6,406.9 L203.1,406.3 L204.5,405.7 L206.0,405.0 L207.5,404.4 L208.9,403.7 L210.4,403.1 L211.9,402.4 L213.3,401.8 L214.8,401.1 L216.2,400.4 L217.7,399.6 L219.2,398.9 L220.6,398.1 L222.1,397.2 L223.6,396.3 L225.0,395.4 L226.5,394.4 L228.0,393.4 L229.4,392.3 L230.9,391.2 L232.4,390.0 L233.8,388.7 L235.3,387.4 L236.7,386.0 L238.2,384.5 L239.7,382.9 L241.1,381.3 L242.6,379.6 L244.1,377.8 L245.5,375.9 L247.0,373.9 L248.5,371.8 L249.9,369.7 L251.4,367.4 L252.8,365.1 L254.3,362.6 L255.8,360.1 L257.2,357.5 L258.7,354.7 L260.2,351.9 L261.6,349.0 L263.1,346.1 L264.6,343.0 L266.0,339.8 L267.5,336.6 L269.0,333.3 L270.4,330.0 L271.9,326.5 L273.3,323.1 L274.8,319.6 L276.3,316.0 L277.7,312.4 L279.2,308.8 L280.7,305.2 L282.1,301.6 L283.6,298.0 L285.1,294.5 L286.5,290.9 L288.0,287.4 L289.4,284.0 L290.9,280.6 L292.4,277.3 L293.8,274.1 L295.3,271.0 L296.8,268.0 L298.2,265.2 L299.7,262.5 L301.2,259.9 L302.6,257.4 L304.1,255.2 L305.6,253.1 L307.0,251.2 L308.5,249.5 L309.9,248.0 L311.4,246.6 L312.9,245.5 L314.3,244.6 L315.8,244.0 L317.3,243.5 L318.7,243.3 L320.2,243.3 L321.7,244.0 L323.1,245.2 L324.6,247.0 L326.0,249.3 L327.5,252.2 L329.0,255.6 L330.4,259.5 L331.9,263.8 L333.4,268.6 L334.8,273.7 L336.3,279.3 L337.8,285.1 L339.2,291.2 L340.7,297.6 L342.2,304.2 L343.6,310.8 L345.1,317.5 L346.5,324.2 L348.0,330.8 L349.5,337.5 L350.9,344.2 L352.4,350.8 L353.9,357.5 L355.3,364.1 L356.8,370.7 L358.3,377.3 L359.7,383.8 L361.2,390.3 L362.6,396.7 L364.1,403.0 L365.6,409.2 L367.0,415.3 L368.5,421.2 L370.0,426.9 L371.4,432.3 L372.9,437.5 L374.4,442.4 L375.8,446.9 L377.3,451.0 L378.8,454.6 L380.2,457.8 L381.7,460.6 L383.1,463.0 L384.6,465.0 L386.1,466.7 L387.5,468.1 L389.0,469.2 L390.5,470.1 L391.9,470.8 L393.4,471.3 L394.9,471.8 L396.3,472.1 L397.8,472.4 L399.2,472.6 L400.7,472.7 L402.2,472.9 L403.6,473.0 L405.1,473.0 L406.6,473.1 L408.0,473.1 L409.5,473.2 L411.0,473.2 L412.4,473.2 L413.9,473.2 L415.4,473.2 L416.8,473.3 L418.3,473.3 L419.7,473.3 L421.2,473.3 L422.7,473.3 L424.1,473.3 L425.6,473.3 L427.1,473.3 L428.5,473.3 L430.0,473.3 L431.5,473.3 L432.9,473.3 L434.4,473.3 L435.8,473.3 L437.3,473.3 L438.8,473.3 L440.2,473.3 L441.7,473.3 L443.2,473.3 L444.6,473.3 L446.1,473.3 L447.6,473.3 L449.0,473.3 L450.5,473.3 L452.0,473.3 L453.4,473.3 L454.9,473.3 L456.3,473.3 L457.8,473.3 L459.3,473.3 L460.7,473.3 L462.2,473.3 L463.7,473.3 L465.1,473.3 L466.6,473.3 L468.1,473.3 L469.5,473.3 L471.0,473.3 L472.4,473.3 L473.9,473.3 L475.4,473.3 L476.8,473.3 L478.3,473.3 L479.8,473.3 L481.2,473.3 L482.7,473.3 L484.2,473.3 L485.6,473.3 L487.1,473.3 L488.6,473.3 L490.0,473.3 L491.5,473.3 L492.9,473.3 L494.4,473.3 L495.9,473.3 L497.3,473.3 L498.8,473.3 L500.3,473.3 L501.7,473.3 L503.2,473.3 L504.7,473.3 L506.1,473.3 L507.6,473.3 L509.0,473.3 L510.5,473.3 L512.0,473.3 L513.4,473.3 L514.9,473.3 L516.4,473.3 L517.8,473.3 L519.3,473.3 L520.8,473.3 L522.2,473.3 L523.7,473.3 L525.2,473.3 L526.6,473.3 L528.1,473.3 L529.5,473.3 L531.0,473.3 L532.5,473.3 L533.9,473.3 L535.4,473.3 L536.9,473.4 L538.3,473.4 L539.8,473.4 L541.3,473.4 L542.7,473.5 L544.2,473.5 L545.6,473.6 L547.1,473.7 L548.6,473.8 L550.0,473.9 L551.5,474.0 L553.0,474.1 L554.4,474.2 L555.9,474.4 L557.4,474.5 L558.8,474.6 L560.3,474.7 L561.8,474.8 L563.2,474.8 L564.7,474.9 L566.1,475.0 L567.6,475.0 L569.1,475.1 L570.5,475.1 L572.0,475.1 L573.5,475.1 L574.9,475.1 L576.4,475.2 L577.9,475.2 L579.3,475.2 L580.8,475.2 L582.2,475.2 L583.7,475.2 L585.2,475.2 L586.6,475.2 L588.1,475.2 L589.6,475.2 L591.0,475.2 L592.5,475.2 L594.0,475.2 L595.4,475.2 L596.9,475.2 L598.4,475.2 L599.8,475.2 L601.3,475.2 L602.7,475.2 L604.2,475.2 L605.7,475.2 L607.1,475.2 L608.6,475.2" stroke="#e04070"/><path d="M96.2,430.3 L97.7,431.4 L99.1,432.4 L100.6,433.5 L102.1,434.5 L103.5,435.5 L105.0,436.5 L106.4,437.4 L107.9,438.4 L109.4,439.3 L110.8,440.1 L112.3,441.0 L113.8,441.7 L115.2,442.5 L116.7,443.2 L118.2,443.8 L119.6,444.4 L121.1,444.9 L122.6,445.3 L124.0,445.7 L125.5,446.1 L126.9,446.3 L128.4,446.5 L129.9,446.6 L131.3,446.6 L132.8,446.6 L134.3,446.5 L135.7,446.3 L137.2,446.0 L138.7,445.7 L140.1,445.3 L141.6,444.8 L143.0,444.3 L144.5,443.7 L146.0,443.1 L147.4,442.4 L148.9,441.6 L150.4,440.9 L151.8,440.0 L153.3,439.2 L154.8,438.3 L156.2,437.4 L157.7,436.5 L159.2,435.5 L160.6,434.6 L162.1,433.6 L163.5,432.6 L165.0,431.6 L166.5,430.5 L167.9,429.5 L169.4,428.5 L170.9,427.5 L172.3,426.5 L173.8,425.4 L175.3,424.4 L176.7,423.4 L178.2,422.5 L179.6,421.5 L181.1,420.6 L182.6,419.6 L184.0,418.8 L185.5,417.9 L187.0,417.0 L188.4,416.2 L189.9,415.4 L191.4,414.7 L192.8,413.9 L194.3,413.2 L195.8,412.5 L197.2,411.8 L198.7,411.1 L200.1,410.4 L201.6,409.7 L203.1,409.1 L204.5,408.4 L206.0,407.8 L207.5,407.1 L208.9,406.5 L210.4,405.8 L211.9,405.1 L213.3,404.4 L214.8,403.7 L216.2,403.0 L217.7,402.3 L219.2,401.5 L220.6,400.7 L222.1,399.9 L223.6,399.1 L225.0,398.2 L226.5,397.3 L228.0,396.3 L229.4,395.3 L230.9,394.3 L232.4,393.2 L233.8,392.1 L235.3,390.9 L236.7,389.7 L238.2,388.4 L239.7,387.0 L241.1,385.6 L242.6,384.1 L244.1,382.6 L245.5,380.9 L247.0,379.2 L248.5,377.5 L249.9,375.6 L251.4,373.7 L252.8,371.7 L254.3,369.6 L255.8,367.4 L257.2,365.2 L258.7,362.8 L260.2,360.3 L261.6,357.8 L263.1,355.2 L264.6,352.4 L266.0,349.6 L267.5,346.7 L269.0,343.7 L270.4,340.6 L271.9,337.4 L273.3,334.2 L274.8,330.8 L276.3,327.4 L277.7,323.9 L279.2,320.3 L280.7,316.7 L282.1,313.0 L283.6,309.2 L285.1,305.4 L286.5,301.5 L288.0,297.6 L289.4,293.7 L290.9,289.8 L292.4,285.8 L293.8,281.8 L295.3,277.9 L296.8,273.9 L298.2,270.0 L299.7,266.1 L301.2,262.2 L302.6,258.4 L304.1,254.7 L305.6,251.0 L307.0,247.4 L308.5,243.9 L309.9,240.5 L311.4,237.2 L312.9,234.1 L314.3,231.0 L315.8,228.1 L317.3,225.4 L318.7,222.8 L320.2,220.4 L321.7,218.2 L323.1,216.1 L324.6,214.2 L326.0,212.6 L327.5,211.1 L329.0,209.8 L330.4,208.8 L331.9,207.9 L333.4,207.3 L334.8,206.9 L336.3,206.7 L337.8,206.8 L339.2,207.2 L340.7,208.0 L342.2,209.2 L343.6,210.7 L345.1,212.6 L346.5,214.9 L348.0,217.4 L349.5,220.3 L350.9,223.6 L352.4,227.1 L353.9,230.9 L355.3,235.0 L356.8,239.3 L358.3,243.9 L359.7,248.7 L361.2,253.7 L362.6,258.9 L364.1,264.2 L365.6,269.7 L367.0,275.3 L368.5,281.0 L370.0,286.8 L371.4,292.5 L372.9,298.3 L374.4,304.0 L375.8,309.8 L377.3,315.5 L378.8,321.2 L380.2,327.0 L381.7,332.7 L383.1,338.5 L384.6,344.2 L386.1,349.9 L387.5,355.6 L389.0,361.3 L390.5,367.0 L391.9,372.6 L393.4,378.3 L394.9,383.9 L396.3,389.4 L397.8,394.9 L399.2,400.4 L400.7,405.8 L402.2,411.1 L403.6,416.2 L405.1,421.3 L406.6,426.2 L408.0,430.9 L409.5,435.5 L411.0,439.8 L412.4,443.8 L413.9,447.6 L415.4,451.0 L416.8,454.2 L418.3,457.0 L419.7,459.5 L421.2,461.8 L422.7,463.7 L424.1,465.3 L425.6,466.7 L427.1,467.9 L428.5,468.9 L430.0,469.7 L431.5,470.4 L432.9,470.9 L434.4,471.4 L435.8,471.7 L437.3,472.0 L438.8,472.3 L440.2,472.5 L441.7,472.6 L443.2,472.8 L444.6,472.9 L446.1,472.9 L447.6,473.0 L449.0,473.1 L450.5,473.1 L452.0,473.1 L453.4,473.2 L454.9,473.2 L456.3,473.2 L457.8,473.2 L459.3,473.2 L460.7,473.2 L462.2,473.2 L463.7,473.2 L465.1,473.2 L466.6,473.3 L468.1,473.3 L469.5,473.3 L471.0,473.3 L472.4,473.3 L473.9,473.3 L475.4,473.3 L476.8,473.3 L478.3,473.3 L479.8,473.3 L481.2,473.3 L482.7,473.3 L484.2,473.3 L485.6,473.3 L487.1,473.3 L488.6,473.3 L490.0,473.3 L491.5,473.3 L492.9,473.3 L494.4,473.3 L495.9,473.3 L497.3,473.3 L498.8,473.3 L500.3,473.3 L501.7,473.3 L503.2,473.3 L504.7,473.3 L506.1,473.3 L507.6,473.3 L509.0,473.3 L510.5,473.3 L512.0,473.3 L513.4,473.3 L514.9,473.3 L516.4,473.3 L517.8,473.3 L519.3,473.3 L520.8,473.3 L522.2,473.3 L523.7,473.3 L525.2,473.3 L526.6,473.3 L528.1,473.3 L529.5,473.3 L531.0,473.3 L532.5,473.3 L533.9,473.3 L535.4,473.3 L536.9,473.4 L538.3,473.4 L539.8,473.4 L541.3,473.4 L542.7,473.5 L544.2,473.5 L545.6,473.6 L547.1,473.7 L548.6,473.8 L550.0,473.9 L551.5,474.0 L553.0,474.1 L554.4,474.2 L555.9,474.4 L557.4,474.5 L558.8,474.6 L560.3,474.7 L561.8,474.8 L563.2,474.8 L564.7,474.9 L566.1,475.0 L567.6,475.0 L569.1,475.1 L570.5,475.1 L572.0,475.1 L573.5,475.1 L574.9,475.1 L576.4,475.2 L577.9,475.2 L579.3,475.2 L580.8,475.2 L582.2,475.2 L583.7,475.2 L585.2,475.2 L586.6,475.2 L588.1,475.2 L589.6,475.2 L591.0,475.2 L592.5,475.2 L594.0,475.2 L595.4,475.2 L596.9,475.2 L598.4,475.2 L599.8,475.2 L601.3,475.2 L602.7,475.2 L604.2,475.2 L605.7,475.2 L607.1,475.2 L608.6,475.2" stroke="#3048d8"/><path d="M96.2,441.6 L97.7,442.1 L99.1,442.6 L100.6,443.1 L102.1,443.5 L103.5,444.0 L105.0,444.5 L106.4,445.0 L107.9,445.5 L109.4,446.0 L110.8,446.5 L112.3,447.0 L113.8,447.5 L115.2,448.0 L116.7,448.5 L118.2,449.0 L119.6,449.4 L121.1,449.9 L122.6,450.3 L124.0,450.7 L125.5,451.0 L126.9,451.3 L128.4,451.6 L129.9,451.8 L131.3,452.0 L132.8,452.1 L134.3,452.2 L135.7,452.1 L137.2,452.0 L138.7,451.9 L140.1,451.7 L141.6,451.4 L143.0,451.0 L144.5,450.6 L146.0,450.1 L147.4,449.6 L148.9,449.0 L150.4,448.3 L151.8,447.5 L153.3,446.7 L154.8,445.8 L156.2,444.9 L157.7,443.9 L159.2,442.8 L160.6,441.7 L162.1,440.6 L163.5,439.4 L165.0,438.1 L166.5,436.9 L167.9,435.6 L169.4,434.3 L170.9,433.0 L172.3,431.7 L173.8,430.4 L175.3,429.1 L176.7,427.8 L178.2,426.6 L179.6,425.3 L181.1,424.1 L182.6,423.0 L184.0,421.8 L185.5,420.7 L187.0,419.7 L188.4,418.7 L189.9,417.7 L191.4,416.8 L192.8,415.9 L194.3,415.0 L195.8,414.2 L197.2,413.4 L198.7,412.7 L200.1,411.9 L201.6,411.2 L203.1,410.5 L204.5,409.9 L206.0,409.2 L207.5,408.6 L208.9,408.0 L210.4,407.3 L211.9,406.7 L213.3,406.1 L214.8,405.5 L216.2,404.9 L217.7,404.4 L219.2,403.7 L220.6,403.1 L222.1,402.5 L223.6,401.9 L225.0,401.2 L226.5,400.5 L228.0,399.8 L229.4,399.1 L230.9,398.4 L232.4,397.6 L233.8,396.8 L235.3,395.9 L236.7,395.1 L238.2,394.2 L239.7,393.2 L241.1,392.2 L242.6,391.2 L244.1,390.1 L245.5,389.0 L247.0,387.8 L248.5,386.6 L249.9,385.3 L251.4,383.9 L252.8,382.5 L254.3,381.0 L255.8,379.4 L257.2,377.8 L258.7,376.1 L260.2,374.3 L261.6,372.4 L263.1,370.4 L264.6,368.4 L266.0,366.2 L267.5,364.0 L269.0,361.7 L270.4,359.3 L271.9,356.7 L273.3,354.1 L274.8,351.4 L276.3,348.7 L277.7,345.8 L279.2,342.8 L280.7,339.7 L282.1,336.6 L283.6,333.3 L285.1,330.0 L286.5,326.6 L288.0,323.1 L289.4,319.5 L290.9,315.9 L292.4,312.2 L293.8,308.5 L295.3,304.7 L296.8,300.9 L298.2,297.1 L299.7,293.2 L301.2,289.3 L302.6,285.4 L304.1,281.5 L305.6,277.6 L307.0,273.8 L308.5,270.0 L309.9,266.2 L311.4,262.4 L312.9,258.8 L314.3,255.2 L315.8,251.7 L317.3,248.3 L318.7,245.0 L320.2,241.8 L321.7,238.8 L323.1,235.8 L324.6,233.1 L326.0,230.5 L327.5,228.0 L329.0,225.8 L330.4,223.7 L331.9,221.8 L333.4,220.1 L334.8,218.6 L336.3,217.3 L337.8,216.3 L339.2,215.4 L340.7,214.8 L342.2,214.4 L343.6,214.2 L345.1,214.3 L346.5,214.8 L348.0,215.7 L349.5,217.0 L350.9,218.8 L352.4,220.9 L353.9,223.5 L355.3,226.4 L356.8,229.7 L358.3,233.3 L359.7,237.2 L361.2,241.5 L362.6,246.1 L364.1,250.9 L365.6,255.9 L367.0,261.2 L368.5,266.7 L370.0,272.4 L371.4,278.3 L372.9,284.2 L374.4,290.2 L375.8,296.3 L377.3,302.3 L378.8,308.3 L380.2,314.3 L381.7,320.4 L383.1,326.4 L384.6,332.4 L386.1,338.4 L387.5,344.4 L389.0,350.4 L390.5,356.4 L391.9,362.4 L393.4,368.4 L394.9,374.3 L396.3,380.2 L397.8,386.1 L399.2,391.9 L400.7,397.6 L402.2,403.3 L403.6,408.9 L405.1,414.4 L406.6,419.7 L408.0,424.9 L409.5,430.0 L411.0,434.8 L412.4,439.3 L413.9,443.6 L415.4,447.5 L416.8,451.2 L418.3,454.5 L419.7,457.4 L421.2,460.0 L422.7,462.3 L424.1,464.2 L425.6,465.8 L427.1,467.2 L428.5,468.4 L430.0,469.3 L431.5,470.1 L432.9,470.7 L434.4,471.2 L435.8,471.6 L437.3,472.0 L438.8,472.2 L440.2,472.5 L441.7,472.6 L443.2,472.8 L444.6,472.9 L446.1,472.9 L447.6,473.0 L449.0,473.1 L450.5,473.1 L452.0,473.1 L453.4,473.2 L454.9,473.2 L456.3,473.2 L457.8,473.2 L459.3,473.2 L460.7,473.2 L462.2,473.2 L463.7,473.2 L465.1,473.3 L466.6,473.3 L468.1,473.3 L469.5,473.3 L471.0,473.3 L472.4,473.3 L473.9,473.3 L475.4,473.3 L476.8,473.3 L478.3,473.3 L479.8,473.3 L481.2,473.3 L482.7,473.3 L484.2,473.3 L485.6,473.3 L487.1,473.3 L488.6,473.3 L490.0,473.3 L491.5,473.3 L492.9,473.3 L494.4,473.3 L495.9,473.3 L497.3,473.3 L498.8,473.3 L500.3,473.3 L501.7,473.3 L503.2,473.3 L504.7,473.3 L506.1,473.3 L507.6,473.3 L509.0,473.3 L510.5,473.3 L512.0,473.3 L513.4,473.3 L514.9,473.3 L516.4,473.3 L517.8,473.3 L519.3,473.3 L520.8,473.3 L522.2,473.3 L523.7,473.3 L525.2,473.3 L526.6,473.3 L528.1,473.3 L529.5,473.3 L531.0,473.3 L532.5,473.3 L533.9,473.3 L535.4,473.3 L536.9,473.4 L538.3,473.4 L539.8,473.4 L541.3,473.4 L542.7,473.5 L544.2,473.5 L545.6,473.6 L547.1,473.7 L548.6,473.8 L550.0,473.9 L551.5,474.0 L553.0,474.1 L554.4,474.2 L555.9,474.4 L557.4,474.5 L558.8,474.6 L560.3,474.7 L561.8,474.8 L563.2,474.8 L564.7,474.9 L566.1,475.0 L567.6,475.0 L569.1,475.1 L570.5,475.1 L572.0,475.1 L573.5,475.1 L574.9,475.1 L576.4,475.2 L577.9,475.2 L579.3,475.2 L580.8,475.2 L582.2,475.2 L583.7,475.2 L585.2,475.2 L586.6,475.2 L588.1,475.2 L589.6,475.2 L591.0,475.2 L592.5,475.2 L594.0,475.2 L595.4,475.2 L596.9,475.2 L598.4,475.2 L599.8,475.2 L601.3,475.2 L602.7,475.2 L604.2,475.2 L605.7,475.2 L607.1,475.2 L608.6,475.2" stroke="#30d070"/><path d="M96.2,427.0 L97.7,427.8 L99.1,428.6 L100.6,429.4 L102.1,430.2 L103.5,431.0 L105.0,431.9 L106.4,432.7 L107.9,433.5 L109.4,434.2 L110.8,435.0 L112.3,435.8 L113.8,436.6 L115.2,437.3 L116.7,438.0 L118.2,438.7 L119.6,439.4 L121.1,440.1 L122.6,440.6 L124.0,441.2 L125.5,441.7 L126.9,442.1 L128.4,442.4 L129.9,442.6 L131.3,442.8 L132.8,442.9 L134.3,442.8 L135.7,442.7 L137.2,442.5 L138.7,442.1 L140.1,441.7 L141.6,441.2 L143.0,440.7 L144.5,440.0 L146.0,439.3 L147.4,438.6 L148.9,437.7 L150.4,436.8 L151.8,435.9 L153.3,434.9 L154.8,433.9 L156.2,432.8 L157.7,431.8 L159.2,430.6 L160.6,429.5 L162.1,428.3 L163.5,427.1 L165.0,425.9 L166.5,424.7 L167.9,423.5 L169.4,422.3 L170.9,421.1 L172.3,419.9 L173.8,418.7 L175.3,417.5 L176.7,416.3 L178.2,415.2 L179.6,414.1 L181.1,413.0 L182.6,411.9 L184.0,410.9 L185.5,409.9 L187.0,408.9 L188.4,408.0 L189.9,407.1 L191.4,406.2 L192.8,405.4 L194.3,404.5 L195.8,403.7 L197.2,402.9 L198.7,402.1 L200.1,401.4 L201.6,400.6 L203.1,399.8 L204.5,399.0 L206.0,398.3 L207.5,397.5 L208.9,396.7 L210.4,395.8 L211.9,395.0 L213.3,394.1 L214.8,393.2 L216.2,392.3 L217.7,391.3 L219.2,390.3 L220.6,389.2 L222.1,388.1 L223.6,386.9 L225.0,385.7 L226.5,384.3 L228.0,383.0 L229.4,381.5 L230.9,380.0 L232.4,378.3 L233.8,376.6 L235.3,374.9 L236.7,373.0 L238.2,371.0 L239.7,369.0 L241.1,366.8 L242.6,364.6 L244.1,362.2 L245.5,359.8 L247.0,357.2 L248.5,354.5 L249.9,351.8 L251.4,348.9 L252.8,345.9 L254.3,342.8 L255.8,339.6 L257.2,336.3 L258.7,332.9 L260.2,329.4 L261.6,325.8 L263.1,322.1 L264.6,318.4 L266.0,314.5 L267.5,310.5 L269.0,306.5 L270.4,302.4 L271.9,298.2 L273.3,294.0 L274.8,289.7 L276.3,285.4 L277.7,281.0 L279.2,276.6 L280.7,272.2 L282.1,267.8 L283.6,263.4 L285.1,259.0 L286.5,254.6 L288.0,250.2 L289.4,245.9 L290.9,241.7 L292.4,237.5 L293.8,233.4 L295.3,229.4 L296.8,225.5 L298.2,221.7 L299.7,218.1 L301.2,214.5 L302.6,211.2 L304.1,207.9 L305.6,204.9 L307.0,202.0 L308.5,199.4 L309.9,196.9 L311.4,194.6 L312.9,192.5 L314.3,190.7 L315.8,189.1 L317.3,187.7 L318.7,186.5 L320.2,185.6 L321.7,184.9 L323.1,184.5 L324.6,184.3 L326.0,184.5 L327.5,185.4 L329.0,186.9 L330.4,189.1 L331.9,191.9 L333.4,195.3 L334.8,199.3 L336.3,203.9 L337.8,209.0 L339.2,214.6 L340.7,220.6 L342.2,227.1 L343.6,233.9 L345.1,241.1 L346.5,248.6 L348.0,256.3 L349.5,264.3 L350.9,272.3 L352.4,280.3 L353.9,288.3 L355.3,296.3 L356.8,304.3 L358.3,312.3 L359.7,320.3 L361.2,328.3 L362.6,336.3 L364.1,344.3 L365.6,352.2 L367.0,360.2 L368.5,368.1 L370.0,375.9 L371.4,383.7 L372.9,391.5 L374.4,399.1 L375.8,406.6 L377.3,413.9 L378.8,421.0 L380.2,427.8 L381.7,434.2 L383.1,440.2 L384.6,445.8 L386.1,450.7 L387.5,455.1 L389.0,458.8 L390.5,461.9 L391.9,464.5 L393.4,466.6 L394.9,468.2 L396.3,469.5 L397.8,470.4 L399.2,471.2 L400.7,471.7 L402.2,472.1 L403.6,472.4 L405.1,472.7 L406.6,472.8 L408.0,473.0 L409.5,473.0 L411.0,473.1 L412.4,473.2 L413.9,473.2 L415.4,473.2 L416.8,473.2 L418.3,473.2 L419.7,473.3 L421.2,473.3 L422.7,473.3 L424.1,473.3 L425.6,473.3 L427.1,473.3 L428.5,473.3 L430.0,473.3 L431.5,473.3 L432.9,473.3 L434.4,473.3 L435.8,473.3 L437.3,473.3 L438.8,473.3 L440.2,473.3 L441.7,473.3 L443.2,473.3 L444.6,473.3 L446.1,473.3 L447.6,473.3 L449.0,473.3 L450.5,473.3 L452.0,473.3 L453.4,473.3 L454.9,473.3 L456.3,473.3 L457.8,473.3 L459.3,473.3 L460.7,473.3 L462.2,473.3 L463.7,473.3 L465.1,473.3 L466.6,473.3 L468.1,473.3 L469.5,473.3 L471.0,473.3 L472.4,473.3 L473.9,473.3 L475.4,473.3 L476.8,473.3 L478.3,473.3 L479.8,473.3 L481.2,473.3 L482.7,473.3 L484.2,473.3 L485.6,473.3 L487.1,473.3 L488.6,473.3 L490.0,473.3 L491.5,473.3 L492.9,473.3 L494.4,473.3 L495.9,473.3 L497.3,473.3 L498.8,473.3 L500.3,473.3 L501.7,473.3 L503.2,473.3 L504.7,473.3 L506.1,473.3 L507.6,473.3 L509.0,473.3 L510.5,473.3 L512.0,473.3 L513.4,473.3 L514.9,473.3 L516.4,473.3 L517.8,473.3 L519.3,473.3 L520.8,473.3 L522.2,473.3 L523.7,473.3 L525.2,473.3 L526.6,473.3 L528.1,473.3 L529.5,473.3 L531.0,473.3 L532.5,473.3 L533.9,473.3 L535.4,473.3 L536.9,473.4 L538.3,473.4 L539.8,473.4 L541.3,473.4 L542.7,473.5 L544.2,473.5 L545.6,473.6 L547.1,473.7 L548.6,473.8 L550.0,473.9 L551.5,474.0 L553.0,474.1 L554.4,474.2 L555.9,474.4 L557.4,474.5 L558.8,474.6 L560.3,474.7 L561.8,474.8 L563.2,474.8 L564.7,474.9 L566.1,475.0 L567.6,475.0 L569.1,475.1 L570.5,475.1 L572.0,475.1 L573.5,475.1 L574.9,475.1 L576.4,475.2 L577.9,475.2 L579.3,475.2 L580.8,475.2 L582.2,475.2 L583.7,475.2 L585.2,475.2 L586.6,475.2 L588.1,475.2 L589.6,475.2 L591.0,475.2 L592.5,475.2 L594.0,475.2 L595.4,475.2 L596.9,475.2 L598.4,475.2 L599.8,475.2 L601.3,475.2 L602.7,475.2 L604.2,475.2 L605.7,475.2 L607.1,475.2 L608.6,475.2" stroke="#e05050"/><path d="M96.2,435.3 L97.7,436.3 L99.1,437.2 L100.6,438.1 L102.1,439.0 L103.5,439.9 L105.0,440.8 L106.4,441.7 L107.9,442.6 L109.4,443.4 L110.8,444.3 L112.3,445.1 L113.8,445.8 L115.2,446.6 L116.7,447.3 L118.2,448.0 L119.6,448.6 L121.1,449.1 L122.6,449.7 L124.0,450.1 L125.5,450.5 L126.9,450.7 L128.4,451.0 L129.9,451.1 L131.3,451.1 L132.8,451.0 L134.3,450.8 L135.7,450.5 L137.2,450.1 L138.7,449.6 L140.1,449.1 L141.6,448.5 L143.0,447.8 L144.5,447.0 L146.0,446.2 L147.4,445.4 L148.9,444.6 L150.4,443.7 L151.8,442.8 L153.3,441.9 L154.8,441.0 L156.2,440.2 L157.7,439.3 L159.2,438.4 L160.6,437.6 L162.1,436.8 L163.5,435.9 L165.0,435.1 L166.5,434.3 L167.9,433.5 L169.4,432.7 L170.9,431.9 L172.3,431.1 L173.8,430.3 L175.3,429.5 L176.7,428.8 L178.2,428.0 L179.6,427.2 L181.1,426.4 L182.6,425.7 L184.0,424.9 L185.5,424.1 L187.0,423.4 L188.4,422.6 L189.9,421.8 L191.4,421.0 L192.8,420.3 L194.3,419.5 L195.8,418.7 L197.2,417.9 L198.7,417.1 L200.1,416.3 L201.6,415.5 L203.1,414.7 L204.5,413.9 L206.0,413.1 L207.5,412.2 L208.9,411.4 L210.4,410.5 L211.9,409.6 L213.3,408.7 L214.8,407.8 L216.2,406.9 L217.7,406.0 L219.2,405.0 L220.6,404.0 L222.1,403.0 L223.6,402.0 L225.0,400.9 L226.5,399.9 L228.0,398.7 L229.4,397.6 L230.9,396.4 L232.4,395.2 L233.8,394.0 L235.3,392.7 L236.7,391.4 L238.2,390.1 L239.7,388.7 L241.1,387.3 L242.6,385.9 L244.1,384.4 L245.5,382.8 L247.0,381.2 L248.5,379.5 L249.9,377.8 L251.4,376.0 L252.8,374.1 L254.3,372.1 L255.8,370.1 L257.2,368.0 L258.7,365.8 L260.2,363.6 L261.6,361.2 L263.1,358.8 L264.6,356.3 L266.0,353.6 L267.5,350.9 L269.0,348.1 L270.4,345.2 L271.9,342.2 L273.3,339.1 L274.8,335.9 L276.3,332.6 L277.7,329.2 L279.2,325.7 L280.7,322.2 L282.1,318.5 L283.6,314.8 L285.1,310.9 L286.5,307.0 L288.0,303.0 L289.4,299.0 L290.9,294.8 L292.4,290.6 L293.8,286.4 L295.3,282.1 L296.8,277.8 L298.2,273.5 L299.7,269.1 L301.2,264.7 L302.6,260.3 L304.1,255.9 L305.6,251.5 L307.0,247.2 L308.5,242.9 L309.9,238.6 L311.4,234.4 L312.9,230.3 L314.3,226.2 L315.8,222.3 L317.3,218.4 L318.7,214.6 L320.2,211.0 L321.7,207.5 L323.1,204.2 L324.6,201.0 L326.0,197.9 L327.5,195.1 L329.0,192.4 L330.4,189.9 L331.9,187.6 L333.4,185.5 L334.8,183.6 L336.3,182.0 L337.8,180.6 L339.2,179.4 L340.7,178.4 L342.2,177.6 L343.6,177.1 L345.1,176.9 L346.5,176.9 L348.0,177.3 L349.5,178.1 L350.9,179.3 L352.4,180.7 L353.9,182.6 L355.3,184.7 L356.8,187.2 L358.3,190.0 L359.7,193.2 L361.2,196.6 L362.6,200.3 L364.1,204.3 L365.6,208.5 L367.0,213.0 L368.5,217.7 L370.0,222.7 L371.4,227.8 L372.9,233.1 L374.4,238.6 L375.8,244.2 L377.3,250.0 L378.8,255.9 L380.2,261.8 L381.7,267.7 L383.1,273.7 L384.6,279.6 L386.1,285.6 L387.5,291.6 L389.0,297.5 L390.5,303.5 L391.9,309.4 L393.4,315.4 L394.9,321.3 L396.3,327.2 L397.8,333.2 L399.2,339.1 L400.7,345.0 L402.2,351.0 L403.6,356.9 L405.1,362.8 L406.6,368.6 L408.0,374.5 L409.5,380.3 L411.0,386.1 L412.4,391.8 L413.9,397.5 L415.4,403.1 L416.8,408.6 L418.3,414.0 L419.7,419.3 L421.2,424.4 L422.7,429.4 L424.1,434.2 L425.6,438.7 L427.1,442.9 L428.5,446.9 L430.0,450.5 L431.5,453.8 L432.9,456.8 L434.4,459.4 L435.8,461.7 L437.3,463.7 L438.8,465.4 L440.2,466.8 L441.7,468.0 L443.2,469.0 L444.6,469.8 L446.1,470.5 L447.6,471.0 L449.0,471.5 L450.5,471.8 L452.0,472.1 L453.4,472.4 L454.9,472.5 L456.3,472.7 L457.8,472.8 L459.3,472.9 L460.7,473.0 L462.2,473.0 L463.7,473.1 L465.1,473.1 L466.6,473.1 L468.1,473.2 L469.5,473.2 L471.0,473.2 L472.4,473.2 L473.9,473.2 L475.4,473.2 L476.8,473.2 L478.3,473.2 L479.8,473.2 L481.2,473.3 L482.7,473.3 L484.2,473.3 L485.6,473.3 L487.1,473.3 L488.6,473.3 L490.0,473.3 L491.5,473.3 L492.9,473.3 L494.4,473.3 L495.9,473.3 L497.3,473.3 L498.8,473.3 L500.3,473.3 L501.7,473.3 L503.2,473.3 L504.7,473.3 L506.1,473.3 L507.6,473.3 L509.0,473.3 L510.5,473.3 L512.0,473.3 L513.4,473.3 L514.9,473.3 L516.4,473.3 L517.8,473.3 L519.3,473.3 L520.8,473.3 L522.2,473.3 L523.7,473.3 L525.2,473.3 L526.6,473.3 L528.1,473.3 L529.5,473.3 L531.0,473.3 L532.5,473.3 L533.9,473.3 L535.4,473.3 L536.9,473.4 L538.3,473.4 L539.8,473.4 L541.3,473.4 L542.7,473.5 L544.2,473.5 L545.6,473.6 L547.1,473.7 L548.6,473.8 L550.0,473.9 L551.5,474.0 L553.0,474.1 L554.4,474.2 L555.9,474.4 L557.4,474.5 L558.8,474.6 L560.3,474.7 L561.8,474.8 L563.2,474.8 L564.7,474.9 L566.1,475.0 L567.6,475.0 L569.1,475.1 L570.5,475.1 L572.0,475.1 L573.5,475.1 L574.9,475.1 L576.4,475.2 L577.9,475.2 L579.3,475.2 L580.8,475.2 L582.2,475.2 L583.7,475.2 L585.2,475.2 L586.6,475.2 L588.1,475.2 L589.6,475.2 L591.0,475.2 L592.5,475.2 L594.0,475.2 L595.4,475.2 L596.9,475.2 L598.4,475.2 L599.8,475.2 L601.3,475.2 L602.7,475.2 L604.2,475.2 L605.7,475.2 L607.1,475.2 L608.6,475.2" stroke="#a050e0"/><path d="M96.2,444.1 L97.7,444.8 L99.1,445.5 L100.6,446.2 L102.1,446.9 L103.5,447.6 L105.0,448.3 L106.4,449.0 L107.9,449.7 L109.4,450.4 L110.8,451.1 L112.3,451.8 L113.8,452.5 L115.2,453.2 L116.7,453.8 L118.2,454.5 L119.6,455.2 L121.1,455.8 L122.6,456.4 L124.0,457.0 L125.5,457.5 L126.9,458.0 L128.4,458.4 L129.9,458.7 L131.3,459.0 L132.8,459.2 L134.3,459.3 L135.7,459.3 L137.2,459.2 L138.7,459.1 L140.1,458.9 L141.6,458.6 L143.0,458.2 L144.5,457.8 L146.0,457.3 L147.4,456.7 L148.9,456.1 L150.4,455.3 L151.8,454.6 L153.3,453.7 L154.8,452.8 L156.2,451.8 L157.7,450.8 L159.2,449.7 L160.6,448.6 L162.1,447.5 L163.5,446.3 L165.0,445.1 L166.5,443.8 L167.9,442.6 L169.4,441.3 L170.9,440.1 L172.3,438.8 L173.8,437.5 L175.3,436.3 L176.7,435.1 L178.2,433.9 L179.6,432.7 L181.1,431.6 L182.6,430.5 L184.0,429.5 L185.5,428.5 L187.0,427.6 L188.4,426.7 L189.9,425.9 L191.4,425.1 L192.8,424.3 L194.3,423.6 L195.8,423.0 L197.2,422.4 L198.7,421.8 L200.1,421.2 L201.6,420.7 L203.1,420.2 L204.5,419.7 L206.0,419.3 L207.5,418.9 L208.9,418.5 L210.4,418.1 L211.9,417.7 L213.3,417.3 L214.8,417.0 L216.2,416.6 L217.7,416.3 L219.2,416.0 L220.6,415.6 L222.1,415.3 L223.6,414.9 L225.0,414.5 L226.5,414.2 L228.0,413.8 L229.4,413.3 L230.9,412.9 L232.4,412.4 L233.8,411.9 L235.3,411.4 L236.7,410.9 L238.2,410.3 L239.7,409.7 L241.1,409.1 L242.6,408.4 L244.1,407.7 L245.5,407.0 L247.0,406.2 L248.5,405.3 L249.9,404.4 L251.4,403.5 L252.8,402.5 L254.3,401.4 L255.8,400.3 L257.2,399.1 L258.7,397.9 L260.2,396.5 L261.6,395.2 L263.1,393.7 L264.6,392.1 L266.0,390.5 L267.5,388.8 L269.0,387.0 L270.4,385.1 L271.9,383.1 L273.3,381.0 L274.8,378.9 L276.3,376.6 L277.7,374.2 L279.2,371.8 L280.7,369.2 L282.1,366.6 L283.6,363.8 L285.1,361.0 L286.5,358.0 L288.0,355.0 L289.4,351.9 L290.9,348.6 L292.4,345.3 L293.8,341.9 L295.3,338.5 L296.8,334.9 L298.2,331.3 L299.7,327.6 L301.2,323.9 L302.6,320.1 L304.1,316.2 L305.6,312.3 L307.0,308.4 L308.5,304.5 L309.9,300.5 L311.4,296.5 L312.9,292.6 L314.3,288.6 L315.8,284.7 L317.3,280.8 L318.7,276.9 L320.2,273.1 L321.7,269.3 L323.1,265.6 L324.6,262.0 L326.0,258.5 L327.5,255.1 L329.0,251.8 L330.4,248.7 L331.9,245.6 L333.4,242.7 L334.8,240.0 L336.3,237.4 L337.8,235.0 L339.2,232.8 L340.7,230.7 L342.2,228.9 L343.6,227.2 L345.1,225.8 L346.5,224.6 L348.0,223.5 L349.5,222.7 L350.9,222.1 L352.4,221.8 L353.9,221.6 L355.3,221.7 L356.8,222.1 L358.3,222.8 L359.7,223.9 L361.2,225.4 L362.6,227.2 L364.1,229.3 L365.6,231.7 L367.0,234.5 L368.5,237.5 L370.0,240.8 L371.4,244.4 L372.9,248.3 L374.4,252.3 L375.8,256.7 L377.3,261.2 L378.8,265.9 L380.2,270.8 L381.7,275.9 L383.1,281.0 L384.6,286.4 L386.1,291.7 L387.5,297.2 L389.0,302.6 L390.5,308.0 L391.9,313.4 L393.4,318.8 L394.9,324.3 L396.3,329.7 L397.8,335.1 L399.2,340.5 L400.7,345.9 L402.2,351.3 L403.6,356.7 L405.1,362.1 L406.6,367.4 L408.0,372.8 L409.5,378.1 L411.0,383.4 L412.4,388.6 L413.9,393.8 L415.4,399.0 L416.8,404.1 L418.3,409.1 L419.7,414.1 L421.2,418.9 L422.7,423.6 L424.1,428.2 L425.6,432.6 L427.1,436.8 L428.5,440.8 L430.0,444.5 L431.5,448.0 L432.9,451.3 L434.4,454.2 L435.8,456.9 L437.3,459.3 L438.8,461.4 L440.2,463.3 L441.7,464.9 L443.2,466.3 L444.6,467.5 L446.1,468.5 L447.6,469.3 L449.0,470.0 L450.5,470.6 L452.0,471.1 L453.4,471.5 L454.9,471.8 L456.3,472.1 L457.8,472.3 L459.3,472.5 L460.7,472.6 L462.2,472.8 L463.7,472.8 L465.1,472.9 L466.6,473.0 L468.1,473.0 L469.5,473.1 L471.0,473.1 L472.4,473.1 L473.9,473.2 L475.4,473.2 L476.8,473.2 L478.3,473.2 L479.8,473.2 L481.2,473.2 L482.7,473.2 L484.2,473.2 L485.6,473.2 L487.1,473.3 L488.6,473.3 L490.0,473.3 L491.5,473.3 L492.9,473.3 L494.4,473.3 L495.9,473.3 L497.3,473.3 L498.8,473.3 L500.3,473.3 L501.7,473.3 L503.2,473.3 L504.7,473.3 L506.1,473.3 L507.6,473.3 L509.0,473.3 L510.5,473.3 L512.0,473.3 L513.4,473.3 L514.9,473.3 L516.4,473.3 L517.8,473.3 L519.3,473.3 L520.8,473.3 L522.2,473.3 L523.7,473.3 L525.2,473.3 L526.6,473.3 L528.1,473.3 L529.5,473.3 L531.0,473.3 L532.5,473.3 L533.9,473.3 L535.4,473.3 L536.9,473.4 L538.3,473.4 L539.8,473.4 L541.3,473.4 L542.7,473.5 L544.2,473.5 L545.6,473.6 L547.1,473.7 L548.6,473.8 L550.0,473.9 L551.5,474.0 L553.0,474.1 L554.4,474.2 L555.9,474.4 L557.4,474.5 L558.8,474.6 L560.3,474.7 L561.8,474.8 L563.2,474.8 L564.7,474.9 L566.1,475.0 L567.6,475.0 L569.1,475.1 L570.5,475.1 L572.0,475.1 L573.5,475.1 L574.9,475.1 L576.4,475.2 L577.9,475.2 L579.3,475.2 L580.8,475.2 L582.2,475.2 L583.7,475.2 L585.2,475.2 L586.6,475.2 L588.1,475.2 L589.6,475.2 L591.0,475.2 L592.5,475.2 L594.0,475.2 L595.4,475.2 L596.9,475.2 L598.4,475.2 L599.8,475.2 L601.3,475.2 L602.7,475.2 L604.2,475.2 L605.7,475.2 L607.1,475.2 L608.6,475.2" stroke="#38a8e0"/><path d="M96.2,442.9 L97.7,443.9 L99.1,444.9 L100.6,445.9 L102.1,446.8 L103.5,447.8 L105.0,448.7 L106.4,449.7 L107.9,450.6 L109.4,451.5 L110.8,452.4 L112.3,453.2 L113.8,454.0 L115.2,454.8 L116.7,455.6 L118.2,456.3 L119.6,457.0 L121.1,457.6 L122.6,458.1 L124.0,458.6 L125.5,459.0 L126.9,459.3 L128.4,459.5 L129.9,459.6 L131.3,459.6 L132.8,459.5 L134.3,459.3 L135.7,458.9 L137.2,458.5 L138.7,458.0 L140.1,457.4 L141.6,456.7 L143.0,455.9 L144.5,455.1 L146.0,454.2 L147.4,453.3 L148.9,452.3 L150.4,451.3 L151.8,450.3 L153.3,449.3 L154.8,448.2 L156.2,447.2 L157.7,446.2 L159.2,445.1 L160.6,444.1 L162.1,443.1 L163.5,442.1 L165.0,441.2 L166.5,440.2 L167.9,439.2 L169.4,438.3 L170.9,437.4 L172.3,436.5 L173.8,435.6 L175.3,434.7 L176.7,433.9 L178.2,433.0 L179.6,432.2 L181.1,431.4 L182.6,430.7 L184.0,430.0 L185.5,429.3 L187.0,428.6 L188.4,428.0 L189.9,427.3 L191.4,426.7 L192.8,426.2 L194.3,425.6 L195.8,425.1 L197.2,424.5 L198.7,424.0 L200.1,423.6 L201.6,423.1 L203.1,422.6 L204.5,422.2 L206.0,421.8 L207.5,421.3 L208.9,420.9 L210.4,420.5 L211.9,420.1 L213.3,419.7 L214.8,419.3 L216.2,418.9 L217.7,418.4 L219.2,418.0 L220.6,417.6 L222.1,417.1 L223.6,416.7 L225.0,416.2 L226.5,415.7 L228.0,415.2 L229.4,414.7 L230.9,414.1 L232.4,413.5 L233.8,412.9 L235.3,412.3 L236.7,411.6 L238.2,410.9 L239.7,410.2 L241.1,409.4 L242.6,408.6 L244.1,407.8 L245.5,406.9 L247.0,405.9 L248.5,404.9 L249.9,403.8 L251.4,402.7 L252.8,401.5 L254.3,400.2 L255.8,398.9 L257.2,397.4 L258.7,396.0 L260.2,394.4 L261.6,392.7 L263.1,391.0 L264.6,389.1 L266.0,387.2 L267.5,385.2 L269.0,383.1 L270.4,380.9 L271.9,378.6 L273.3,376.2 L274.8,373.7 L276.3,371.1 L277.7,368.5 L279.2,365.7 L280.7,362.8 L282.1,359.9 L283.6,356.8 L285.1,353.7 L286.5,350.5 L288.0,347.2 L289.4,343.9 L290.9,340.5 L292.4,337.0 L293.8,333.5 L295.3,329.9 L296.8,326.4 L298.2,322.8 L299.7,319.1 L301.2,315.5 L302.6,311.9 L304.1,308.3 L305.6,304.8 L307.0,301.2 L308.5,297.8 L309.9,294.3 L311.4,291.0 L312.9,287.8 L314.3,284.6 L315.8,281.6 L317.3,278.7 L318.7,275.9 L320.2,273.3 L321.7,270.8 L323.1,268.5 L324.6,266.3 L326.0,264.3 L327.5,262.6 L329.0,261.0 L330.4,259.6 L331.9,258.5 L333.4,257.5 L334.8,256.8 L336.3,256.3 L337.8,256.0 L339.2,255.9 L340.7,256.2 L342.2,256.8 L343.6,257.9 L345.1,259.3 L346.5,261.0 L348.0,263.1 L349.5,265.6 L350.9,268.4 L352.4,271.5 L353.9,275.0 L355.3,278.7 L356.8,282.6 L358.3,286.9 L359.7,291.3 L361.2,296.0 L362.6,300.8 L364.1,305.8 L365.6,310.9 L367.0,316.1 L368.5,321.4 L370.0,326.6 L371.4,331.9 L372.9,337.1 L374.4,342.4 L375.8,347.6 L377.3,352.9 L378.8,358.1 L380.2,363.3 L381.7,368.5 L383.1,373.7 L384.6,378.9 L386.1,384.0 L387.5,389.1 L389.0,394.2 L390.5,399.2 L391.9,404.1 L393.4,409.0 L394.9,413.8 L396.3,418.5 L397.8,423.1 L399.2,427.6 L400.7,431.9 L402.2,436.0 L403.6,439.9 L405.1,443.6 L406.6,447.1 L408.0,450.4 L409.5,453.3 L411.0,456.0 L412.4,458.5 L413.9,460.6 L415.4,462.5 L416.8,464.2 L418.3,465.7 L419.7,466.9 L421.2,468.0 L422.7,468.9 L424.1,469.6 L425.6,470.3 L427.1,470.8 L428.5,471.2 L430.0,471.6 L431.5,471.9 L432.9,472.1 L434.4,472.4 L435.8,472.5 L437.3,472.7 L438.8,472.8 L440.2,472.9 L441.7,472.9 L443.2,473.0 L444.6,473.0 L446.1,473.1 L447.6,473.1 L449.0,473.1 L450.5,473.2 L452.0,473.2 L453.4,473.2 L454.9,473.2 L456.3,473.2 L457.8,473.2 L459.3,473.2 L460.7,473.2 L462.2,473.2 L463.7,473.3 L465.1,473.3 L466.6,473.3 L468.1,473.3 L469.5,473.3 L471.0,473.3 L472.4,473.3 L473.9,473.3 L475.4,473.3 L476.8,473.3 L478.3,473.3 L479.8,473.3 L481.2,473.3 L482.7,473.3 L484.2,473.3 L485.6,473.3 L487.1,473.3 L488.6,473.3 L490.0,473.3 L491.5,473.3 L492.9,473.3 L494.4,473.3 L495.9,473.3 L497.3,473.3 L498.8,473.3 L500.3,473.3 L501.7,473.3 L503.2,473.3 L504.7,473.3 L506.1,473.3 L507.6,473.3 L509.0,473.3 L510.5,473.3 L512.0,473.3 L513.4,473.3 L514.9,473.3 L516.4,473.3 L517.8,473.3 L519.3,473.3 L520.8,473.3 L522.2,473.3 L523.7,473.3 L525.2,473.3 L526.6,473.3 L528.1,473.3 L529.5,473.3 L531.0,473.3 L532.5,473.3 L533.9,473.3 L535.4,473.3 L536.9,473.4 L538.3,473.4 L539.8,473.4 L541.3,473.4 L542.7,473.5 L544.2,473.5 L545.6,473.6 L547.1,473.7 L548.6,473.8 L550.0,473.9 L551.5,474.0 L553.0,474.1 L554.4,474.2 L555.9,474.4 L557.4,474.5 L558.8,474.6 L560.3,474.7 L561.8,474.8 L563.2,474.8 L564.7,474.9 L566.1,475.0 L567.6,475.0 L569.1,475.1 L570.5,475.1 L572.0,475.1 L573.5,475.1 L574.9,475.1 L576.4,475.2 L577.9,475.2 L579.3,475.2 L580.8,475.2 L582.2,475.2 L583.7,475.2 L585.2,475.2 L586.6,475.2 L588.1,475.2 L589.6,475.2 L591.0,475.2 L592.5,475.2 L594.0,475.2 L595.4,475.2 L596.9,475.2 L598.4,475.2 L599.8,475.2 L601.3,475.2 L602.7,475.2 L604.2,475.2 L605.7,475.2 L607.1,475.2 L608.6,475.2" stroke="#c050d0"/><path d="M96.2,447.8 L97.7,448.1 L99.1,448.3 L100.6,448.6 L102.1,448.9 L103.5,449.2 L105.0,449.5 L106.4,449.8 L107.9,450.1 L109.4,450.5 L110.8,450.9 L112.3,451.3 L113.8,451.8 L115.2,452.2 L116.7,452.7 L118.2,453.3 L119.6,453.8 L121.1,454.3 L122.6,454.9 L124.0,455.4 L125.5,455.9 L126.9,456.3 L128.4,456.7 L129.9,457.1 L131.3,457.4 L132.8,457.7 L134.3,457.9 L135.7,458.0 L137.2,458.0 L138.7,458.0 L140.1,457.9 L141.6,457.8 L143.0,457.5 L144.5,457.2 L146.0,456.8 L147.4,456.4 L148.9,455.8 L150.4,455.2 L151.8,454.6 L153.3,453.8 L154.8,453.0 L156.2,452.1 L157.7,451.1 L159.2,450.1 L160.6,449.0 L162.1,447.9 L163.5,446.7 L165.0,445.5 L166.5,444.3 L167.9,443.0 L169.4,441.8 L170.9,440.5 L172.3,439.2 L173.8,437.9 L175.3,436.6 L176.7,435.3 L178.2,434.0 L179.6,432.8 L181.1,431.5 L182.6,430.4 L184.0,429.2 L185.5,428.1 L187.0,427.1 L188.4,426.1 L189.9,425.1 L191.4,424.2 L192.8,423.3 L194.3,422.4 L195.8,421.6 L197.2,420.8 L198.7,420.1 L200.1,419.4 L201.6,418.7 L203.1,418.0 L204.5,417.4 L206.0,416.7 L207.5,416.1 L208.9,415.5 L210.4,414.9 L211.9,414.4 L213.3,413.8 L214.8,413.2 L216.2,412.7 L217.7,412.1 L219.2,411.6 L220.6,411.0 L222.1,410.4 L223.6,409.8 L225.0,409.2 L226.5,408.6 L228.0,408.0 L229.4,407.3 L230.9,406.6 L232.4,405.9 L233.8,405.2 L235.3,404.4 L236.7,403.6 L238.2,402.8 L239.7,401.9 L241.1,401.0 L242.6,400.1 L244.1,399.1 L245.5,398.0 L247.0,396.9 L248.5,395.8 L249.9,394.6 L251.4,393.3 L252.8,392.0 L254.3,390.6 L255.8,389.2 L257.2,387.7 L258.7,386.1 L260.2,384.4 L261.6,382.7 L263.1,380.9 L264.6,379.0 L266.0,377.0 L267.5,374.9 L269.0,372.8 L270.4,370.6 L271.9,368.3 L273.3,366.0 L274.8,363.5 L276.3,361.0 L277.7,358.5 L279.2,355.8 L280.7,353.1 L282.1,350.3 L283.6,347.5 L285.1,344.7 L286.5,341.8 L288.0,338.8 L289.4,335.9 L290.9,332.9 L292.4,329.9 L293.8,326.9 L295.3,323.9 L296.8,321.0 L298.2,318.0 L299.7,315.1 L301.2,312.3 L302.6,309.5 L304.1,306.7 L305.6,304.1 L307.0,301.5 L308.5,299.0 L309.9,296.6 L311.4,294.4 L312.9,292.2 L314.3,290.2 L315.8,288.4 L317.3,286.7 L318.7,285.1 L320.2,283.7 L321.7,282.5 L323.1,281.5 L324.6,280.6 L326.0,279.9 L327.5,279.5 L329.0,279.1 L330.4,279.0 L331.9,279.2 L333.4,279.7 L334.8,280.6 L336.3,281.8 L337.8,283.4 L339.2,285.2 L340.7,287.4 L342.2,289.9 L343.6,292.6 L345.1,295.7 L346.5,298.9 L348.0,302.5 L349.5,306.2 L350.9,310.2 L352.4,314.3 L353.9,318.6 L355.3,323.1 L356.8,327.6 L358.3,332.2 L359.7,336.9 L361.2,341.6 L362.6,346.3 L364.1,350.9 L365.6,355.6 L367.0,360.3 L368.5,364.9 L370.0,369.6 L371.4,374.2 L372.9,378.8 L374.4,383.4 L375.8,388.0 L377.3,392.5 L378.8,397.0 L380.2,401.5 L381.7,405.9 L383.1,410.2 L384.6,414.5 L386.1,418.7 L387.5,422.8 L389.0,426.8 L390.5,430.7 L391.9,434.4 L393.4,438.0 L394.9,441.5 L396.3,444.7 L397.8,447.8 L399.2,450.6 L400.7,453.3 L402.2,455.7 L403.6,457.9 L405.1,459.9 L406.6,461.7 L408.0,463.3 L409.5,464.7 L411.0,466.0 L412.4,467.1 L413.9,468.0 L415.4,468.8 L416.8,469.5 L418.3,470.1 L419.7,470.6 L421.2,471.0 L422.7,471.4 L424.1,471.7 L425.6,471.9 L427.1,472.2 L428.5,472.3 L430.0,472.5 L431.5,472.6 L432.9,472.7 L434.4,472.8 L435.8,472.9 L437.3,473.0 L438.8,473.0 L440.2,473.1 L441.7,473.1 L443.2,473.1 L444.6,473.1 L446.1,473.2 L447.6,473.2 L449.0,473.2 L450.5,473.2 L452.0,473.2 L453.4,473.2 L454.9,473.2 L456.3,473.2 L457.8,473.2 L459.3,473.2 L460.7,473.2 L462.2,473.3 L463.7,473.3 L465.1,473.3 L466.6,473.3 L468.1,473.3 L469.5,473.3 L471.0,473.3 L472.4,473.3 L473.9,473.3 L475.4,473.3 L476.8,473.3 L478.3,473.3 L479.8,473.3 L481.2,473.3 L482.7,473.3 L484.2,473.3 L485.6,473.3 L487.1,473.3 L488.6,473.3 L490.0,473.3 L491.5,473.3 L492.9,473.3 L494.4,473.3 L495.9,473.3 L497.3,473.3 L498.8,473.3 L500.3,473.3 L501.7,473.3 L503.2,473.3 L504.7,473.3 L506.1,473.3 L507.6,473.3 L509.0,473.3 L510.5,473.3 L512.0,473.3 L513.4,473.3 L514.9,473.3 L516.4,473.3 L517.8,473.3 L519.3,473.3 L520.8,473.3 L522.2,473.3 L523.7,473.3 L525.2,473.3 L526.6,473.3 L528.1,473.3 L529.5,473.3 L531.0,473.3 L532.5,473.3 L533.9,473.3 L535.4,473.3 L536.9,473.4 L538.3,473.4 L539.8,473.4 L541.3,473.4 L542.7,473.5 L544.2,473.5 L545.6,473.6 L547.1,473.7 L548.6,473.8 L550.0,473.9 L551.5,474.0 L553.0,474.1 L554.4,474.2 L555.9,474.4 L557.4,474.5 L558.8,474.6 L560.3,474.7 L561.8,474.8 L563.2,474.8 L564.7,474.9 L566.1,475.0 L567.6,475.0 L569.1,475.1 L570.5,475.1 L572.0,475.1 L573.5,475.1 L574.9,475.1 L576.4,475.2 L577.9,475.2 L579.3,475.2 L580.8,475.2 L582.2,475.2 L583.7,475.2 L585.2,475.2 L586.6,475.2 L588.1,475.2 L589.6,475.2 L591.0,475.2 L592.5,475.2 L594.0,475.2 L595.4,475.2 L596.9,475.2 L598.4,475.2 L599.8,475.2 L601.3,475.2 L602.7,475.2 L604.2,475.2 L605.7,475.2 L607.1,475.2 L608.6,475.2" stroke="#8050d0"/><path d="M96.2,455.0 L97.7,455.5 L99.1,456.0 L100.6,456.4 L102.1,456.9 L103.5,457.4 L105.0,457.9 L106.4,458.4 L107.9,458.9 L109.4,459.5 L110.8,460.0 L112.3,460.6 L113.8,461.2 L115.2,461.8 L116.7,462.4 L118.2,463.1 L119.6,463.7 L121.1,464.3 L122.6,464.9 L124.0,465.5 L125.5,466.0 L126.9,466.5 L128.4,467.0 L129.9,467.4 L131.3,467.7 L132.8,467.9 L134.3,468.0 L135.7,468.1 L137.2,468.1 L138.7,468.0 L140.1,467.8 L141.6,467.5 L143.0,467.2 L144.5,466.8 L146.0,466.3 L147.4,465.7 L148.9,465.1 L150.4,464.4 L151.8,463.6 L153.3,462.8 L154.8,461.8 L156.2,460.9 L157.7,459.8 L159.2,458.7 L160.6,457.6 L162.1,456.4 L163.5,455.2 L165.0,454.0 L166.5,452.7 L167.9,451.4 L169.4,450.1 L170.9,448.8 L172.3,447.5 L173.8,446.3 L175.3,445.0 L176.7,443.7 L178.2,442.5 L179.6,441.3 L181.1,440.2 L182.6,439.0 L184.0,438.0 L185.5,437.0 L187.0,436.0 L188.4,435.1 L189.9,434.3 L191.4,433.5 L192.8,432.7 L194.3,432.0 L195.8,431.3 L197.2,430.7 L198.7,430.1 L200.1,429.5 L201.6,429.0 L203.1,428.5 L204.5,428.1 L206.0,427.6 L207.5,427.2 L208.9,426.8 L210.4,426.5 L211.9,426.1 L213.3,425.8 L214.8,425.5 L216.2,425.2 L217.7,424.9 L219.2,424.7 L220.6,424.4 L222.1,424.1 L223.6,423.8 L225.0,423.6 L226.5,423.3 L228.0,423.0 L229.4,422.7 L230.9,422.4 L232.4,422.1 L233.8,421.7 L235.3,421.4 L236.7,421.0 L238.2,420.6 L239.7,420.2 L241.1,419.8 L242.6,419.3 L244.1,418.8 L245.5,418.3 L247.0,417.7 L248.5,417.1 L249.9,416.5 L251.4,415.8 L252.8,415.1 L254.3,414.3 L255.8,413.4 L257.2,412.5 L258.7,411.6 L260.2,410.5 L261.6,409.4 L263.1,408.3 L264.6,407.0 L266.0,405.7 L267.5,404.3 L269.0,402.8 L270.4,401.2 L271.9,399.5 L273.3,397.8 L274.8,395.9 L276.3,394.0 L277.7,391.9 L279.2,389.8 L280.7,387.6 L282.1,385.2 L283.6,382.8 L285.1,380.3 L286.5,377.8 L288.0,375.1 L289.4,372.4 L290.9,369.6 L292.4,366.7 L293.8,363.8 L295.3,360.8 L296.8,357.8 L298.2,354.7 L299.7,351.7 L301.2,348.6 L302.6,345.5 L304.1,342.5 L305.6,339.5 L307.0,336.5 L308.5,333.5 L309.9,330.6 L311.4,327.8 L312.9,325.1 L314.3,322.5 L315.8,320.0 L317.3,317.6 L318.7,315.4 L320.2,313.3 L321.7,311.4 L323.1,309.6 L324.6,308.0 L326.0,306.6 L327.5,305.4 L329.0,304.4 L330.4,303.7 L331.9,303.1 L333.4,302.7 L334.8,302.5 L336.3,302.6 L337.8,303.1 L339.2,303.9 L340.7,305.2 L342.2,306.8 L343.6,308.8 L345.1,311.2 L346.5,313.8 L348.0,316.8 L349.5,320.1 L350.9,323.7 L352.4,327.5 L353.9,331.5 L355.3,335.8 L356.8,340.2 L358.3,344.8 L359.7,349.2 L361.2,353.9 L362.6,358.6 L364.1,363.3 L365.6,368.0 L367.0,372.6 L368.5,377.3 L370.0,381.9 L371.4,386.5 L372.9,391.0 L374.4,395.6 L375.8,400.1 L377.3,404.5 L378.8,408.9 L380.2,413.2 L381.7,417.5 L383.1,421.6 L384.6,425.7 L386.1,429.6 L387.5,433.4 L389.0,437.1 L390.5,440.6 L391.9,443.9 L393.4,447.0 L394.9,449.9 L396.3,452.7 L397.8,455.2 L399.2,457.4 L400.7,459.5 L402.2,461.4 L403.6,463.0 L405.1,464.5 L406.6,465.8 L408.0,466.9 L409.5,467.8 L411.0,468.7 L412.4,469.4 L413.9,470.0 L415.4,470.5 L416.8,471.0 L418.3,471.3 L419.7,471.7 L421.2,471.9 L422.7,472.1 L424.1,472.3 L425.6,472.5 L427.1,472.6 L428.5,472.7 L430.0,472.8 L431.5,472.9 L432.9,473.0 L434.4,473.0 L435.8,473.1 L437.3,473.1 L438.8,473.1 L440.2,473.1 L441.7,473.2 L443.2,473.2 L444.6,473.2 L446.1,473.2 L447.6,473.2 L449.0,473.2 L450.5,473.2 L452.0,473.2 L453.4,473.2 L454.9,473.2 L456.3,473.3 L457.8,473.3 L459.3,473.3 L460.7,473.3 L462.2,473.3 L463.7,473.3 L465.1,473.3 L466.6,473.3 L468.1,473.3 L469.5,473.3 L471.0,473.3 L472.4,473.3 L473.9,473.3 L475.4,473.3 L476.8,473.3 L478.3,473.3 L479.8,473.3 L481.2,473.3 L482.7,473.3 L484.2,473.3 L485.6,473.3 L487.1,473.3 L488.6,473.3 L490.0,473.3 L491.5,473.3 L492.9,473.3 L494.4,473.3 L495.9,473.3 L497.3,473.3 L498.8,473.3 L500.3,473.3 L501.7,473.3 L503.2,473.3 L504.7,473.3 L506.1,473.3 L507.6,473.3 L509.0,473.3 L510.5,473.3 L512.0,473.3 L513.4,473.3 L514.9,473.3 L516.4,473.3 L517.8,473.3 L519.3,473.3 L520.8,473.3 L522.2,473.3 L523.7,473.3 L525.2,473.3 L526.6,473.3 L528.1,473.3 L529.5,473.3 L531.0,473.3 L532.5,473.3 L533.9,473.3 L535.4,473.3 L536.9,473.4 L538.3,473.4 L539.8,473.4 L541.3,473.4 L542.7,473.5 L544.2,473.5 L545.6,473.6 L547.1,473.7 L548.6,473.8 L550.0,473.9 L551.5,474.0 L553.0,474.1 L554.4,474.2 L555.9,474.4 L557.4,474.5 L558.8,474.6 L560.3,474.7 L561.8,474.8 L563.2,474.8 L564.7,474.9 L566.1,475.0 L567.6,475.0 L569.1,475.1 L570.5,475.1 L572.0,475.1 L573.5,475.1 L574.9,475.1 L576.4,475.2 L577.9,475.2 L579.3,475.2 L580.8,475.2 L582.2,475.2 L583.7,475.2 L585.2,475.2 L586.6,475.2 L588.1,475.2 L589.6,475.2 L591.0,475.2 L592.5,475.2 L594.0,475.2 L595.4,475.2 L596.9,475.2 L598.4,475.2 L599.8,475.2 L601.3,475.2 L602.7,475.2 L604.2,475.2 L605.7,475.2 L607.1,475.2 L608.6,475.2" stroke="#80d040"/><path d="M96.2,454.3 L97.7,455.3 L99.1,456.2 L100.6,457.2 L102.1,458.1 L103.5,459.0 L105.0,459.9 L106.4,460.7 L107.9,461.5 L109.4,462.3 L110.8,463.0 L112.3,463.7 L113.8,464.3 L115.2,464.9 L116.7,465.4 L118.2,465.8 L119.6,466.2 L121.1,466.5 L122.6,466.8 L124.0,467.0 L125.5,467.1 L126.9,467.2 L128.4,467.2 L129.9,467.2 L131.3,467.1 L132.8,466.9 L134.3,466.7 L135.7,466.4 L137.2,466.1 L138.7,465.8 L140.1,465.3 L141.6,464.9 L143.0,464.4 L144.5,463.9 L146.0,463.3 L147.4,462.8 L148.9,462.2 L150.4,461.6 L151.8,461.0 L153.3,460.3 L154.8,459.7 L156.2,459.0 L157.7,458.4 L159.2,457.7 L160.6,457.1 L162.1,456.4 L163.5,455.8 L165.0,455.1 L166.5,454.5 L167.9,453.9 L169.4,453.2 L170.9,452.6 L172.3,451.9 L173.8,451.3 L175.3,450.6 L176.7,450.0 L178.2,449.4 L179.6,448.8 L181.1,448.1 L182.6,447.5 L184.0,446.9 L185.5,446.3 L187.0,445.7 L188.4,445.1 L189.9,444.6 L191.4,444.0 L192.8,443.4 L194.3,442.9 L195.8,442.3 L197.2,441.7 L198.7,441.2 L200.1,440.7 L201.6,440.1 L203.1,439.6 L204.5,439.0 L206.0,438.5 L207.5,438.0 L208.9,437.4 L210.4,436.9 L211.9,436.4 L213.3,435.9 L214.8,435.4 L216.2,434.8 L217.7,434.3 L219.2,433.8 L220.6,433.3 L222.1,432.7 L223.6,432.2 L225.0,431.7 L226.5,431.1 L228.0,430.6 L229.4,430.0 L230.9,429.5 L232.4,428.9 L233.8,428.4 L235.3,427.9 L236.7,427.3 L238.2,426.7 L239.7,426.2 L241.1,425.6 L242.6,425.0 L244.1,424.4 L245.5,423.8 L247.0,423.2 L248.5,422.5 L249.9,421.8 L251.4,421.1 L252.8,420.3 L254.3,419.5 L255.8,418.7 L257.2,417.8 L258.7,416.9 L260.2,415.9 L261.6,414.9 L263.1,413.8 L264.6,412.7 L266.0,411.4 L267.5,410.1 L269.0,408.7 L270.4,407.3 L271.9,405.7 L273.3,404.1 L274.8,402.4 L276.3,400.6 L277.7,398.6 L279.2,396.6 L280.7,394.5 L282.1,392.3 L283.6,390.0 L285.1,387.6 L286.5,385.1 L288.0,382.5 L289.4,379.8 L290.9,377.1 L292.4,374.2 L293.8,371.3 L295.3,368.3 L296.8,365.3 L298.2,362.3 L299.7,359.2 L301.2,356.0 L302.6,352.9 L304.1,349.8 L305.6,346.7 L307.0,343.6 L308.5,340.6 L309.9,337.6 L311.4,334.7 L312.9,331.9 L314.3,329.2 L315.8,326.6 L317.3,324.2 L318.7,321.9 L320.2,319.8 L321.7,317.8 L323.1,316.0 L324.6,314.5 L326.0,313.1 L327.5,312.0 L329.0,311.0 L330.4,310.3 L331.9,309.9 L333.4,309.6 L334.8,309.7 L336.3,310.2 L337.8,311.1 L339.2,312.5 L340.7,314.2 L342.2,316.3 L343.6,318.7 L345.1,321.6 L346.5,324.7 L348.0,328.1 L349.5,331.9 L350.9,335.8 L352.4,340.0 L353.9,344.4 L355.3,349.0 L356.8,353.7 L358.3,358.1 L359.7,362.9 L361.2,367.5 L362.6,372.2 L364.1,376.9 L365.6,381.5 L367.0,386.2 L368.5,390.7 L370.0,395.3 L371.4,399.8 L372.9,404.3 L374.4,408.7 L375.8,413.0 L377.3,417.3 L378.8,421.4 L380.2,425.5 L381.7,429.4 L383.1,433.2 L384.6,436.8 L386.1,440.3 L387.5,443.5 L389.0,446.6 L390.5,449.5 L391.9,452.1 L393.4,454.5 L394.9,456.6 L396.3,458.5 L397.8,460.2 L399.2,461.7 L400.7,462.9 L402.2,464.0 L403.6,464.9 L405.1,465.5 L406.6,466.1 L408.0,466.4 L409.5,466.7 L411.0,466.8 L412.4,466.8 L413.9,466.7 L415.4,466.5 L416.8,466.3 L418.3,465.9 L419.7,465.5 L421.2,465.1 L422.7,464.6 L424.1,464.0 L425.6,463.5 L427.1,462.8 L428.5,462.2 L430.0,461.5 L431.5,460.9 L432.9,460.2 L434.4,459.5 L435.8,458.8 L437.3,458.1 L438.8,457.5 L440.2,456.9 L441.7,456.3 L443.2,455.7 L444.6,455.2 L446.1,454.7 L447.6,454.3 L449.0,454.0 L450.5,453.7 L452.0,453.4 L453.4,453.3 L454.9,453.2 L456.3,453.1 L457.8,453.2 L459.3,453.3 L460.7,453.4 L462.2,453.7 L463.7,454.0 L465.1,454.3 L466.6,454.8 L468.1,455.2 L469.5,455.8 L471.0,456.3 L472.4,456.9 L473.9,457.6 L475.4,458.2 L476.8,458.9 L478.3,459.6 L479.8,460.3 L481.2,461.0 L482.7,461.8 L484.2,462.5 L485.6,463.2 L487.1,463.9 L488.6,464.5 L490.0,465.2 L491.5,465.8 L492.9,466.4 L494.4,467.0 L495.9,467.6 L497.3,468.1 L498.8,468.6 L500.3,469.0 L501.7,469.4 L503.2,469.8 L504.7,470.2 L506.1,470.5 L507.6,470.8 L509.0,471.1 L510.5,471.4 L512.0,471.6 L513.4,471.8 L514.9,472.0 L516.4,472.2 L517.8,472.3 L519.3,472.4 L520.8,472.6 L522.2,472.7 L523.7,472.7 L525.2,472.8 L526.6,472.9 L528.1,472.9 L529.5,473.0 L531.0,473.0 L532.5,473.1 L533.9,473.1 L535.4,473.1 L536.9,473.2 L538.3,473.2 L539.8,473.2 L541.3,473.2 L542.7,473.2 L544.2,473.2 L545.6,473.2 L547.1,473.2 L548.6,473.2 L550.0,473.2 L551.5,473.2 L553.0,473.3 L554.4,473.3 L555.9,473.3 L557.4,473.3 L558.8,473.3 L560.3,473.3 L561.8,473.3 L563.2,473.3 L564.7,473.3 L566.1,473.3 L567.6,473.3 L569.1,473.3 L570.5,473.3 L572.0,473.3 L573.5,473.4 L574.9,473.4 L576.4,473.4 L577.9,473.4 L579.3,473.5 L580.8,473.5 L582.2,473.6 L583.7,473.7 L585.2,473.8 L586.6,473.9 L588.1,474.0 L589.6,474.1 L591.0,474.2 L592.5,474.4 L594.0,474.5 L595.4,474.6 L596.9,474.7 L598.4,474.8 L599.8,474.8 L601.3,474.9 L602.7,475.0 L604.2,475.0 L605.7,475.1 L607.1,475.1 L608.6,475.1" stroke="#e8e070"/><path d="M96.2,461.4 L97.7,462.3 L99.1,463.2 L100.6,464.0 L102.1,464.9 L103.5,465.7 L105.0,466.5 L106.4,467.3 L107.9,468.1 L109.4,468.8 L110.8,469.5 L112.3,470.1 L113.8,470.7 L115.2,471.3 L116.7,471.8 L118.2,472.2 L119.6,472.6 L121.1,472.9 L122.6,473.2 L124.0,473.4 L125.5,473.6 L126.9,473.7 L128.4,473.8 L129.9,473.8 L131.3,473.8 L132.8,473.7 L134.3,473.6 L135.7,473.4 L137.2,473.1 L138.7,472.8 L140.1,472.5 L141.6,472.1 L143.0,471.7 L144.5,471.2 L146.0,470.7 L147.4,470.2 L148.9,469.6 L150.4,469.0 L151.8,468.3 L153.3,467.7 L154.8,467.0 L156.2,466.3 L157.7,465.6 L159.2,464.8 L160.6,464.0 L162.1,463.3 L163.5,462.5 L165.0,461.7 L166.5,460.9 L167.9,460.0 L169.4,459.2 L170.9,458.4 L172.3,457.6 L173.8,456.8 L175.3,456.0 L176.7,455.2 L178.2,454.4 L179.6,453.6 L181.1,452.8 L182.6,452.1 L184.0,451.3 L185.5,450.6 L187.0,449.9 L188.4,449.3 L189.9,448.6 L191.4,448.0 L192.8,447.3 L194.3,446.7 L195.8,446.1 L197.2,445.6 L198.7,445.0 L200.1,444.4 L201.6,443.9 L203.1,443.4 L204.5,442.9 L206.0,442.4 L207.5,441.9 L208.9,441.4 L210.4,440.9 L211.9,440.5 L213.3,440.0 L214.8,439.6 L216.2,439.1 L217.7,438.7 L219.2,438.2 L220.6,437.8 L222.1,437.4 L223.6,437.0 L225.0,436.5 L226.5,436.1 L228.0,435.7 L229.4,435.2 L230.9,434.8 L232.4,434.4 L233.8,434.0 L235.3,433.6 L236.7,433.2 L238.2,432.8 L239.7,432.4 L241.1,432.0 L242.6,431.6 L244.1,431.2 L245.5,430.8 L247.0,430.4 L248.5,430.0 L249.9,429.6 L251.4,429.2 L252.8,428.7 L254.3,428.2 L255.8,427.7 L257.2,427.2 L258.7,426.7 L260.2,426.1 L261.6,425.5 L263.1,424.8 L264.6,424.1 L266.0,423.3 L267.5,422.5 L269.0,421.6 L270.4,420.6 L271.9,419.5 L273.3,418.4 L274.8,417.1 L276.3,415.8 L277.7,414.3 L279.2,412.8 L280.7,411.1 L282.1,409.3 L283.6,407.4 L285.1,405.3 L286.5,403.1 L288.0,400.8 L289.4,398.3 L290.9,395.7 L292.4,392.9 L293.8,390.1 L295.3,387.1 L296.8,384.0 L298.2,380.7 L299.7,377.4 L301.2,374.0 L302.6,370.5 L304.1,367.0 L305.6,363.4 L307.0,359.8 L308.5,356.3 L309.9,352.7 L311.4,349.2 L312.9,345.8 L314.3,342.4 L315.8,339.2 L317.3,336.1 L318.7,333.2 L320.2,330.5 L321.7,327.9 L323.1,325.7 L324.6,323.6 L326.0,321.9 L327.5,320.4 L329.0,319.2 L330.4,318.3 L331.9,317.7 L333.4,317.5 L334.8,317.5 L336.3,317.7 L337.8,318.2 L339.2,318.9 L340.7,319.8 L342.2,321.0 L343.6,322.4 L345.1,324.0 L346.5,325.8 L348.0,327.8 L349.5,330.0 L350.9,332.3 L352.4,334.9 L353.9,337.6 L355.3,340.4 L356.8,343.4 L358.3,346.5 L359.7,349.7 L361.2,353.0 L362.6,356.4 L364.1,359.6 L365.6,363.0 L367.0,366.5 L368.5,369.9 L370.0,373.3 L371.4,376.7 L372.9,380.2 L374.4,383.6 L375.8,386.9 L377.3,390.3 L378.8,393.7 L380.2,397.0 L381.7,400.3 L383.1,403.6 L384.6,406.8 L386.1,410.1 L387.5,413.2 L389.0,416.4 L390.5,419.5 L391.9,422.5 L393.4,425.5 L394.9,428.4 L396.3,431.3 L397.8,434.0 L399.2,436.7 L400.7,439.3 L402.2,441.9 L403.6,444.3 L405.1,446.6 L406.6,448.8 L408.0,450.9 L409.5,452.8 L411.0,454.7 L412.4,456.4 L413.9,458.0 L415.4,459.5 L416.8,460.9 L418.3,462.2 L419.7,463.4 L421.2,464.4 L422.7,465.4 L424.1,466.3 L425.6,467.1 L427.1,467.8 L428.5,468.4 L430.0,469.0 L431.5,469.5 L432.9,469.9 L434.4,470.3 L435.8,470.7 L437.3,471.0 L438.8,471.3 L440.2,471.5 L441.7,471.7 L443.2,471.9 L444.6,472.1 L446.1,472.2 L447.6,472.4 L449.0,472.5 L450.5,472.6 L452.0,472.7 L453.4,472.7 L454.9,472.8 L456.3,472.9 L457.8,472.9 L459.3,473.0 L460.7,473.0 L462.2,473.0 L463.7,473.1 L465.1,473.1 L466.6,473.1 L468.1,473.1 L469.5,473.1 L471.0,473.2 L472.4,473.2 L473.9,473.2 L475.4,473.2 L476.8,473.2 L478.3,473.2 L479.8,473.2 L481.2,473.2 L482.7,473.2 L484.2,473.2 L485.6,473.2 L487.1,473.2 L488.6,473.2 L490.0,473.2 L491.5,473.2 L492.9,473.2 L494.4,473.2 L495.9,473.3 L497.3,473.3 L498.8,473.3 L500.3,473.3 L501.7,473.3 L503.2,473.3 L504.7,473.3 L506.1,473.3 L507.6,473.3 L509.0,473.3 L510.5,473.3 L512.0,473.3 L513.4,473.3 L514.9,473.3 L516.4,473.3 L517.8,473.3 L519.3,473.3 L520.8,473.3 L522.2,473.3 L523.7,473.3 L525.2,473.3 L526.6,473.3 L528.1,473.3 L529.5,473.3 L531.0,473.3 L532.5,473.3 L533.9,473.3 L535.4,473.3 L536.9,473.4 L538.3,473.4 L539.8,473.4 L541.3,473.4 L542.7,473.5 L544.2,473.5 L545.6,473.6 L547.1,473.7 L548.6,473.8 L550.0,473.9 L551.5,474.0 L553.0,474.1 L554.4,474.2 L555.9,474.4 L557.4,474.5 L558.8,474.6 L560.3,474.7 L561.8,474.8 L563.2,474.8 L564.7,474.9 L566.1,475.0 L567.6,475.0 L569.1,475.1 L570.5,475.1 L572.0,475.1 L573.5,475.1 L574.9,475.1 L576.4,475.2 L577.9,475.2 L579.3,475.2 L580.8,475.2 L582.2,475.2 L583.7,475.2 L585.2,475.2 L586.6,475.2 L588.1,475.2 L589.6,475.2 L591.0,475.2 L592.5,475.2 L594.0,475.2 L595.4,475.2 L596.9,475.2 L598.4,475.2 L599.8,475.2 L601.3,475.2 L602.7,475.2 L604.2,475.2 L605.7,475.2 L607.1,475.2 L608.6,475.2" stroke="#50c0e0"/><path d="M96.2,461.3 L97.7,461.6 L99.1,462.0 L100.6,462.3 L102.1,462.7 L103.5,463.1 L105.0,463.5 L106.4,463.9 L107.9,464.3 L109.4,464.8 L110.8,465.2 L112.3,465.7 L113.8,466.2 L115.2,466.8 L116.7,467.4 L118.2,467.9 L119.6,468.5 L121.1,469.1 L122.6,469.6 L124.0,470.1 L125.5,470.6 L126.9,471.0 L128.4,471.4 L129.9,471.6 L131.3,471.8 L132.8,471.9 L134.3,471.9 L135.7,471.8 L137.2,471.6 L138.7,471.3 L140.1,471.0 L141.6,470.5 L143.0,470.1 L144.5,469.5 L146.0,468.9 L147.4,468.3 L148.9,467.6 L150.4,466.9 L151.8,466.2 L153.3,465.5 L154.8,464.8 L156.2,464.1 L157.7,463.4 L159.2,462.7 L160.6,461.9 L162.1,461.2 L163.5,460.5 L165.0,459.8 L166.5,459.1 L167.9,458.5 L169.4,457.8 L170.9,457.1 L172.3,456.4 L173.8,455.7 L175.3,455.0 L176.7,454.3 L178.2,453.6 L179.6,452.9 L181.1,452.2 L182.6,451.5 L184.0,450.8 L185.5,450.1 L187.0,449.4 L188.4,448.7 L189.9,448.0 L191.4,447.3 L192.8,446.5 L194.3,445.8 L195.8,445.1 L197.2,444.4 L198.7,443.7 L200.1,442.9 L201.6,442.2 L203.1,441.5 L204.5,440.7 L206.0,440.0 L207.5,439.3 L208.9,438.5 L210.4,437.8 L211.9,437.1 L213.3,436.3 L214.8,435.6 L216.2,434.8 L217.7,434.1 L219.2,433.3 L220.6,432.6 L222.1,431.8 L223.6,431.0 L225.0,430.3 L226.5,429.5 L228.0,428.7 L229.4,427.9 L230.9,427.2 L232.4,426.4 L233.8,425.7 L235.3,424.9 L236.7,424.1 L238.2,423.4 L239.7,422.6 L241.1,421.9 L242.6,421.1 L244.1,420.3 L245.5,419.6 L247.0,418.8 L248.5,417.9 L249.9,417.1 L251.4,416.3 L252.8,415.4 L254.3,414.5 L255.8,413.5 L257.2,412.6 L258.7,411.5 L260.2,410.5 L261.6,409.4 L263.1,408.2 L264.6,407.0 L266.0,405.8 L267.5,404.5 L269.0,403.1 L270.4,401.6 L271.9,400.1 L273.3,398.6 L274.8,396.9 L276.3,395.2 L277.7,393.4 L279.2,391.6 L280.7,389.7 L282.1,387.7 L283.6,385.6 L285.1,383.5 L286.5,381.4 L288.0,379.1 L289.4,376.9 L290.9,374.6 L292.4,372.2 L293.8,369.8 L295.3,367.5 L296.8,365.1 L298.2,362.7 L299.7,360.3 L301.2,357.9 L302.6,355.6 L304.1,353.3 L305.6,351.1 L307.0,348.9 L308.5,346.9 L309.9,344.9 L311.4,343.0 L312.9,341.3 L314.3,339.6 L315.8,338.1 L317.3,336.8 L318.7,335.6 L320.2,334.6 L321.7,333.7 L323.1,333.0 L324.6,332.4 L326.0,332.1 L327.5,332.0 L329.0,332.3 L330.4,332.9 L331.9,333.9 L333.4,335.2 L334.8,336.9 L336.3,338.9 L337.8,341.2 L339.2,343.8 L340.7,346.7 L342.2,349.8 L343.6,353.1 L345.1,356.7 L346.5,360.4 L348.0,364.3 L349.5,368.3 L350.9,371.9 L352.4,375.9 L353.9,379.9 L355.3,383.9 L356.8,387.9 L358.3,391.9 L359.7,395.8 L361.2,399.7 L362.6,403.6 L364.1,407.4 L365.6,411.2 L367.0,414.9 L368.5,418.6 L370.0,422.2 L371.4,425.7 L372.9,429.1 L374.4,432.5 L375.8,435.7 L377.3,438.8 L378.8,441.8 L380.2,444.6 L381.7,447.3 L383.1,449.9 L384.6,452.2 L386.1,454.5 L387.5,456.5 L389.0,458.4 L390.5,460.1 L391.9,461.7 L393.4,463.1 L394.9,464.4 L396.3,465.5 L397.8,466.5 L399.2,467.4 L400.7,468.2 L402.2,468.9 L403.6,469.5 L405.1,470.0 L406.6,470.5 L408.0,470.9 L409.5,471.2 L411.0,471.5 L412.4,471.8 L413.9,472.0 L415.4,472.2 L416.8,472.3 L418.3,472.5 L419.7,472.6 L421.2,472.7 L422.7,472.8 L424.1,472.8 L425.6,472.9 L427.1,473.0 L428.5,473.0 L430.0,473.0 L431.5,473.1 L432.9,473.1 L434.4,473.1 L435.8,473.2 L437.3,473.2 L438.8,473.2 L440.2,473.2 L441.7,473.2 L443.2,473.2 L444.6,473.2 L446.1,473.2 L447.6,473.2 L449.0,473.2 L450.5,473.2 L452.0,473.2 L453.4,473.2 L454.9,473.3 L456.3,473.3 L457.8,473.3 L459.3,473.3 L460.7,473.3 L462.2,473.3 L463.7,473.3 L465.1,473.3 L466.6,473.3 L468.1,473.3 L469.5,473.3 L471.0,473.3 L472.4,473.3 L473.9,473.3 L475.4,473.3 L476.8,473.3 L478.3,473.3 L479.8,473.3 L481.2,473.3 L482.7,473.3 L484.2,473.3 L485.6,473.3 L487.1,473.3 L488.6,473.3 L490.0,473.3 L491.5,473.3 L492.9,473.3 L494.4,473.3 L495.9,473.3 L497.3,473.3 L498.8,473.3 L500.3,473.3 L501.7,473.3 L503.2,473.3 L504.7,473.3 L506.1,473.3 L507.6,473.3 L509.0,473.3 L510.5,473.3 L512.0,473.3 L513.4,473.3 L514.9,473.3 L516.4,473.3 L517.8,473.3 L519.3,473.3 L520.8,473.3 L522.2,473.3 L523.7,473.3 L525.2,473.3 L526.6,473.3 L528.1,473.3 L529.5,473.3 L531.0,473.3 L532.5,473.3 L533.9,473.3 L535.4,473.3 L536.9,473.4 L538.3,473.4 L539.8,473.4 L541.3,473.4 L542.7,473.5 L544.2,473.5 L545.6,473.6 L547.1,473.7 L548.6,473.8 L550.0,473.9 L551.5,474.0 L553.0,474.1 L554.4,474.2 L555.9,474.4 L557.4,474.5 L558.8,474.6 L560.3,474.7 L561.8,474.8 L563.2,474.8 L564.7,474.9 L566.1,475.0 L567.6,475.0 L569.1,475.1 L570.5,475.1 L572.0,475.1 L573.5,475.1 L574.9,475.1 L576.4,475.2 L577.9,475.2 L579.3,475.2 L580.8,475.2 L582.2,475.2 L583.7,475.2 L585.2,475.2 L586.6,475.2 L588.1,475.2 L589.6,475.2 L591.0,475.2 L592.5,475.2 L594.0,475.2 L595.4,475.2 L596.9,475.2 L598.4,475.2 L599.8,475.2 L601.3,475.2 L602.7,475.2 L604.2,475.2 L605.7,475.2 L607.1,475.2 L608.6,475.2" stroke="#e8e080"/><path d="M96.2,437.6 L97.7,438.3 L99.1,439.0 L100.6,439.7 L102.1,440.3 L103.5,441.0 L105.0,441.7 L106.4,442.3 L107.9,443.0 L109.4,443.6 L110.8,444.2 L112.3,444.8 L113.8,445.4 L115.2,445.9 L116.7,446.5 L118.2,447.0 L119.6,447.4 L121.1,447.9 L122.6,448.3 L124.0,448.6 L125.5,449.0 L126.9,449.3 L128.4,449.5 L129.9,449.7 L131.3,449.8 L132.8,449.9 L134.3,449.9 L135.7,449.8 L137.2,449.7 L138.7,449.5 L140.1,449.3 L141.6,449.0 L143.0,448.6 L144.5,448.2 L146.0,447.7 L147.4,447.2 L148.9,446.5 L150.4,445.8 L151.8,445.1 L153.3,444.2 L154.8,443.3 L156.2,442.3 L157.7,441.3 L159.2,440.2 L160.6,439.0 L162.1,437.8 L163.5,436.6 L165.0,435.3 L166.5,434.0 L167.9,432.7 L169.4,431.3 L170.9,430.0 L172.3,428.7 L173.8,427.3 L175.3,426.0 L176.7,424.7 L178.2,423.4 L179.6,422.2 L181.1,421.0 L182.6,419.8 L184.0,418.7 L185.5,417.6 L187.0,416.6 L188.4,415.7 L189.9,414.8 L191.4,413.9 L192.8,413.1 L194.3,412.3 L195.8,411.6 L197.2,410.9 L198.7,410.3 L200.1,409.7 L201.6,409.1 L203.1,408.5 L204.5,408.0 L206.0,407.5 L207.5,407.0 L208.9,406.5 L210.4,406.1 L211.9,405.6 L213.3,405.2 L214.8,404.7 L216.2,404.3 L217.7,403.8 L219.2,403.4 L220.6,402.9 L222.1,402.4 L223.6,401.9 L225.0,401.3 L226.5,400.8 L228.0,400.2 L229.4,399.5 L230.9,398.8 L232.4,398.1 L233.8,397.3 L235.3,396.5 L236.7,395.6 L238.2,394.7 L239.7,393.7 L241.1,392.7 L242.6,391.6 L244.1,390.4 L245.5,389.1 L247.0,387.8 L248.5,386.4 L249.9,384.9 L251.4,383.3 L252.8,381.6 L254.3,379.9 L255.8,378.0 L257.2,376.1 L258.7,374.1 L260.2,372.0 L261.6,369.8 L263.1,367.4 L264.6,365.1 L266.0,362.6 L267.5,360.0 L269.0,357.3 L270.4,354.6 L271.9,351.8 L273.3,348.9 L274.8,345.9 L276.3,342.9 L277.7,339.9 L279.2,336.8 L280.7,333.6 L282.1,330.4 L283.6,327.2 L285.1,324.0 L286.5,320.8 L288.0,317.6 L289.4,314.5 L290.9,311.4 L292.4,308.3 L293.8,305.3 L295.3,302.3 L296.8,299.4 L298.2,296.7 L299.7,294.0 L301.2,291.5 L302.6,289.1 L304.1,286.8 L305.6,284.7 L307.0,282.7 L308.5,281.0 L309.9,279.4 L311.4,278.0 L312.9,276.8 L314.3,275.8 L315.8,275.0 L317.3,274.4 L318.7,274.0 L320.2,273.8 L321.7,274.0 L323.1,274.6 L324.6,275.7 L326.0,277.4 L327.5,279.5 L329.0,282.1 L330.4,285.1 L331.9,288.5 L333.4,292.3 L334.8,296.6 L336.3,301.1 L337.8,305.9 L339.2,311.1 L340.7,316.4 L342.2,322.0 L343.6,327.7 L345.1,333.4 L346.5,339.2 L348.0,344.9 L349.5,350.7 L350.9,356.5 L352.4,362.2 L353.9,367.9 L355.3,373.6 L356.8,379.3 L358.3,385.0 L359.7,390.6 L361.2,396.1 L362.6,401.6 L364.1,407.1 L365.6,412.4 L367.0,417.6 L368.5,422.7 L370.0,427.6 L371.4,432.3 L372.9,436.8 L374.4,441.1 L375.8,445.1 L377.3,448.8 L378.8,452.2 L380.2,455.3 L381.7,458.0 L383.1,460.5 L384.6,462.6 L386.1,464.4 L387.5,466.0 L389.0,467.3 L390.5,468.4 L391.9,469.3 L393.4,470.1 L394.9,470.7 L396.3,471.2 L397.8,471.6 L399.2,471.9 L400.7,472.2 L402.2,472.4 L403.6,472.6 L405.1,472.7 L406.6,472.8 L408.0,472.9 L409.5,473.0 L411.0,473.1 L412.4,473.1 L413.9,473.1 L415.4,473.2 L416.8,473.2 L418.3,473.2 L419.7,473.2 L421.2,473.2 L422.7,473.2 L424.1,473.2 L425.6,473.3 L427.1,473.3 L428.5,473.3 L430.0,473.3 L431.5,473.3 L432.9,473.3 L434.4,473.3 L435.8,473.3 L437.3,473.3 L438.8,473.3 L440.2,473.3 L441.7,473.3 L443.2,473.3 L444.6,473.3 L446.1,473.3 L447.6,473.3 L449.0,473.3 L450.5,473.3 L452.0,473.3 L453.4,473.3 L454.9,473.3 L456.3,473.3 L457.8,473.3 L459.3,473.3 L460.7,473.3 L462.2,473.3 L463.7,473.3 L465.1,473.3 L466.6,473.3 L468.1,473.3 L469.5,473.3 L471.0,473.3 L472.4,473.3 L473.9,473.3 L475.4,473.3 L476.8,473.3 L478.3,473.3 L479.8,473.3 L481.2,473.3 L482.7,473.3 L484.2,473.3 L485.6,473.3 L487.1,473.3 L488.6,473.3 L490.0,473.3 L491.5,473.3 L492.9,473.3 L494.4,473.3 L495.9,473.3 L497.3,473.3 L498.8,473.3 L500.3,473.3 L501.7,473.3 L503.2,473.3 L504.7,473.3 L506.1,473.3 L507.6,473.3 L509.0,473.3 L510.5,473.3 L512.0,473.3 L513.4,473.3 L514.9,473.3 L516.4,473.3 L517.8,473.3 L519.3,473.3 L520.8,473.3 L522.2,473.3 L523.7,473.3 L525.2,473.3 L526.6,473.3 L528.1,473.3 L529.5,473.3 L531.0,473.3 L532.5,473.3 L533.9,473.3 L535.4,473.3 L536.9,473.4 L538.3,473.4 L539.8,473.4 L541.3,473.4 L542.7,473.5 L544.2,473.5 L545.6,473.6 L547.1,473.7 L548.6,473.8 L550.0,473.9 L551.5,474.0 L553.0,474.1 L554.4,474.2 L555.9,474.4 L557.4,474.5 L558.8,474.6 L560.3,474.7 L561.8,474.8 L563.2,474.8 L564.7,474.9 L566.1,475.0 L567.6,475.0 L569.1,475.1 L570.5,475.1 L572.0,475.1 L573.5,475.1 L574.9,475.1 L576.4,475.2 L577.9,475.2 L579.3,475.2 L580.8,475.2 L582.2,475.2 L583.7,475.2 L585.2,475.2 L586.6,475.2 L588.1,475.2 L589.6,475.2 L591.0,475.2 L592.5,475.2 L594.0,475.2 L595.4,475.2 L596.9,475.2 L598.4,475.2 L599.8,475.2 L601.3,475.2 L602.7,475.2 L604.2,475.2 L605.7,475.2 L607.1,475.2 L608.6,475.2" stroke="#e04080"/><path d="M96.2,448.4 L97.7,449.3 L99.1,450.3 L100.6,451.2 L102.1,452.1 L103.5,453.0 L105.0,453.9 L106.4,454.7 L107.9,455.5 L109.4,456.3 L110.8,457.0 L112.3,457.7 L113.8,458.3 L115.2,458.9 L116.7,459.5 L118.2,459.9 L119.6,460.4 L121.1,460.7 L122.6,461.0 L124.0,461.3 L125.5,461.5 L126.9,461.7 L128.4,461.8 L129.9,461.8 L131.3,461.8 L132.8,461.7 L134.3,461.6 L135.7,461.5 L137.2,461.3 L138.7,461.0 L140.1,460.7 L141.6,460.3 L143.0,459.9 L144.5,459.5 L146.0,459.0 L147.4,458.5 L148.9,458.0 L150.4,457.4 L151.8,456.8 L153.3,456.1 L154.8,455.5 L156.2,454.8 L157.7,454.0 L159.2,453.3 L160.6,452.5 L162.1,451.7 L163.5,450.9 L165.0,450.1 L166.5,449.3 L167.9,448.4 L169.4,447.5 L170.9,446.7 L172.3,445.8 L173.8,444.9 L175.3,444.0 L176.7,443.1 L178.2,442.2 L179.6,441.3 L181.1,440.4 L182.6,439.5 L184.0,438.6 L185.5,437.7 L187.0,436.9 L188.4,436.0 L189.9,435.1 L191.4,434.3 L192.8,433.4 L194.3,432.6 L195.8,431.8 L197.2,430.9 L198.7,430.1 L200.1,429.3 L201.6,428.5 L203.1,427.6 L204.5,426.8 L206.0,426.0 L207.5,425.2 L208.9,424.4 L210.4,423.6 L211.9,422.8 L213.3,421.9 L214.8,421.1 L216.2,420.3 L217.7,419.5 L219.2,418.7 L220.6,417.8 L222.1,417.0 L223.6,416.2 L225.0,415.3 L226.5,414.5 L228.0,413.6 L229.4,412.7 L230.9,411.9 L232.4,411.0 L233.8,410.1 L235.3,409.3 L236.7,408.4 L238.2,407.5 L239.7,406.6 L241.1,405.7 L242.6,404.8 L244.1,403.9 L245.5,402.9 L247.0,402.0 L248.5,401.0 L249.9,400.0 L251.4,398.9 L252.8,397.9 L254.3,396.8 L255.8,395.6 L257.2,394.4 L258.7,393.2 L260.2,392.0 L261.6,390.6 L263.1,389.3 L264.6,387.8 L266.0,386.4 L267.5,384.8 L269.0,383.2 L270.4,381.5 L271.9,379.8 L273.3,378.0 L274.8,376.1 L276.3,374.2 L277.7,372.1 L279.2,370.0 L280.7,367.9 L282.1,365.6 L283.6,363.3 L285.1,360.9 L286.5,358.4 L288.0,355.8 L289.4,353.2 L290.9,350.5 L292.4,347.8 L293.8,345.0 L295.3,342.1 L296.8,339.2 L298.2,336.2 L299.7,333.2 L301.2,330.1 L302.6,327.0 L304.1,323.9 L305.6,320.8 L307.0,317.7 L308.5,314.6 L309.9,311.5 L311.4,308.5 L312.9,305.4 L314.3,302.4 L315.8,299.5 L317.3,296.6 L318.7,293.8 L320.2,291.1 L321.7,288.5 L323.1,286.0 L324.6,283.6 L326.0,281.3 L327.5,279.2 L329.0,277.2 L330.4,275.3 L331.9,273.6 L333.4,272.1 L334.8,270.7 L336.3,269.5 L337.8,268.5 L339.2,267.7 L340.7,267.1 L342.2,266.6 L343.6,266.4 L345.1,266.4 L346.5,266.6 L348.0,267.1 L349.5,267.9 L350.9,268.9 L352.4,270.2 L353.9,271.6 L355.3,273.4 L356.8,275.3 L358.3,277.5 L359.7,279.9 L361.2,282.4 L362.6,285.2 L364.1,288.2 L365.6,291.3 L367.0,294.6 L368.5,298.0 L370.0,301.6 L371.4,305.3 L372.9,309.1 L374.4,313.1 L375.8,317.1 L377.3,321.2 L378.8,325.3 L380.2,329.4 L381.7,333.6 L383.1,337.7 L384.6,341.8 L386.1,346.0 L387.5,350.1 L389.0,354.2 L390.5,358.3 L391.9,362.5 L393.4,366.6 L394.9,370.7 L396.3,374.7 L397.8,378.8 L399.2,382.9 L400.7,386.9 L402.2,390.9 L403.6,394.9 L405.1,398.8 L406.6,402.8 L408.0,406.6 L409.5,410.5 L411.0,414.2 L412.4,417.9 L413.9,421.6 L415.4,425.1 L416.8,428.6 L418.3,432.0 L419.7,435.2 L421.2,438.4 L422.7,441.4 L424.1,444.3 L425.6,447.0 L427.1,449.6 L428.5,452.0 L430.0,454.2 L431.5,456.3 L432.9,458.2 L434.4,460.0 L435.8,461.6 L437.3,463.0 L438.8,464.3 L440.2,465.5 L441.7,466.5 L443.2,467.4 L444.6,468.2 L446.1,468.9 L447.6,469.5 L449.0,470.0 L450.5,470.5 L452.0,470.9 L453.4,471.2 L454.9,471.5 L456.3,471.7 L457.8,472.0 L459.3,472.2 L460.7,472.3 L462.2,472.5 L463.7,472.6 L465.1,472.7 L466.6,472.8 L468.1,472.8 L469.5,472.9 L471.0,473.0 L472.4,473.0 L473.9,473.0 L475.4,473.1 L476.8,473.1 L478.3,473.1 L479.8,473.1 L481.2,473.2 L482.7,473.2 L484.2,473.2 L485.6,473.2 L487.1,473.2 L488.6,473.2 L490.0,473.2 L491.5,473.2 L492.9,473.2 L494.4,473.2 L495.9,473.2 L497.3,473.2 L498.8,473.2 L500.3,473.2 L501.7,473.3 L503.2,473.3 L504.7,473.3 L506.1,473.3 L507.6,473.3 L509.0,473.3 L510.5,473.3 L512.0,473.3 L513.4,473.3 L514.9,473.3 L516.4,473.3 L517.8,473.3 L519.3,473.3 L520.8,473.3 L522.2,473.3 L523.7,473.3 L525.2,473.3 L526.6,473.3 L528.1,473.3 L529.5,473.3 L531.0,473.3 L532.5,473.3 L533.9,473.3 L535.4,473.3 L536.9,473.4 L538.3,473.4 L539.8,473.4 L541.3,473.4 L542.7,473.5 L544.2,473.5 L545.6,473.6 L547.1,473.7 L548.6,473.8 L550.0,473.9 L551.5,474.0 L553.0,474.1 L554.4,474.2 L555.9,474.4 L557.4,474.5 L558.8,474.6 L560.3,474.7 L561.8,474.8 L563.2,474.8 L564.7,474.9 L566.1,475.0 L567.6,475.0 L569.1,475.1 L570.5,475.1 L572.0,475.1 L573.5,475.1 L574.9,475.1 L576.4,475.2 L577.9,475.2 L579.3,475.2 L580.8,475.2 L582.2,475.2 L583.7,475.2 L585.2,475.2 L586.6,475.2 L588.1,475.2 L589.6,475.2 L591.0,475.2 L592.5,475.2 L594.0,475.2 L595.4,475.2 L596.9,475.2 L598.4,475.2 L599.8,475.2 L601.3,475.2 L602.7,475.2 L604.2,475.2 L605.7,475.2 L607.1,475.2 L608.6,475.2" stroke="#5058d0"/><path d="M96.2,456.0 L97.7,456.4 L99.1,456.9 L100.6,457.4 L102.1,457.9 L103.5,458.4 L105.0,458.9 L106.4,459.4 L107.9,459.9 L109.4,460.4 L110.8,460.9 L112.3,461.4 L113.8,462.0 L115.2,462.5 L116.7,463.1 L118.2,463.6 L119.6,464.1 L121.1,464.7 L122.6,465.2 L124.0,465.6 L125.5,466.1 L126.9,466.4 L128.4,466.8 L129.9,467.0 L131.3,467.3 L132.8,467.4 L134.3,467.5 L135.7,467.4 L137.2,467.4 L138.7,467.2 L140.1,467.0 L141.6,466.7 L143.0,466.3 L144.5,465.9 L146.0,465.4 L147.4,464.9 L148.9,464.3 L150.4,463.7 L151.8,463.1 L153.3,462.3 L154.8,461.6 L156.2,460.8 L157.7,460.0 L159.2,459.1 L160.6,458.3 L162.1,457.4 L163.5,456.4 L165.0,455.5 L166.5,454.5 L167.9,453.6 L169.4,452.6 L170.9,451.7 L172.3,450.7 L173.8,449.7 L175.3,448.8 L176.7,447.8 L178.2,446.9 L179.6,445.9 L181.1,445.0 L182.6,444.2 L184.0,443.3 L185.5,442.5 L187.0,441.7 L188.4,440.9 L189.9,440.2 L191.4,439.5 L192.8,438.8 L194.3,438.2 L195.8,437.5 L197.2,436.9 L198.7,436.3 L200.1,435.7 L201.6,435.2 L203.1,434.6 L204.5,434.1 L206.0,433.6 L207.5,433.0 L208.9,432.6 L210.4,432.1 L211.9,431.6 L213.3,431.1 L214.8,430.6 L216.2,430.2 L217.7,429.7 L219.2,429.2 L220.6,428.8 L222.1,428.3 L223.6,427.8 L225.0,427.3 L226.5,426.8 L228.0,426.3 L229.4,425.7 L230.9,425.2 L232.4,424.6 L233.8,424.0 L235.3,423.4 L236.7,422.7 L238.2,422.1 L239.7,421.4 L241.1,420.7 L242.6,419.9 L244.1,419.1 L245.5,418.3 L247.0,417.4 L248.5,416.4 L249.9,415.5 L251.4,414.4 L252.8,413.3 L254.3,412.1 L255.8,410.9 L257.2,409.5 L258.7,408.1 L260.2,406.7 L261.6,405.1 L263.1,403.4 L264.6,401.7 L266.0,399.9 L267.5,397.9 L269.0,395.9 L270.4,393.8 L271.9,391.5 L273.3,389.2 L274.8,386.8 L276.3,384.2 L277.7,381.6 L279.2,378.9 L280.7,376.0 L282.1,373.1 L283.6,370.1 L285.1,367.1 L286.5,363.9 L288.0,360.7 L289.4,357.4 L290.9,354.1 L292.4,350.7 L293.8,347.3 L295.3,343.9 L296.8,340.5 L298.2,337.0 L299.7,333.6 L301.2,330.2 L302.6,326.9 L304.1,323.6 L305.6,320.4 L307.0,317.3 L308.5,314.2 L309.9,311.3 L311.4,308.5 L312.9,305.9 L314.3,303.4 L315.8,301.0 L317.3,298.8 L318.7,296.9 L320.2,295.1 L321.7,293.5 L323.1,292.1 L324.6,291.0 L326.0,290.1 L327.5,289.4 L329.0,289.0 L330.4,288.8 L331.9,288.9 L333.4,289.4 L334.8,290.5 L336.3,292.0 L337.8,293.9 L339.2,296.3 L340.7,299.1 L342.2,302.3 L343.6,305.8 L345.1,309.7 L346.5,313.9 L348.0,318.4 L349.5,323.1 L350.9,328.1 L352.4,333.2 L353.9,338.5 L355.3,343.7 L356.8,349.1 L358.3,354.4 L359.7,359.7 L361.2,365.0 L362.6,370.3 L364.1,375.6 L365.6,380.8 L367.0,386.0 L368.5,391.2 L370.0,396.4 L371.4,401.5 L372.9,406.5 L374.4,411.4 L375.8,416.3 L377.3,421.0 L378.8,425.6 L380.2,430.1 L381.7,434.3 L383.1,438.4 L384.6,442.3 L386.1,446.0 L387.5,449.3 L389.0,452.5 L390.5,455.3 L391.9,457.9 L393.4,460.1 L394.9,462.2 L396.3,463.9 L397.8,465.4 L399.2,466.7 L400.7,467.9 L402.2,468.8 L403.6,469.6 L405.1,470.2 L406.6,470.8 L408.0,471.2 L409.5,471.6 L411.0,471.9 L412.4,472.2 L413.9,472.4 L415.4,472.5 L416.8,472.7 L418.3,472.8 L419.7,472.9 L421.2,473.0 L422.7,473.0 L424.1,473.1 L425.6,473.1 L427.1,473.1 L428.5,473.2 L430.0,473.2 L431.5,473.2 L432.9,473.2 L434.4,473.2 L435.8,473.2 L437.3,473.2 L438.8,473.2 L440.2,473.3 L441.7,473.3 L443.2,473.3 L444.6,473.3 L446.1,473.3 L447.6,473.3 L449.0,473.3 L450.5,473.3 L452.0,473.3 L453.4,473.3 L454.9,473.3 L456.3,473.3 L457.8,473.3 L459.3,473.3 L460.7,473.3 L462.2,473.3 L463.7,473.3 L465.1,473.3 L466.6,473.3 L468.1,473.3 L469.5,473.3 L471.0,473.3 L472.4,473.3 L473.9,473.3 L475.4,473.3 L476.8,473.3 L478.3,473.3 L479.8,473.3 L481.2,473.3 L482.7,473.3 L484.2,473.3 L485.6,473.3 L487.1,473.3 L488.6,473.3 L490.0,473.3 L491.5,473.3 L492.9,473.3 L494.4,473.3 L495.9,473.3 L497.3,473.3 L498.8,473.3 L500.3,473.3 L501.7,473.3 L503.2,473.3 L504.7,473.3 L506.1,473.3 L507.6,473.3 L509.0,473.3 L510.5,473.3 L512.0,473.3 L513.4,473.3 L514.9,473.3 L516.4,473.3 L517.8,473.3 L519.3,473.3 L520.8,473.3 L522.2,473.3 L523.7,473.3 L525.2,473.3 L526.6,473.3 L528.1,473.3 L529.5,473.3 L531.0,473.3 L532.5,473.3 L533.9,473.3 L535.4,473.3 L536.9,473.4 L538.3,473.4 L539.8,473.4 L541.3,473.4 L542.7,473.5 L544.2,473.5 L545.6,473.6 L547.1,473.7 L548.6,473.8 L550.0,473.9 L551.5,474.0 L553.0,474.1 L554.4,474.2 L555.9,474.4 L557.4,474.5 L558.8,474.6 L560.3,474.7 L561.8,474.8 L563.2,474.8 L564.7,474.9 L566.1,475.0 L567.6,475.0 L569.1,475.1 L570.5,475.1 L572.0,475.1 L573.5,475.1 L574.9,475.1 L576.4,475.2 L577.9,475.2 L579.3,475.2 L580.8,475.2 L582.2,475.2 L583.7,475.2 L585.2,475.2 L586.6,475.2 L588.1,475.2 L589.6,475.2 L591.0,475.2 L592.5,475.2 L594.0,475.2 L595.4,475.2 L596.9,475.2 L598.4,475.2 L599.8,475.2 L601.3,475.2 L602.7,475.2 L604.2,475.2 L605.7,475.2 L607.1,475.2 L608.6,475.2" stroke="#e0c850"/><path d="M96.2,436.3 L97.7,437.0 L99.1,437.7 L100.6,438.5 L102.1,439.2 L103.5,439.9 L105.0,440.6 L106.4,441.3 L107.9,442.0 L109.4,442.7 L110.8,443.3 L112.3,444.0 L113.8,444.6 L115.2,445.3 L116.7,445.9 L118.2,446.5 L119.6,447.0 L121.1,447.6 L122.6,448.0 L124.0,448.5 L125.5,448.9 L126.9,449.2 L128.4,449.5 L129.9,449.7 L131.3,449.8 L132.8,449.9 L134.3,449.9 L135.7,449.8 L137.2,449.6 L138.7,449.4 L140.1,449.1 L141.6,448.7 L143.0,448.3 L144.5,447.8 L146.0,447.2 L147.4,446.6 L148.9,446.0 L150.4,445.2 L151.8,444.5 L153.3,443.7 L154.8,442.8 L156.2,441.9 L157.7,441.0 L159.2,440.0 L160.6,439.1 L162.1,438.0 L163.5,437.0 L165.0,436.0 L166.5,434.9 L167.9,433.8 L169.4,432.7 L170.9,431.6 L172.3,430.5 L173.8,429.5 L175.3,428.4 L176.7,427.3 L178.2,426.3 L179.6,425.2 L181.1,424.2 L182.6,423.2 L184.0,422.2 L185.5,421.3 L187.0,420.4 L188.4,419.5 L189.9,418.7 L191.4,417.8 L192.8,417.0 L194.3,416.3 L195.8,415.5 L197.2,414.7 L198.7,414.0 L200.1,413.3 L201.6,412.6 L203.1,411.9 L204.5,411.2 L206.0,410.5 L207.5,409.9 L208.9,409.2 L210.4,408.5 L211.9,407.8 L213.3,407.1 L214.8,406.4 L216.2,405.7 L217.7,405.0 L219.2,404.3 L220.6,403.5 L222.1,402.7 L223.6,401.9 L225.0,401.1 L226.5,400.2 L228.0,399.3 L229.4,398.3 L230.9,397.3 L232.4,396.3 L233.8,395.2 L235.3,394.1 L236.7,393.0 L238.2,391.8 L239.7,390.5 L241.1,389.2 L242.6,387.8 L244.1,386.4 L245.5,384.9 L247.0,383.3 L248.5,381.6 L249.9,379.9 L251.4,378.1 L252.8,376.2 L254.3,374.2 L255.8,372.2 L257.2,370.0 L258.7,367.8 L260.2,365.4 L261.6,363.0 L263.1,360.5 L264.6,357.8 L266.0,355.1 L267.5,352.3 L269.0,349.4 L270.4,346.3 L271.9,343.2 L273.3,339.9 L274.8,336.6 L276.3,333.2 L277.7,329.6 L279.2,326.0 L280.7,322.3 L282.1,318.5 L283.6,314.6 L285.1,310.6 L286.5,306.6 L288.0,302.5 L289.4,298.4 L290.9,294.1 L292.4,289.9 L293.8,285.6 L295.3,281.3 L296.8,276.9 L298.2,272.5 L299.7,268.2 L301.2,263.8 L302.6,259.5 L304.1,255.2 L305.6,250.9 L307.0,246.7 L308.5,242.5 L309.9,238.4 L311.4,234.4 L312.9,230.5 L314.3,226.7 L315.8,223.0 L317.3,219.5 L318.7,216.0 L320.2,212.8 L321.7,209.6 L323.1,206.7 L324.6,203.9 L326.0,201.4 L327.5,199.0 L329.0,196.8 L330.4,194.8 L331.9,193.1 L333.4,191.6 L334.8,190.3 L336.3,189.2 L337.8,188.4 L339.2,187.8 L340.7,187.4 L342.2,187.3 L343.6,187.4 L345.1,187.8 L346.5,188.5 L348.0,189.5 L349.5,190.7 L350.9,192.2 L352.4,193.9 L353.9,195.9 L355.3,198.2 L356.8,200.7 L358.3,203.5 L359.7,206.4 L361.2,209.6 L362.6,213.0 L364.1,216.6 L365.6,220.4 L367.0,224.4 L368.5,228.6 L370.0,232.9 L371.4,237.4 L372.9,242.0 L374.4,246.7 L375.8,251.5 L377.3,256.5 L378.8,261.5 L380.2,266.6 L381.7,271.8 L383.1,277.0 L384.6,282.3 L386.1,287.6 L387.5,293.0 L389.0,298.3 L390.5,303.7 L391.9,309.0 L393.4,314.4 L394.9,319.7 L396.3,324.9 L397.8,330.2 L399.2,335.3 L400.7,340.4 L402.2,345.5 L403.6,350.5 L405.1,355.3 L406.6,360.1 L408.0,364.8 L409.5,369.5 L411.0,374.0 L412.4,378.4 L413.9,382.7 L415.4,386.8 L416.8,390.9 L418.3,394.8 L419.7,398.7 L421.2,402.4 L422.7,406.0 L424.1,409.4 L425.6,412.8 L427.1,416.0 L428.5,419.1 L430.0,422.1 L431.5,425.0 L432.9,427.7 L434.4,430.3 L435.8,432.9 L437.3,435.3 L438.8,437.6 L440.2,439.8 L441.7,441.8 L443.2,443.8 L444.6,445.7 L446.1,447.5 L447.6,449.2 L449.0,450.8 L450.5,452.3 L452.0,453.8 L453.4,455.1 L454.9,456.4 L456.3,457.6 L457.8,458.7 L459.3,459.8 L460.7,460.8 L462.2,461.7 L463.7,462.6 L465.1,463.4 L466.6,464.2 L468.1,464.9 L469.5,465.5 L471.0,466.1 L472.4,466.7 L473.9,467.3 L475.4,467.7 L476.8,468.2 L478.3,468.6 L479.8,469.0 L481.2,469.4 L482.7,469.7 L484.2,470.0 L485.6,470.3 L487.1,470.6 L488.6,470.8 L490.0,471.0 L491.5,471.3 L492.9,471.4 L494.4,471.6 L495.9,471.8 L497.3,471.9 L498.8,472.0 L500.3,472.2 L501.7,472.3 L503.2,472.4 L504.7,472.5 L506.1,472.5 L507.6,472.6 L509.0,472.7 L510.5,472.7 L512.0,472.8 L513.4,472.8 L514.9,472.9 L516.4,472.9 L517.8,473.0 L519.3,473.0 L520.8,473.0 L522.2,473.1 L523.7,473.1 L525.2,473.1 L526.6,473.1 L528.1,473.2 L529.5,473.2 L531.0,473.2 L532.5,473.2 L533.9,473.2 L535.4,473.3 L536.9,473.3 L538.3,473.3 L539.8,473.4 L541.3,473.4 L542.7,473.5 L544.2,473.5 L545.6,473.6 L547.1,473.7 L548.6,473.8 L550.0,473.9 L551.5,474.0 L553.0,474.1 L554.4,474.2 L555.9,474.3 L557.4,474.5 L558.8,474.6 L560.3,474.7 L561.8,474.8 L563.2,474.8 L564.7,474.9 L566.1,475.0 L567.6,475.0 L569.1,475.0 L570.5,475.1 L572.0,475.1 L573.5,475.1 L574.9,475.1 L576.4,475.2 L577.9,475.2 L579.3,475.2 L580.8,475.2 L582.2,475.2 L583.7,475.2 L585.2,475.2 L586.6,475.2 L588.1,475.2 L589.6,475.2 L591.0,475.2 L592.5,475.2 L594.0,475.2 L595.4,475.2 L596.9,475.2 L598.4,475.2 L599.8,475.2 L601.3,475.2 L602.7,475.2 L604.2,475.2 L605.7,475.2 L607.1,475.2 L608.6,475.2" stroke="#8040d0"/></g></g></svg><svg width="644" height="578" viewBox="0 0 644 578" style="position:absolute;left:0;top:0"><path d="M95.0,475.8H609.3" stroke="#6e6e6e" stroke-width="1.8" fill="none"/><path d="M95.0,24.3H609.3" stroke="#6a6a6a" stroke-width="1.6" fill="none"/><path d="M95.0,23.5V476.59999999999997" stroke="#454545" stroke-width="1.9" fill="none"/><path d="M609.3,23.5V476.2" stroke="#3a3a3a" stroke-width="2" fill="none"/></svg>
<div class="title">Melt Curve</div>
<div class="ylab">Derivative Reporter (-Rn)</div>
<div class="yl" style="top:467.4px">0.0</div><div class="yl" style="top:392.8px">0.1</div><div class="yl" style="top:318.2px">0.2</div><div class="yl" style="top:243.7px">0.3</div><div class="yl" style="top:169.1px">0.4</div><div class="yl" style="top:94.5px">0.5</div><div class="yl" style="top:19.9px">0.6</div><div class="xl" style="left:65.3px">60.0</div><div class="xl" style="left:135.6px">65.0</div><div class="xl" style="left:213.0px">70.0</div><div class="xl" style="left:284.9px">75.0</div><div class="xl" style="left:355.3px">80.0</div><div class="xl" style="left:431.4px">85.0</div><div class="xl" style="left:504.7px">90.0</div><div class="xl" style="left:577.4px">95.0</div>
<div class="xlab">Temperature (<sup>o</sup>C)</div>
<div class="legend"></div>
<div class="legt"><span>Legend</span></div>
<div class="sw" style="left:8.1px;background:linear-gradient(90deg,#e41e14,#f0522a)"></div><div class="lt" style="left:31.1px">A</div><div class="sw" style="left:50.7px;background:linear-gradient(90deg,#e9ae2a,#dfe21e)"></div><div class="lt" style="left:73.7px">B</div><div class="sw" style="left:94.5px;background:linear-gradient(90deg,#55d42a,#5ee030)"></div><div class="lt" style="left:117.5px">C</div><div class="sw" style="left:139.6px;background:linear-gradient(90deg,#22d06a,#32e08a)"></div><div class="lt" style="left:162.6px">D</div><div class="sw" style="left:184.2px;background:linear-gradient(90deg,#2ad0ec,#2aa8e4)"></div><div class="lt" style="left:207.2px">E</div><div class="sw" style="left:228.1px;background:linear-gradient(90deg,#2a48dc,#2434d4)"></div><div class="lt" style="left:251.1px">F</div><div class="sw" style="left:271.7px;background:linear-gradient(90deg,#8020e0,#a83ce6)"></div><div class="lt" style="left:294.7px">G</div><div class="sw" style="left:316.4px;background:linear-gradient(90deg,#e8207e,#e0306e)"></div><div class="lt" style="left:339.4px">H</div>
</body></html>
